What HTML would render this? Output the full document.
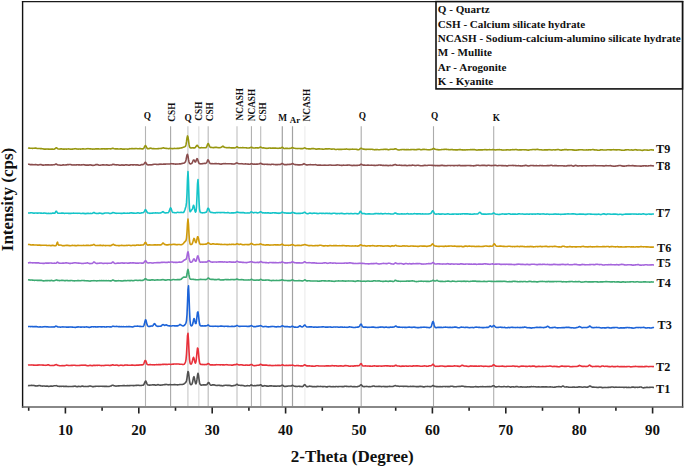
<!DOCTYPE html>
<html><head><meta charset="utf-8"><style>
html,body{margin:0;padding:0;background:#fff;width:685px;height:467px;overflow:hidden}
svg{display:block;font-family:"Liberation Serif",serif}
</style></head><body>
<svg width="685" height="467" viewBox="0 0 685 467">
<rect width="685" height="467" fill="#fff"/>
<line x1="145.5" y1="126.2" x2="145.5" y2="406" stroke="#b4b4b4" stroke-width="1.1"/>
<line x1="170.6" y1="126.2" x2="170.6" y2="406" stroke="#a8a8a8" stroke-width="1.1"/>
<line x1="187.9" y1="126.2" x2="187.9" y2="406" stroke="#cfcfcf" stroke-width="1.3"/>
<line x1="198.8" y1="126.2" x2="198.8" y2="406" stroke="#e0e0e0" stroke-width="1.3"/>
<line x1="208.2" y1="126.2" x2="208.2" y2="406" stroke="#bdbdbd" stroke-width="1.2"/>
<line x1="237.0" y1="126.2" x2="237.0" y2="406" stroke="#cdcdcd" stroke-width="1.4"/>
<line x1="251.4" y1="126.2" x2="251.4" y2="406" stroke="#a8a8a8" stroke-width="1.0"/>
<line x1="260.7" y1="126.2" x2="260.7" y2="406" stroke="#bdbdbd" stroke-width="1.1"/>
<line x1="282.3" y1="126.2" x2="282.3" y2="406" stroke="#a2a2a2" stroke-width="1.2"/>
<line x1="292.5" y1="126.2" x2="292.5" y2="406" stroke="#a2a2a2" stroke-width="1.2"/>
<line x1="304.9" y1="126.2" x2="304.9" y2="406" stroke="#eeeeee" stroke-width="1.3"/>
<line x1="361.2" y1="126.2" x2="361.2" y2="406" stroke="#ababab" stroke-width="1.1"/>
<line x1="433.5" y1="126.2" x2="433.5" y2="406" stroke="#ababab" stroke-width="1.1"/>
<line x1="493.7" y1="126.2" x2="493.7" y2="406" stroke="#b0b0b0" stroke-width="1.1"/>
<polyline fill="none" stroke="#979710" stroke-width="1.6" stroke-linejoin="round" points="28.0,147.92 28.5,148.06 29.0,148.12 29.5,148.14 30.0,148.27 30.5,148.32 31.0,148.27 31.5,148.26 32.0,148.33 32.5,148.38 33.0,148.29 33.5,148.28 34.0,148.24 34.5,148.18 35.0,148.03 35.5,148.14 36.0,148.11 36.5,148.29 37.0,148.43 37.5,148.57 38.0,148.44 38.5,148.52 39.0,148.53 39.5,148.55 40.0,148.49 40.5,148.66 41.0,148.66 41.5,148.64 42.0,148.73 42.5,148.81 43.0,148.87 43.5,149.03 44.0,149.08 44.5,149.03 45.0,149.12 45.5,149.12 46.0,148.98 46.5,149.02 47.0,149.12 47.5,149.00 48.0,149.06 48.5,149.15 49.0,149.10 49.5,149.14 50.0,149.30 50.5,149.16 51.0,149.15 51.5,149.24 52.0,149.08 52.5,149.08 53.0,149.15 53.5,149.19 54.0,149.22 54.5,149.08 55.0,148.76 55.5,148.27 56.0,147.85 56.5,147.72 57.0,148.15 57.5,148.56 58.0,148.90 58.5,149.05 59.0,149.06 59.5,149.04 60.0,149.10 60.5,148.90 61.0,148.78 61.5,148.87 62.0,149.01 62.5,149.01 63.0,149.13 63.5,149.13 64.0,149.12 64.5,149.14 65.0,149.06 65.5,149.06 66.0,149.11 66.5,149.11 67.0,148.99 67.5,148.94 68.0,148.96 68.5,148.91 69.0,148.99 69.5,149.05 70.0,149.13 70.5,149.17 71.0,149.18 71.5,149.17 72.0,149.12 72.5,149.16 73.0,149.03 73.5,149.07 74.0,148.88 74.5,148.74 75.0,148.67 75.5,148.70 76.0,148.68 76.5,148.96 77.0,149.04 77.5,149.02 78.0,149.09 78.5,149.11 79.0,148.94 79.5,148.99 80.0,149.08 80.5,149.10 81.0,148.99 81.5,149.00 82.0,149.01 82.5,148.89 83.0,148.87 83.5,148.88 84.0,148.95 84.5,148.96 85.0,149.04 85.5,148.98 86.0,149.03 86.5,148.82 87.0,148.73 87.5,148.74 88.0,148.63 88.5,148.70 89.0,148.72 89.5,148.85 90.0,148.76 90.5,148.96 91.0,148.91 91.5,148.93 92.0,148.96 92.5,149.12 93.0,149.06 93.5,149.03 94.0,149.12 94.5,148.97 95.0,148.94 95.5,148.91 96.0,148.92 96.5,148.87 97.0,148.90 97.5,148.73 98.0,148.85 98.5,148.85 99.0,148.97 99.5,149.01 100.0,149.05 100.5,148.94 101.0,148.91 101.5,148.84 102.0,148.81 102.5,148.84 103.0,148.76 103.5,148.74 104.0,148.86 104.5,148.84 105.0,148.78 105.5,148.90 106.0,149.05 106.5,148.84 107.0,148.87 107.5,148.89 108.0,148.75 108.5,148.70 109.0,148.80 109.5,148.82 110.0,148.80 110.5,148.95 111.0,148.82 111.5,148.70 112.0,148.41 112.5,148.18 113.0,148.22 113.5,148.39 114.0,148.64 114.5,148.84 115.0,148.94 115.5,148.83 116.0,148.91 116.5,148.86 117.0,148.85 117.5,148.89 118.0,149.00 118.5,149.00 119.0,149.05 119.5,149.02 120.0,148.92 120.5,148.90 121.0,148.92 121.5,148.88 122.0,148.96 122.5,149.11 123.0,149.10 123.5,149.09 124.0,149.07 124.5,149.13 125.0,148.99 125.5,148.99 126.0,148.96 126.5,149.05 127.0,149.07 127.5,149.26 128.0,149.12 128.5,148.96 129.0,148.96 129.5,148.75 130.0,148.65 130.5,148.78 131.0,148.78 131.5,148.58 132.0,148.67 132.5,148.67 133.0,148.59 133.5,148.71 134.0,148.79 134.5,148.66 135.0,148.65 135.5,148.59 136.0,148.48 136.5,148.57 137.0,148.67 137.5,148.71 138.0,148.70 138.5,148.77 139.0,148.66 139.5,148.60 140.0,148.59 140.5,148.60 141.0,148.67 141.5,148.76 142.0,148.96 142.5,148.83 143.0,148.87 143.5,148.59 144.0,147.95 144.5,146.72 145.0,145.82 145.5,145.52 146.0,146.14 146.5,147.18 147.0,148.11 147.5,148.67 148.0,148.77 148.5,148.66 149.0,148.60 149.5,148.48 150.0,148.16 150.5,148.12 151.0,148.36 151.5,148.41 152.0,148.46 152.5,148.61 153.0,148.72 153.5,148.63 154.0,148.63 154.5,148.70 155.0,148.76 155.5,148.73 156.0,148.75 156.5,148.76 157.0,148.68 157.5,148.71 158.0,148.60 158.5,148.63 159.0,148.52 159.5,148.57 160.0,148.52 160.5,148.44 161.0,148.41 161.5,148.44 162.0,148.19 162.5,148.01 163.0,148.03 163.5,147.81 164.0,147.94 164.5,148.19 165.0,148.29 165.5,148.25 166.0,148.44 166.5,148.41 167.0,148.49 167.5,148.50 168.0,148.57 168.5,148.69 169.0,148.65 169.5,148.54 170.0,148.38 170.5,148.48 171.0,148.44 171.5,148.53 172.0,148.60 172.5,148.73 173.0,148.63 173.5,148.54 174.0,148.45 174.5,148.40 175.0,148.49 175.5,148.50 176.0,148.51 176.5,148.47 177.0,148.41 177.5,148.40 178.0,148.38 178.5,148.36 179.0,148.35 179.5,148.28 180.0,148.11 180.5,148.07 181.0,147.95 181.5,147.86 182.0,147.79 182.5,147.66 183.0,147.33 183.5,147.19 184.0,147.00 184.5,146.93 185.0,146.64 185.5,146.18 186.0,144.70 186.5,141.72 187.0,137.95 187.5,135.91 188.0,137.02 188.5,140.42 189.0,144.14 189.5,146.62 190.0,147.58 190.5,147.90 191.0,147.99 191.5,148.02 192.0,147.81 192.5,147.75 193.0,147.85 193.5,147.85 194.0,147.87 194.5,147.97 195.0,147.80 195.5,147.21 196.0,146.60 196.5,145.73 197.0,145.24 197.5,145.45 198.0,146.17 198.5,146.92 199.0,147.52 199.5,147.74 200.0,147.85 200.5,147.83 201.0,147.74 201.5,147.65 202.0,147.72 202.5,147.79 203.0,147.79 203.5,147.76 204.0,147.77 204.5,147.74 205.0,147.73 205.5,147.82 206.0,147.66 206.5,147.07 207.0,145.88 207.5,144.55 208.0,143.50 208.5,143.70 209.0,144.94 209.5,146.33 210.0,147.05 210.5,147.37 211.0,147.52 211.5,147.42 212.0,147.41 212.5,147.57 213.0,147.69 213.5,147.65 214.0,147.60 214.5,147.54 215.0,147.36 215.5,147.27 216.0,147.34 216.5,147.35 217.0,147.44 217.5,147.53 218.0,147.70 218.5,147.66 219.0,147.79 219.5,147.71 220.0,147.61 220.5,147.51 221.0,147.41 221.5,147.11 222.0,146.81 222.5,146.36 223.0,146.18 223.5,146.58 224.0,147.04 224.5,147.30 225.0,147.50 225.5,147.57 226.0,147.49 226.5,147.69 227.0,147.77 227.5,147.68 228.0,147.59 228.5,147.68 229.0,147.65 229.5,147.51 230.0,147.69 230.5,147.81 231.0,147.85 231.5,147.80 232.0,147.92 232.5,147.75 233.0,147.90 233.5,147.80 234.0,147.94 234.5,147.92 235.0,147.99 235.5,147.60 236.0,147.36 236.5,147.03 237.0,146.86 237.5,147.07 238.0,147.51 238.5,147.70 239.0,147.70 239.5,147.79 240.0,147.73 240.5,147.67 241.0,147.70 241.5,147.72 242.0,147.68 242.5,147.60 243.0,147.64 243.5,147.77 244.0,147.69 244.5,147.77 245.0,147.82 245.5,147.77 246.0,147.77 246.5,147.85 247.0,147.96 247.5,147.96 248.0,148.06 248.5,147.99 249.0,147.97 249.5,147.88 250.0,147.80 250.5,147.57 251.0,147.31 251.5,147.21 252.0,147.36 252.5,147.67 253.0,147.90 253.5,147.93 254.0,148.04 254.5,147.93 255.0,147.98 255.5,147.85 256.0,147.79 256.5,147.80 257.0,148.00 257.5,147.86 258.0,147.86 258.5,147.92 259.0,147.78 259.5,147.54 260.0,147.28 260.5,147.05 261.0,147.18 261.5,147.51 262.0,147.82 262.5,147.99 263.0,148.02 263.5,147.87 264.0,148.06 264.5,148.02 265.0,148.11 265.5,148.20 266.0,148.34 266.5,148.22 267.0,148.39 267.5,148.30 268.0,148.20 268.5,148.13 269.0,148.04 269.5,147.96 270.0,148.10 270.5,148.15 271.0,148.13 271.5,148.21 272.0,148.26 272.5,148.01 273.0,148.12 273.5,148.15 274.0,148.26 274.5,148.09 275.0,148.27 275.5,148.14 276.0,148.15 276.5,148.18 277.0,148.32 277.5,148.32 278.0,148.37 278.5,148.32 279.0,148.20 279.5,148.14 280.0,148.16 280.5,148.17 281.0,148.04 281.5,147.69 282.0,147.27 282.5,147.25 283.0,147.68 283.5,148.19 284.0,148.45 284.5,148.58 285.0,148.49 285.5,148.32 286.0,148.33 286.5,148.32 287.0,148.37 287.5,148.41 288.0,148.49 288.5,148.49 289.0,148.52 289.5,148.42 290.0,148.40 290.5,148.31 291.0,148.19 291.5,147.93 292.0,147.55 292.5,147.47 293.0,147.66 293.5,147.98 294.0,148.22 294.5,148.28 295.0,148.31 295.5,148.43 296.0,148.47 296.5,148.46 297.0,148.59 297.5,148.52 298.0,148.50 298.5,148.48 299.0,148.52 299.5,148.47 300.0,148.56 300.5,148.60 301.0,148.64 301.5,148.60 302.0,148.73 302.5,148.59 303.0,148.54 303.5,148.38 304.0,148.12 304.5,147.85 305.0,147.96 305.5,148.21 306.0,148.55 306.5,148.74 307.0,148.79 307.5,148.75 308.0,148.81 308.5,148.86 309.0,148.91 309.5,148.92 310.0,148.92 310.5,148.95 311.0,148.87 311.5,148.63 312.0,148.65 312.5,148.66 313.0,148.51 313.5,148.48 314.0,148.75 314.5,148.71 315.0,148.84 315.5,149.06 316.0,149.22 316.5,149.13 317.0,149.15 317.5,149.05 318.0,148.88 318.5,148.81 319.0,148.85 319.5,148.88 320.0,149.05 320.5,149.05 321.0,149.02 321.5,149.05 322.0,149.09 322.5,149.10 323.0,149.19 323.5,149.18 324.0,149.16 324.5,149.06 325.0,148.88 325.5,148.90 326.0,148.92 326.5,148.92 327.0,148.88 327.5,148.98 328.0,148.90 328.5,148.85 329.0,148.68 329.5,148.78 330.0,148.88 330.5,148.95 331.0,148.97 331.5,149.13 332.0,149.21 332.5,148.96 333.0,148.93 333.5,149.01 334.0,149.07 334.5,149.14 335.0,149.41 335.5,149.45 336.0,149.43 336.5,149.44 337.0,149.29 337.5,149.21 338.0,149.26 338.5,149.38 339.0,149.31 339.5,149.35 340.0,149.37 340.5,149.41 341.0,149.27 341.5,149.39 342.0,149.33 342.5,149.30 343.0,149.20 343.5,149.26 344.0,149.23 344.5,149.20 345.0,149.15 345.5,149.19 346.0,149.10 346.5,148.92 347.0,149.10 347.5,149.20 348.0,149.22 348.5,149.23 349.0,149.42 349.5,149.33 350.0,149.38 350.5,149.28 351.0,149.26 351.5,149.20 352.0,149.18 352.5,149.15 353.0,149.24 353.5,149.23 354.0,149.23 354.5,149.26 355.0,149.28 355.5,149.22 356.0,149.26 356.5,149.34 357.0,149.52 357.5,149.60 358.0,149.65 358.5,149.70 359.0,149.68 359.5,149.36 360.0,148.81 360.5,148.38 361.0,148.19 361.5,148.24 362.0,148.58 362.5,148.89 363.0,149.09 363.5,149.05 364.0,149.11 364.5,149.24 365.0,149.39 365.5,149.33 366.0,149.42 366.5,149.37 367.0,149.33 367.5,149.22 368.0,149.33 368.5,149.29 369.0,149.31 369.5,149.31 370.0,149.37 370.5,149.34 371.0,149.24 371.5,149.22 372.0,149.22 372.5,149.42 373.0,149.44 373.5,149.55 374.0,149.67 374.5,149.85 375.0,149.66 375.5,149.57 376.0,149.67 376.5,149.65 377.0,149.56 377.5,149.54 378.0,149.71 378.5,149.75 379.0,149.76 379.5,149.76 380.0,149.66 380.5,149.57 381.0,149.44 381.5,149.44 382.0,149.44 382.5,149.56 383.0,149.40 383.5,149.44 384.0,149.37 384.5,149.30 385.0,149.28 385.5,149.38 386.0,149.20 386.5,149.34 387.0,149.38 387.5,149.51 388.0,149.67 388.5,149.84 389.0,149.63 389.5,149.55 390.0,149.40 390.5,149.23 391.0,149.23 391.5,149.22 392.0,149.31 392.5,149.29 393.0,149.34 393.5,149.29 394.0,149.28 394.5,149.02 395.0,148.86 395.5,148.77 396.0,148.87 396.5,149.14 397.0,149.43 397.5,149.67 398.0,149.82 398.5,150.00 399.0,149.96 399.5,149.93 400.0,149.79 400.5,149.70 401.0,149.63 401.5,149.68 402.0,149.55 402.5,149.55 403.0,149.48 403.5,149.47 404.0,149.63 404.5,149.65 405.0,149.64 405.5,149.76 406.0,149.83 406.5,149.60 407.0,149.59 407.5,149.67 408.0,149.65 408.5,149.61 409.0,149.80 409.5,149.77 410.0,149.71 410.5,149.66 411.0,149.75 411.5,149.51 412.0,149.51 412.5,149.47 413.0,149.55 413.5,149.49 414.0,149.72 414.5,149.66 415.0,149.75 415.5,149.69 416.0,149.60 416.5,149.54 417.0,149.59 417.5,149.39 418.0,149.38 418.5,149.33 419.0,149.24 419.5,149.34 420.0,149.50 420.5,149.64 421.0,149.73 421.5,149.67 422.0,149.59 422.5,149.51 423.0,149.31 423.5,149.36 424.0,149.42 424.5,149.34 425.0,149.45 425.5,149.53 426.0,149.52 426.5,149.58 427.0,149.76 427.5,149.71 428.0,149.81 428.5,149.82 429.0,149.84 429.5,149.82 430.0,149.72 430.5,149.62 431.0,149.56 431.5,149.51 432.0,149.23 432.5,149.11 433.0,148.69 433.5,148.41 434.0,148.49 434.5,149.00 435.0,149.23 435.5,149.32 436.0,149.46 436.5,149.54 437.0,149.60 437.5,149.56 438.0,149.61 438.5,149.67 439.0,149.90 439.5,149.79 440.0,149.81 440.5,149.75 441.0,149.74 441.5,149.48 442.0,149.52 442.5,149.55 443.0,149.54 443.5,149.42 444.0,149.46 444.5,149.35 445.0,149.25 445.5,149.29 446.0,149.37 446.5,149.39 447.0,149.42 447.5,149.49 448.0,149.57 448.5,149.60 449.0,149.61 449.5,149.67 450.0,149.75 450.5,149.65 451.0,149.53 451.5,149.48 452.0,149.65 452.5,149.62 453.0,149.74 453.5,149.79 454.0,149.92 454.5,149.77 455.0,149.75 455.5,149.84 456.0,149.93 456.5,149.83 457.0,149.87 457.5,149.90 458.0,149.81 458.5,149.72 459.0,149.64 459.5,149.63 460.0,149.60 460.5,149.53 461.0,149.66 461.5,149.80 462.0,149.88 462.5,149.80 463.0,149.85 463.5,149.91 464.0,149.94 464.5,149.90 465.0,149.99 465.5,150.06 466.0,149.85 466.5,149.79 467.0,149.80 467.5,149.84 468.0,149.69 468.5,149.78 469.0,149.76 469.5,149.74 470.0,149.68 470.5,149.63 471.0,149.61 471.5,149.69 472.0,149.62 472.5,149.61 473.0,149.74 473.5,149.66 474.0,149.62 474.5,149.61 475.0,149.71 475.5,149.82 476.0,150.04 476.5,150.01 477.0,150.14 477.5,150.07 478.0,149.92 478.5,149.88 479.0,149.81 479.5,149.83 480.0,149.82 480.5,149.91 481.0,149.82 481.5,149.86 482.0,149.81 482.5,149.87 483.0,149.77 483.5,149.79 484.0,149.80 484.5,149.64 485.0,149.65 485.5,149.70 486.0,149.67 486.5,149.71 487.0,149.94 487.5,149.84 488.0,149.75 488.5,149.72 489.0,149.80 489.5,149.63 490.0,149.75 490.5,149.75 491.0,149.69 491.5,149.70 492.0,149.79 492.5,149.61 493.0,149.64 493.5,149.78 494.0,149.77 494.5,149.75 495.0,149.87 495.5,149.95 496.0,149.84 496.5,149.78 497.0,149.81 497.5,149.74 498.0,149.66 498.5,149.71 499.0,149.69 499.5,149.65 500.0,149.66 500.5,149.77 501.0,149.79 501.5,149.85 502.0,149.97 502.5,150.04 503.0,150.12 503.5,150.05 504.0,150.05 504.5,149.94 505.0,150.03 505.5,149.99 506.0,149.91 506.5,149.79 507.0,149.86 507.5,149.79 508.0,149.72 508.5,149.85 509.0,149.95 509.5,149.95 510.0,149.89 510.5,149.91 511.0,149.76 511.5,149.77 512.0,149.66 512.5,149.73 513.0,149.64 513.5,149.74 514.0,149.72 514.5,149.73 515.0,149.60 515.5,149.51 516.0,149.57 516.5,149.58 517.0,149.72 517.5,149.77 518.0,149.95 518.5,149.96 519.0,149.92 519.5,149.89 520.0,149.97 520.5,149.88 521.0,149.86 521.5,149.85 522.0,149.82 522.5,149.68 523.0,149.78 523.5,149.77 524.0,149.82 524.5,149.75 525.0,149.84 525.5,149.80 526.0,149.80 526.5,149.91 527.0,149.99 527.5,150.09 528.0,150.13 528.5,150.12 529.0,149.95 529.5,149.95 530.0,149.83 530.5,149.77 531.0,149.80 531.5,149.70 532.0,149.65 532.5,149.50 533.0,149.52 533.5,149.49 534.0,149.57 534.5,149.57 535.0,149.74 535.5,149.62 536.0,149.55 536.5,149.52 537.0,149.40 537.5,149.31 538.0,149.52 538.5,149.57 539.0,149.69 539.5,149.74 540.0,149.83 540.5,149.70 541.0,149.77 541.5,149.76 542.0,149.98 542.5,149.98 543.0,150.01 543.5,149.94 544.0,149.95 544.5,149.81 545.0,149.85 545.5,149.84 546.0,150.03 546.5,149.85 547.0,149.85 547.5,149.85 548.0,149.83 548.5,149.66 549.0,149.78 549.5,149.70 550.0,149.65 550.5,149.85 551.0,149.98 551.5,149.92 552.0,149.96 552.5,149.92 553.0,149.83 553.5,149.69 554.0,149.72 554.5,149.84 555.0,149.93 555.5,149.84 556.0,149.82 556.5,149.76 557.0,149.65 557.5,149.43 558.0,149.51 558.5,149.55 559.0,149.69 559.5,149.87 560.0,150.11 560.5,149.98 561.0,150.08 561.5,150.13 562.0,149.95 562.5,149.80 563.0,149.87 563.5,149.70 564.0,149.72 564.5,149.61 565.0,149.60 565.5,149.59 566.0,149.68 566.5,149.59 567.0,149.78 567.5,149.85 568.0,149.94 568.5,149.81 569.0,149.80 569.5,149.73 570.0,149.76 570.5,149.69 571.0,149.78 571.5,149.74 572.0,149.84 572.5,149.86 573.0,149.80 573.5,150.00 574.0,150.21 574.5,150.05 575.0,150.05 575.5,150.28 576.0,150.19 576.5,150.04 577.0,150.13 577.5,150.07 578.0,149.88 578.5,149.79 579.0,149.83 579.5,149.82 580.0,149.82 580.5,149.76 581.0,149.79 581.5,149.68 582.0,149.69 582.5,149.80 583.0,149.91 583.5,149.95 584.0,150.04 584.5,150.05 585.0,149.97 585.5,149.93 586.0,149.95 586.5,149.85 587.0,149.94 587.5,149.95 588.0,149.92 588.5,149.83 589.0,149.86 589.5,149.78 590.0,149.73 590.5,149.86 591.0,149.84 591.5,149.73 592.0,149.67 592.5,149.58 593.0,149.50 593.5,149.63 594.0,149.83 594.5,149.79 595.0,149.88 595.5,150.01 596.0,149.96 596.5,149.91 597.0,150.08 597.5,150.30 598.0,150.27 598.5,150.26 599.0,150.29 599.5,150.26 600.0,150.04 600.5,149.88 601.0,149.87 601.5,149.78 602.0,149.74 602.5,149.79 603.0,150.02 603.5,149.96 604.0,150.02 604.5,150.01 605.0,150.04 605.5,149.95 606.0,149.98 606.5,149.93 607.0,149.82 607.5,149.73 608.0,149.69 608.5,149.73 609.0,149.72 609.5,149.81 610.0,149.88 610.5,149.88 611.0,149.83 611.5,149.89 612.0,149.79 612.5,149.70 613.0,149.78 613.5,149.67 614.0,149.67 614.5,149.81 615.0,149.87 615.5,149.70 616.0,149.85 616.5,149.87 617.0,149.85 617.5,149.75 618.0,149.79 618.5,149.74 619.0,149.70 619.5,149.72 620.0,149.90 620.5,149.97 621.0,150.00 621.5,150.10 622.0,150.17 622.5,150.21 623.0,150.24 623.5,150.27 624.0,150.19 624.5,150.17 625.0,149.99 625.5,149.91 626.0,149.88 626.5,149.87 627.0,149.69 627.5,149.73 628.0,149.71 628.5,149.81 629.0,149.91 629.5,150.02 630.0,150.07 630.5,150.02 631.0,149.99 631.5,149.90 632.0,149.95 632.5,150.09 633.0,150.14 633.5,150.01 634.0,149.97 634.5,149.82 635.0,149.62 635.5,149.71 636.0,149.83 636.5,149.79 637.0,149.94 637.5,150.11 638.0,149.99 638.5,149.93 639.0,150.02 639.5,149.99 640.0,149.95 640.5,150.06 641.0,150.19 641.5,150.30 642.0,150.37 642.5,150.38 643.0,150.19 643.5,150.09 644.0,150.03 644.5,149.91 645.0,149.93 645.5,150.01 646.0,149.96 646.5,150.04 647.0,150.11 647.5,150.06 648.0,150.16 648.5,150.30 649.0,150.22 649.5,150.00 650.0,149.94 650.5,149.84 651.0,149.70 651.5,149.69 652.0,149.95 652.5,149.96 653.0,149.92 653.5,150.13 654.0,150.08"/>
<polyline fill="none" stroke="#8a4d4d" stroke-width="1.6" stroke-linejoin="round" points="28.0,164.32 28.5,164.24 29.0,164.32 29.5,164.39 30.0,164.59 30.5,164.51 31.0,164.67 31.5,164.66 32.0,164.67 32.5,164.54 33.0,164.67 33.5,164.68 34.0,164.73 34.5,164.71 35.0,164.64 35.5,164.63 36.0,164.60 36.5,164.69 37.0,164.78 37.5,164.91 38.0,165.00 38.5,164.99 39.0,164.81 39.5,164.71 40.0,164.55 40.5,164.58 41.0,164.52 41.5,164.73 42.0,164.87 42.5,165.11 43.0,165.09 43.5,165.16 44.0,165.07 44.5,165.06 45.0,164.97 45.5,164.86 46.0,164.87 46.5,164.99 47.0,164.87 47.5,164.88 48.0,164.85 48.5,164.87 49.0,164.81 49.5,164.93 50.0,164.97 50.5,164.92 51.0,164.98 51.5,164.88 52.0,164.93 52.5,164.89 53.0,164.82 53.5,164.69 54.0,164.73 54.5,164.71 55.0,164.50 55.5,164.34 56.0,164.01 56.5,164.13 57.0,164.48 57.5,164.80 58.0,164.95 58.5,165.00 59.0,164.98 59.5,165.04 60.0,165.09 60.5,165.20 61.0,165.35 61.5,165.22 62.0,165.12 62.5,164.99 63.0,164.89 63.5,164.87 64.0,165.00 64.5,164.94 65.0,165.05 65.5,165.01 66.0,164.90 66.5,164.85 67.0,164.77 67.5,164.65 68.0,164.61 68.5,164.67 69.0,164.54 69.5,164.49 70.0,164.47 70.5,164.57 71.0,164.64 71.5,164.91 72.0,164.90 72.5,164.97 73.0,165.02 73.5,164.97 74.0,164.81 74.5,165.04 75.0,165.06 75.5,164.92 76.0,164.84 76.5,164.89 77.0,164.79 77.5,164.72 78.0,164.73 78.5,164.86 79.0,164.88 79.5,164.81 80.0,164.95 80.5,165.06 81.0,164.90 81.5,164.84 82.0,164.92 82.5,164.83 83.0,164.64 83.5,164.75 84.0,164.82 84.5,164.91 85.0,164.79 85.5,165.13 86.0,165.07 86.5,165.08 87.0,165.06 87.5,165.28 88.0,165.11 88.5,165.11 89.0,165.09 89.5,164.95 90.0,164.71 90.5,164.89 91.0,165.03 91.5,165.11 92.0,165.10 92.5,165.38 93.0,165.29 93.5,165.35 94.0,165.22 94.5,165.20 95.0,165.09 95.5,164.82 96.0,164.60 96.5,164.61 97.0,164.62 97.5,164.62 98.0,164.77 98.5,165.02 99.0,165.11 99.5,165.18 100.0,165.27 100.5,165.23 101.0,165.07 101.5,165.04 102.0,164.96 102.5,164.86 103.0,164.82 103.5,164.85 104.0,164.90 104.5,164.94 105.0,164.97 105.5,165.00 106.0,164.92 106.5,164.72 107.0,164.87 107.5,165.02 108.0,165.12 108.5,165.15 109.0,165.29 109.5,165.16 110.0,165.05 110.5,165.03 111.0,165.06 111.5,164.94 112.0,164.72 112.5,164.44 113.0,164.28 113.5,164.40 114.0,164.48 114.5,164.64 115.0,164.65 115.5,164.79 116.0,164.86 116.5,164.86 117.0,164.81 117.5,164.81 118.0,164.86 118.5,164.95 119.0,165.11 119.5,165.14 120.0,165.31 120.5,165.15 121.0,165.13 121.5,165.02 122.0,164.85 122.5,164.93 123.0,165.15 123.5,164.97 124.0,165.02 124.5,165.20 125.0,165.02 125.5,164.80 126.0,164.82 126.5,164.84 127.0,164.87 127.5,164.94 128.0,165.05 128.5,165.26 129.0,165.17 129.5,165.17 130.0,164.95 130.5,164.86 131.0,164.78 131.5,164.77 132.0,164.78 132.5,164.91 133.0,164.92 133.5,164.80 134.0,164.83 134.5,164.76 135.0,164.81 135.5,164.93 136.0,164.91 136.5,164.88 137.0,164.93 137.5,164.87 138.0,164.89 138.5,165.11 139.0,165.23 139.5,165.21 140.0,165.20 140.5,165.05 141.0,164.79 141.5,164.64 142.0,164.59 142.5,164.55 143.0,164.58 143.5,164.41 144.0,163.99 144.5,163.18 145.0,162.59 145.5,162.34 146.0,162.94 146.5,163.78 147.0,164.59 147.5,164.78 148.0,164.89 148.5,164.97 149.0,164.82 149.5,164.78 150.0,164.90 150.5,164.86 151.0,164.70 151.5,164.86 152.0,164.71 152.5,164.60 153.0,164.50 153.5,164.38 154.0,164.22 154.5,164.24 155.0,164.21 155.5,164.28 156.0,164.21 156.5,164.38 157.0,164.45 157.5,164.48 158.0,164.40 158.5,164.48 159.0,164.36 159.5,164.29 160.0,164.10 160.5,164.16 161.0,164.35 161.5,164.16 162.0,164.19 162.5,164.32 163.0,164.24 163.5,164.11 164.0,164.14 164.5,164.06 165.0,164.12 165.5,164.11 166.0,163.98 166.5,164.07 167.0,164.03 167.5,164.03 168.0,163.97 168.5,164.06 169.0,163.96 169.5,164.04 170.0,163.92 170.5,163.79 171.0,163.73 171.5,163.74 172.0,163.66 172.5,163.77 173.0,163.87 173.5,163.79 174.0,163.97 174.5,164.01 175.0,164.01 175.5,164.11 176.0,164.12 176.5,164.00 177.0,164.08 177.5,164.03 178.0,164.00 178.5,164.05 179.0,164.03 179.5,163.88 180.0,163.91 180.5,163.86 181.0,163.71 181.5,163.61 182.0,163.60 182.5,163.39 183.0,163.26 183.5,163.17 184.0,163.09 184.5,162.78 185.0,162.37 185.5,161.70 186.0,160.02 186.5,157.32 187.0,154.92 187.5,154.38 188.0,156.18 188.5,159.42 189.0,161.96 189.5,163.21 190.0,163.74 190.5,163.94 191.0,163.75 191.5,163.59 192.0,163.18 192.5,162.07 193.0,160.79 193.5,159.93 194.0,160.00 194.5,160.86 195.0,161.93 195.5,162.03 196.0,161.03 196.5,159.40 197.0,158.58 197.5,158.97 198.0,160.52 198.5,162.20 199.0,163.22 199.5,163.55 200.0,163.83 200.5,163.84 201.0,163.73 201.5,163.79 202.0,163.90 202.5,163.66 203.0,163.62 203.5,163.57 204.0,163.47 204.5,163.33 205.0,163.42 205.5,163.45 206.0,163.26 206.5,162.79 207.0,161.84 207.5,160.57 208.0,159.80 208.5,160.32 209.0,161.50 209.5,162.62 210.0,163.41 210.5,163.64 211.0,163.63 211.5,163.68 212.0,163.67 212.5,163.66 213.0,163.80 213.5,163.74 214.0,163.69 214.5,163.67 215.0,163.63 215.5,163.52 216.0,163.71 216.5,163.67 217.0,163.72 217.5,163.74 218.0,163.77 218.5,163.67 219.0,163.72 219.5,163.91 220.0,163.97 220.5,164.09 221.0,164.07 221.5,164.10 222.0,163.86 222.5,163.84 223.0,163.74 223.5,163.71 224.0,163.53 224.5,163.70 225.0,163.68 225.5,163.66 226.0,163.67 226.5,163.81 227.0,163.78 227.5,163.73 228.0,163.70 228.5,163.74 229.0,163.78 229.5,163.73 230.0,163.78 230.5,163.79 231.0,163.78 231.5,163.85 232.0,163.81 232.5,163.97 233.0,164.09 233.5,164.07 234.0,164.05 234.5,164.02 235.0,163.77 235.5,163.52 236.0,163.30 236.5,162.94 237.0,162.87 237.5,163.15 238.0,163.38 238.5,163.68 239.0,163.71 239.5,163.74 240.0,163.71 240.5,163.79 241.0,163.67 241.5,163.70 242.0,163.75 242.5,163.83 243.0,163.95 243.5,163.99 244.0,164.01 244.5,163.95 245.0,163.95 245.5,163.77 246.0,163.93 246.5,163.96 247.0,163.98 247.5,163.97 248.0,164.20 248.5,164.14 249.0,164.24 249.5,164.28 250.0,164.22 250.5,163.99 251.0,163.68 251.5,163.63 252.0,163.83 252.5,164.04 253.0,164.10 253.5,164.18 254.0,164.16 254.5,164.06 255.0,164.11 255.5,164.21 256.0,164.25 256.5,164.05 257.0,164.14 257.5,164.14 258.0,164.07 258.5,164.05 259.0,163.97 259.5,163.83 260.0,163.42 260.5,163.28 261.0,163.19 261.5,163.70 262.0,163.95 262.5,164.23 263.0,164.16 263.5,164.27 264.0,164.39 264.5,164.35 265.0,164.25 265.5,164.30 266.0,164.28 266.5,164.21 267.0,164.40 267.5,164.40 268.0,164.31 268.5,164.47 269.0,164.47 269.5,164.41 270.0,164.55 270.5,164.61 271.0,164.53 271.5,164.36 272.0,164.21 272.5,164.20 273.0,164.22 273.5,164.40 274.0,164.51 274.5,164.57 275.0,164.56 275.5,164.74 276.0,164.62 276.5,164.53 277.0,164.61 277.5,164.66 278.0,164.50 278.5,164.42 279.0,164.58 279.5,164.57 280.0,164.40 280.5,164.36 281.0,164.21 281.5,163.85 282.0,163.50 282.5,163.56 283.0,163.88 283.5,164.19 284.0,164.46 284.5,164.63 285.0,164.61 285.5,164.64 286.0,164.72 286.5,164.63 287.0,164.64 287.5,164.54 288.0,164.32 288.5,164.44 289.0,164.46 289.5,164.38 290.0,164.36 290.5,164.39 291.0,164.14 291.5,163.95 292.0,163.71 292.5,163.51 293.0,163.80 293.5,164.10 294.0,164.28 294.5,164.41 295.0,164.61 295.5,164.46 296.0,164.68 296.5,164.70 297.0,164.67 297.5,164.70 298.0,164.91 298.5,164.75 299.0,164.89 299.5,164.83 300.0,164.90 300.5,164.75 301.0,164.76 301.5,164.81 302.0,164.80 302.5,164.52 303.0,164.36 303.5,164.01 304.0,163.64 304.5,163.86 305.0,164.19 305.5,164.49 306.0,164.77 306.5,164.88 307.0,164.81 307.5,164.92 308.0,164.85 308.5,164.70 309.0,164.79 309.5,164.69 310.0,164.66 310.5,164.63 311.0,164.69 311.5,164.68 312.0,164.74 312.5,164.82 313.0,164.84 313.5,164.82 314.0,164.71 314.5,164.72 315.0,164.71 315.5,164.66 316.0,164.71 316.5,164.89 317.0,165.05 317.5,165.14 318.0,165.19 318.5,165.12 319.0,165.12 319.5,165.08 320.0,165.05 320.5,165.08 321.0,165.25 321.5,165.24 322.0,165.28 322.5,165.24 323.0,165.27 323.5,165.21 324.0,165.17 324.5,165.20 325.0,165.13 325.5,165.23 326.0,165.21 326.5,165.27 327.0,165.20 327.5,165.23 328.0,165.26 328.5,165.25 329.0,165.10 329.5,165.06 330.0,165.06 330.5,165.07 331.0,165.11 331.5,165.27 332.0,165.25 332.5,165.30 333.0,165.19 333.5,165.31 334.0,165.20 334.5,165.31 335.0,165.31 335.5,165.19 336.0,165.07 336.5,165.10 337.0,164.90 337.5,164.92 338.0,165.03 338.5,165.00 339.0,164.93 339.5,165.20 340.0,165.18 340.5,165.21 341.0,165.35 341.5,165.40 342.0,165.36 342.5,165.33 343.0,165.25 343.5,165.15 344.0,165.19 344.5,165.21 345.0,165.24 345.5,165.24 346.0,165.23 346.5,165.25 347.0,165.11 347.5,165.07 348.0,165.08 348.5,165.06 349.0,165.03 349.5,165.05 350.0,165.23 350.5,165.33 351.0,165.40 351.5,165.41 352.0,165.61 352.5,165.49 353.0,165.40 353.5,165.39 354.0,165.42 354.5,165.36 355.0,165.34 355.5,165.50 356.0,165.42 356.5,165.44 357.0,165.28 357.5,165.41 358.0,165.24 358.5,165.29 359.0,165.27 359.5,165.31 360.0,164.82 360.5,164.45 361.0,164.19 361.5,164.31 362.0,164.58 362.5,164.92 363.0,165.03 363.5,165.14 364.0,165.09 364.5,165.13 365.0,165.27 365.5,165.18 366.0,165.20 366.5,165.23 367.0,165.23 367.5,165.06 368.0,165.18 368.5,165.12 369.0,165.20 369.5,165.18 370.0,165.23 370.5,165.27 371.0,165.33 371.5,165.17 372.0,165.21 372.5,165.24 373.0,165.21 373.5,165.30 374.0,165.49 374.5,165.38 375.0,165.31 375.5,165.43 376.0,165.46 376.5,165.32 377.0,165.32 377.5,165.33 378.0,165.19 378.5,164.98 379.0,165.04 379.5,165.03 380.0,165.00 380.5,165.10 381.0,165.16 381.5,165.16 382.0,165.29 382.5,165.44 383.0,165.35 383.5,165.40 384.0,165.35 384.5,165.43 385.0,165.43 385.5,165.37 386.0,165.37 386.5,165.48 387.0,165.40 387.5,165.48 388.0,165.66 388.5,165.62 389.0,165.57 389.5,165.45 390.0,165.34 390.5,165.25 391.0,165.48 391.5,165.50 392.0,165.44 392.5,165.38 393.0,165.37 393.5,165.05 394.0,164.85 394.5,164.74 395.0,164.58 395.5,164.54 396.0,164.77 396.5,165.14 397.0,165.28 397.5,165.28 398.0,165.21 398.5,165.22 399.0,165.22 399.5,165.14 400.0,165.18 400.5,165.32 401.0,165.35 401.5,165.33 402.0,165.36 402.5,165.46 403.0,165.49 403.5,165.53 404.0,165.39 404.5,165.40 405.0,165.38 405.5,165.42 406.0,165.42 406.5,165.64 407.0,165.67 407.5,165.59 408.0,165.47 408.5,165.48 409.0,165.28 409.5,165.39 410.0,165.50 410.5,165.42 411.0,165.30 411.5,165.43 412.0,165.32 412.5,165.06 413.0,165.20 413.5,165.31 414.0,165.25 414.5,165.44 415.0,165.62 415.5,165.51 416.0,165.51 416.5,165.47 417.0,165.27 417.5,165.29 418.0,165.30 418.5,165.27 419.0,165.46 419.5,165.57 420.0,165.60 420.5,165.68 421.0,165.75 421.5,165.73 422.0,165.67 422.5,165.75 423.0,165.64 423.5,165.59 424.0,165.39 424.5,165.37 425.0,165.28 425.5,165.45 426.0,165.42 426.5,165.52 427.0,165.52 427.5,165.43 428.0,165.25 428.5,165.30 429.0,165.18 429.5,165.21 430.0,165.27 430.5,165.31 431.0,165.23 431.5,165.26 432.0,165.38 432.5,165.29 433.0,165.44 433.5,165.56 434.0,165.63 434.5,165.42 435.0,165.59 435.5,165.60 436.0,165.49 436.5,165.50 437.0,165.65 437.5,165.61 438.0,165.63 438.5,165.65 439.0,165.71 439.5,165.55 440.0,165.68 440.5,165.49 441.0,165.37 441.5,165.33 442.0,165.41 442.5,165.39 443.0,165.42 443.5,165.58 444.0,165.63 444.5,165.75 445.0,165.61 445.5,165.71 446.0,165.75 446.5,165.69 447.0,165.58 447.5,165.59 448.0,165.45 448.5,165.50 449.0,165.43 449.5,165.51 450.0,165.57 450.5,165.63 451.0,165.49 451.5,165.57 452.0,165.53 452.5,165.51 453.0,165.54 453.5,165.66 454.0,165.64 454.5,165.63 455.0,165.47 455.5,165.50 456.0,165.44 456.5,165.45 457.0,165.52 457.5,165.68 458.0,165.43 458.5,165.42 459.0,165.35 459.5,165.34 460.0,165.47 460.5,165.63 461.0,165.64 461.5,165.72 462.0,165.67 462.5,165.54 463.0,165.67 463.5,165.60 464.0,165.73 464.5,165.64 465.0,165.61 465.5,165.61 466.0,165.73 466.5,165.55 467.0,165.57 467.5,165.52 468.0,165.43 468.5,165.46 469.0,165.44 469.5,165.52 470.0,165.60 470.5,165.64 471.0,165.60 471.5,165.79 472.0,165.80 472.5,165.82 473.0,165.82 473.5,165.91 474.0,165.67 474.5,165.73 475.0,165.65 475.5,165.59 476.0,165.40 476.5,165.40 477.0,165.29 477.5,165.26 478.0,165.32 478.5,165.28 479.0,165.51 479.5,165.56 480.0,165.59 480.5,165.51 481.0,165.56 481.5,165.38 482.0,165.32 482.5,165.34 483.0,165.38 483.5,165.34 484.0,165.40 484.5,165.37 485.0,165.39 485.5,165.53 486.0,165.67 486.5,165.67 487.0,165.62 487.5,165.51 488.0,165.26 488.5,165.27 489.0,165.24 489.5,165.36 490.0,165.42 490.5,165.54 491.0,165.59 491.5,165.60 492.0,165.57 492.5,165.56 493.0,165.61 493.5,165.45 494.0,165.42 494.5,165.34 495.0,165.30 495.5,165.27 496.0,165.53 496.5,165.54 497.0,165.70 497.5,165.82 498.0,165.71 498.5,165.51 499.0,165.57 499.5,165.45 500.0,165.57 500.5,165.52 501.0,165.56 501.5,165.60 502.0,165.61 502.5,165.49 503.0,165.68 503.5,165.67 504.0,165.68 504.5,165.77 505.0,165.62 505.5,165.66 506.0,165.81 506.5,165.85 507.0,165.87 507.5,165.92 508.0,165.81 508.5,165.59 509.0,165.48 509.5,165.48 510.0,165.52 510.5,165.52 511.0,165.45 511.5,165.48 512.0,165.42 512.5,165.43 513.0,165.39 513.5,165.65 514.0,165.58 514.5,165.50 515.0,165.49 515.5,165.63 516.0,165.65 516.5,165.75 517.0,165.78 517.5,165.81 518.0,165.80 518.5,165.59 519.0,165.67 519.5,165.82 520.0,165.85 520.5,165.83 521.0,165.94 521.5,165.95 522.0,165.78 522.5,165.86 523.0,165.79 523.5,165.68 524.0,165.58 524.5,165.64 525.0,165.49 525.5,165.41 526.0,165.39 526.5,165.49 527.0,165.64 527.5,165.76 528.0,165.95 528.5,165.99 529.0,165.88 529.5,165.76 530.0,165.64 530.5,165.49 531.0,165.54 531.5,165.52 532.0,165.43 532.5,165.53 533.0,165.58 533.5,165.65 534.0,165.67 534.5,165.72 535.0,165.71 535.5,165.71 536.0,165.60 536.5,165.57 537.0,165.65 537.5,165.68 538.0,165.79 538.5,165.71 539.0,165.72 539.5,165.64 540.0,165.60 540.5,165.48 541.0,165.57 541.5,165.65 542.0,165.69 542.5,165.60 543.0,165.73 543.5,165.83 544.0,165.74 544.5,165.79 545.0,165.82 545.5,165.80 546.0,165.72 546.5,165.70 547.0,165.62 547.5,165.62 548.0,165.55 548.5,165.58 549.0,165.64 549.5,165.63 550.0,165.43 550.5,165.42 551.0,165.28 551.5,165.30 552.0,165.41 552.5,165.69 553.0,165.66 553.5,165.78 554.0,165.75 554.5,165.64 555.0,165.58 555.5,165.54 556.0,165.64 556.5,165.65 557.0,165.75 557.5,165.78 558.0,165.85 558.5,165.75 559.0,165.79 559.5,165.78 560.0,165.82 560.5,165.77 561.0,165.72 561.5,165.81 562.0,165.73 562.5,165.70 563.0,165.85 563.5,165.98 564.0,165.90 564.5,165.89 565.0,166.08 565.5,166.00 566.0,165.97 566.5,165.92 567.0,165.85 567.5,165.59 568.0,165.59 568.5,165.58 569.0,165.58 569.5,165.60 570.0,165.59 570.5,165.54 571.0,165.41 571.5,165.49 572.0,165.66 572.5,165.96 573.0,166.04 573.5,166.10 574.0,165.98 574.5,165.66 575.0,165.42 575.5,165.35 576.0,165.46 576.5,165.56 577.0,165.85 577.5,165.91 578.0,165.96 578.5,166.00 579.0,165.88 579.5,165.81 580.0,165.70 580.5,165.77 581.0,165.76 581.5,165.89 582.0,165.84 582.5,165.95 583.0,165.82 583.5,165.73 584.0,165.67 584.5,165.79 585.0,165.75 585.5,165.83 586.0,165.84 586.5,165.83 587.0,165.79 587.5,165.79 588.0,165.79 588.5,165.75 589.0,165.79 589.5,165.77 590.0,165.70 590.5,165.71 591.0,165.66 591.5,165.68 592.0,165.74 592.5,165.73 593.0,165.60 593.5,165.64 594.0,165.54 594.5,165.43 595.0,165.59 595.5,165.65 596.0,165.71 596.5,165.74 597.0,165.84 597.5,165.74 598.0,165.76 598.5,165.77 599.0,165.80 599.5,165.75 600.0,165.73 600.5,165.74 601.0,165.73 601.5,165.71 602.0,165.69 602.5,165.80 603.0,165.97 603.5,165.92 604.0,165.96 604.5,166.04 605.0,165.83 605.5,165.66 606.0,165.64 606.5,165.71 607.0,165.67 607.5,165.79 608.0,165.77 608.5,165.83 609.0,165.70 609.5,165.71 610.0,165.67 610.5,165.67 611.0,165.72 611.5,165.90 612.0,165.95 612.5,166.06 613.0,166.16 613.5,166.18 614.0,166.16 614.5,166.19 615.0,166.16 615.5,166.10 616.0,166.04 616.5,165.95 617.0,165.89 617.5,165.84 618.0,165.68 618.5,165.62 619.0,165.46 619.5,165.45 620.0,165.50 620.5,165.53 621.0,165.63 621.5,165.83 622.0,165.84 622.5,165.95 623.0,166.20 623.5,166.07 624.0,166.09 624.5,166.11 625.0,166.02 625.5,165.96 626.0,165.99 626.5,165.88 627.0,165.79 627.5,165.71 628.0,165.64 628.5,165.59 629.0,165.56 629.5,165.66 630.0,165.71 630.5,165.74 631.0,165.71 631.5,165.73 632.0,165.65 632.5,165.66 633.0,165.60 633.5,165.79 634.0,165.85 634.5,165.89 635.0,165.89 635.5,165.98 636.0,165.88 636.5,165.96 637.0,166.00 637.5,166.01 638.0,165.96 638.5,166.03 639.0,166.03 639.5,166.06 640.0,166.08 640.5,166.14 641.0,166.11 641.5,166.13 642.0,166.06 642.5,165.89 643.0,165.92 643.5,165.92 644.0,165.75 644.5,165.74 645.0,165.83 645.5,165.88 646.0,165.91 646.5,165.88 647.0,165.94 647.5,165.97 648.0,165.96 648.5,165.85 649.0,165.81 649.5,165.77 650.0,165.78 650.5,165.62 651.0,165.54 651.5,165.73 652.0,165.84 652.5,165.73 653.0,165.85 653.5,165.96 654.0,166.09"/>
<polyline fill="none" stroke="#14c4c8" stroke-width="1.6" stroke-linejoin="round" points="28.0,212.99 28.5,213.01 29.0,212.92 29.5,212.99 30.0,213.01 30.5,212.78 31.0,212.77 31.5,212.78 32.0,212.77 32.5,212.96 33.0,213.03 33.5,213.10 34.0,213.18 34.5,213.11 35.0,213.05 35.5,213.02 36.0,213.07 36.5,213.06 37.0,213.14 37.5,213.04 38.0,213.12 38.5,212.99 39.0,213.01 39.5,213.01 40.0,213.05 40.5,213.11 41.0,213.22 41.5,213.14 42.0,213.23 42.5,213.27 43.0,213.19 43.5,213.15 44.0,213.14 44.5,213.04 45.0,213.05 45.5,213.19 46.0,213.29 46.5,213.33 47.0,213.47 47.5,213.49 48.0,213.41 48.5,213.37 49.0,213.42 49.5,213.48 50.0,213.50 50.5,213.40 51.0,213.43 51.5,213.39 52.0,213.20 52.5,212.98 53.0,213.14 53.5,213.11 54.0,213.18 54.5,213.17 55.0,213.07 55.5,212.10 56.0,211.26 56.5,211.27 57.0,212.13 57.5,212.91 58.0,213.28 58.5,213.21 59.0,213.30 59.5,213.32 60.0,213.19 60.5,213.19 61.0,213.26 61.5,213.12 62.0,213.06 62.5,213.24 63.0,213.10 63.5,213.15 64.0,213.30 64.5,213.42 65.0,213.21 65.5,213.29 66.0,213.29 66.5,213.30 67.0,213.21 67.5,213.22 68.0,213.31 68.5,213.38 69.0,213.35 69.5,213.35 70.0,213.46 70.5,213.40 71.0,213.38 71.5,213.26 72.0,213.32 72.5,213.28 73.0,213.19 73.5,213.15 74.0,213.24 74.5,213.20 75.0,213.24 75.5,213.22 76.0,213.20 76.5,213.23 77.0,213.27 77.5,213.32 78.0,213.34 78.5,213.24 79.0,213.22 79.5,213.23 80.0,213.31 80.5,213.43 81.0,213.48 81.5,213.52 82.0,213.43 82.5,213.18 83.0,213.31 83.5,213.40 84.0,213.39 84.5,213.49 85.0,213.72 85.5,213.56 86.0,213.62 86.5,213.50 87.0,213.36 87.5,213.34 88.0,213.42 88.5,213.37 89.0,213.46 89.5,213.57 90.0,213.42 90.5,213.42 91.0,213.43 91.5,213.44 92.0,213.39 92.5,213.32 93.0,212.91 93.5,212.59 94.0,212.44 94.5,212.73 95.0,213.17 95.5,213.32 96.0,213.34 96.5,213.50 97.0,213.54 97.5,213.43 98.0,213.35 98.5,213.40 99.0,213.25 99.5,213.13 100.0,213.12 100.5,213.21 101.0,213.23 101.5,213.54 102.0,213.65 102.5,213.66 103.0,213.62 103.5,213.52 104.0,213.22 104.5,213.13 105.0,213.00 105.5,213.02 106.0,213.05 106.5,213.06 107.0,212.99 107.5,212.97 108.0,213.05 108.5,213.07 109.0,213.21 109.5,213.39 110.0,213.46 110.5,213.47 111.0,213.33 111.5,213.30 112.0,213.05 112.5,212.73 113.0,212.45 113.5,212.73 114.0,212.77 114.5,212.89 115.0,213.07 115.5,213.19 116.0,213.14 116.5,213.34 117.0,213.32 117.5,213.28 118.0,213.24 118.5,213.22 119.0,213.19 119.5,213.19 120.0,213.30 120.5,213.29 121.0,213.48 121.5,213.37 122.0,213.48 122.5,213.26 123.0,213.20 123.5,213.06 124.0,213.18 124.5,213.05 125.0,213.21 125.5,213.24 126.0,213.23 126.5,213.21 127.0,213.33 127.5,213.12 128.0,213.28 128.5,213.31 129.0,213.25 129.5,213.13 130.0,213.13 130.5,212.92 131.0,212.91 131.5,212.91 132.0,212.90 132.5,212.98 133.0,213.18 133.5,213.11 134.0,213.09 134.5,213.26 135.0,213.32 135.5,213.21 136.0,213.19 136.5,213.11 137.0,212.93 137.5,212.86 138.0,212.84 138.5,212.90 139.0,213.04 139.5,213.14 140.0,213.18 140.5,213.12 141.0,212.94 141.5,212.85 142.0,212.76 142.5,212.69 143.0,212.68 143.5,212.53 144.0,211.96 144.5,211.08 145.0,210.11 145.5,209.62 146.0,210.19 146.5,211.27 147.0,212.12 147.5,212.64 148.0,213.02 148.5,212.98 149.0,213.08 149.5,213.25 150.0,213.34 150.5,213.15 151.0,213.33 151.5,213.25 152.0,213.13 152.5,213.00 153.0,213.09 153.5,212.95 154.0,212.92 154.5,213.03 155.0,212.99 155.5,212.86 156.0,212.91 156.5,212.96 157.0,212.95 157.5,212.91 158.0,213.06 158.5,213.03 159.0,213.10 159.5,212.93 160.0,213.01 160.5,212.90 161.0,212.71 161.5,212.41 162.0,212.28 162.5,211.86 163.0,211.65 163.5,211.99 164.0,212.47 164.5,212.74 165.0,212.84 165.5,212.91 166.0,212.93 166.5,212.80 167.0,212.68 167.5,212.77 168.0,212.82 168.5,212.44 169.0,211.66 169.5,210.40 170.0,208.80 170.5,207.80 171.0,208.31 171.5,209.83 172.0,211.26 172.5,212.19 173.0,212.49 173.5,212.54 174.0,212.52 174.5,212.75 175.0,212.79 175.5,212.79 176.0,212.72 176.5,212.73 177.0,212.42 177.5,212.31 178.0,212.31 178.5,212.43 179.0,212.43 179.5,212.48 180.0,212.43 180.5,212.40 181.0,212.33 181.5,212.35 182.0,212.48 182.5,212.50 183.0,212.58 183.5,212.39 184.0,211.92 184.5,210.79 185.0,209.42 185.5,207.84 186.0,206.19 186.5,202.66 187.0,193.48 187.5,178.86 188.0,171.54 188.5,181.28 189.0,198.09 189.5,208.44 190.0,211.63 190.5,211.62 191.0,210.71 191.5,209.91 192.0,209.61 192.5,208.89 193.0,206.83 193.5,205.22 194.0,206.16 194.5,208.93 195.0,211.15 195.5,212.16 196.0,211.31 196.5,206.79 197.0,196.29 197.5,183.82 198.0,179.57 198.5,188.43 199.0,201.13 199.5,209.08 200.0,211.72 200.5,212.44 201.0,212.51 201.5,212.70 202.0,212.80 202.5,212.87 203.0,212.81 203.5,212.82 204.0,212.71 204.5,212.65 205.0,212.57 205.5,212.57 206.0,212.35 206.5,211.84 207.0,210.74 207.5,209.22 208.0,208.22 208.5,208.22 209.0,209.37 209.5,210.96 210.0,211.80 210.5,212.14 211.0,212.44 211.5,212.40 212.0,212.48 212.5,212.48 213.0,212.63 213.5,212.69 214.0,212.87 214.5,212.68 215.0,212.88 215.5,212.72 216.0,212.67 216.5,212.54 217.0,212.54 217.5,212.58 218.0,212.57 218.5,212.49 219.0,212.59 219.5,212.52 220.0,212.53 220.5,212.64 221.0,212.56 221.5,212.55 222.0,212.59 222.5,212.47 223.0,212.45 223.5,212.51 224.0,212.59 224.5,212.59 225.0,212.71 225.5,212.71 226.0,212.82 226.5,212.72 227.0,212.74 227.5,212.59 228.0,212.64 228.5,212.65 229.0,212.84 229.5,212.96 230.0,213.07 230.5,213.01 231.0,212.98 231.5,212.83 232.0,212.85 232.5,212.90 233.0,212.86 233.5,212.79 234.0,212.89 234.5,212.81 235.0,212.70 235.5,212.74 236.0,212.54 236.5,212.13 237.0,211.94 237.5,211.97 238.0,212.24 238.5,212.41 239.0,212.50 239.5,212.51 240.0,212.71 240.5,212.65 241.0,212.74 241.5,212.66 242.0,212.71 242.5,212.56 243.0,212.59 243.5,212.62 244.0,212.74 244.5,212.89 245.0,213.03 245.5,213.06 246.0,213.05 246.5,213.04 247.0,212.97 247.5,213.01 248.0,212.88 248.5,212.95 249.0,212.99 249.5,212.94 250.0,212.75 250.5,212.44 251.0,211.93 251.5,211.92 252.0,212.11 252.5,212.35 253.0,212.72 253.5,212.88 254.0,212.65 254.5,212.48 255.0,212.48 255.5,212.47 256.0,212.50 256.5,212.61 257.0,212.80 257.5,212.96 258.0,212.79 258.5,212.76 259.0,212.65 259.5,212.35 260.0,211.95 260.5,211.83 261.0,211.87 261.5,212.12 262.0,212.49 262.5,212.84 263.0,212.83 263.5,212.75 264.0,212.88 264.5,212.95 265.0,212.85 265.5,212.85 266.0,213.04 266.5,212.97 267.0,212.85 267.5,212.78 268.0,212.85 268.5,212.84 269.0,212.94 269.5,213.02 270.0,213.13 270.5,213.15 271.0,213.17 271.5,213.03 272.0,212.92 272.5,212.91 273.0,212.81 273.5,212.73 274.0,212.83 274.5,212.91 275.0,212.83 275.5,213.02 276.0,212.87 276.5,212.94 277.0,213.14 277.5,213.18 278.0,213.08 278.5,213.32 279.0,213.38 279.5,213.14 280.0,213.14 280.5,213.08 281.0,212.92 281.5,212.49 282.0,212.27 282.5,212.13 283.0,212.39 283.5,212.67 284.0,212.87 284.5,212.92 285.0,212.97 285.5,212.89 286.0,213.06 286.5,213.10 287.0,213.01 287.5,213.10 288.0,213.14 288.5,213.07 289.0,213.08 289.5,213.19 290.0,213.13 290.5,213.11 291.0,212.98 291.5,212.90 292.0,212.44 292.5,212.29 293.0,212.51 293.5,212.73 294.0,212.72 294.5,213.13 295.0,213.14 295.5,213.26 296.0,213.38 296.5,213.48 297.0,213.37 297.5,213.44 298.0,213.38 298.5,213.38 299.0,213.39 299.5,213.37 300.0,213.42 300.5,213.40 301.0,213.30 301.5,213.25 302.0,213.26 302.5,213.11 303.0,212.96 303.5,212.77 304.0,212.47 304.5,212.22 305.0,212.37 305.5,212.70 306.0,213.22 306.5,213.40 307.0,213.66 307.5,213.68 308.0,213.72 308.5,213.54 309.0,213.35 309.5,213.12 310.0,213.06 310.5,213.17 311.0,213.11 311.5,213.44 312.0,213.44 312.5,213.48 313.0,213.17 313.5,213.28 314.0,213.13 314.5,213.20 315.0,213.16 315.5,213.26 316.0,213.32 316.5,213.40 317.0,213.39 317.5,213.46 318.0,213.62 318.5,213.56 319.0,213.42 319.5,213.28 320.0,213.31 320.5,213.28 321.0,213.30 321.5,213.36 322.0,213.47 322.5,213.38 323.0,213.31 323.5,213.26 324.0,213.44 324.5,213.46 325.0,213.42 325.5,213.35 326.0,213.36 326.5,213.26 327.0,213.30 327.5,213.33 328.0,213.43 328.5,213.46 329.0,213.34 329.5,213.38 330.0,213.42 330.5,213.60 331.0,213.57 331.5,213.64 332.0,213.61 332.5,213.57 333.0,213.31 333.5,213.30 334.0,213.32 334.5,213.28 335.0,213.30 335.5,213.47 336.0,213.61 336.5,213.63 337.0,213.61 337.5,213.60 338.0,213.57 338.5,213.57 339.0,213.56 339.5,213.59 340.0,213.59 340.5,213.45 341.0,213.32 341.5,213.38 342.0,213.38 342.5,213.52 343.0,213.62 343.5,213.76 344.0,213.80 344.5,213.84 345.0,213.69 345.5,213.68 346.0,213.63 346.5,213.47 347.0,213.44 347.5,213.56 348.0,213.54 348.5,213.67 349.0,213.72 349.5,213.68 350.0,213.60 350.5,213.58 351.0,213.48 351.5,213.50 352.0,213.64 352.5,213.70 353.0,213.79 353.5,213.75 354.0,213.65 354.5,213.53 355.0,213.44 355.5,213.47 356.0,213.49 356.5,213.70 357.0,213.77 357.5,213.89 358.0,213.82 358.5,213.75 359.0,213.36 359.5,212.67 360.0,211.65 360.5,211.23 361.0,211.84 361.5,212.71 362.0,213.34 362.5,213.67 363.0,213.63 363.5,213.55 364.0,213.56 364.5,213.61 365.0,213.79 365.5,214.07 366.0,213.92 366.5,214.00 367.0,214.02 367.5,213.93 368.0,213.79 368.5,213.85 369.0,213.89 369.5,213.90 370.0,213.90 370.5,213.95 371.0,214.02 371.5,213.95 372.0,213.93 372.5,214.03 373.0,213.98 373.5,213.92 374.0,213.83 374.5,213.79 375.0,213.59 375.5,213.57 376.0,213.60 376.5,213.52 377.0,213.55 377.5,213.67 378.0,213.68 378.5,213.60 379.0,213.83 379.5,213.78 380.0,213.66 380.5,213.57 381.0,213.64 381.5,213.63 382.0,213.76 382.5,213.86 383.0,213.86 383.5,213.82 384.0,213.69 384.5,213.60 385.0,213.46 385.5,213.56 386.0,213.65 386.5,213.71 387.0,213.76 387.5,213.82 388.0,213.71 388.5,213.63 389.0,213.72 389.5,213.77 390.0,213.80 390.5,213.99 391.0,214.02 391.5,214.05 392.0,214.01 392.5,214.01 393.0,213.98 393.5,213.91 394.0,213.61 394.5,213.24 395.0,213.06 395.5,212.98 396.0,213.24 396.5,213.53 397.0,213.89 397.5,213.90 398.0,213.87 398.5,213.97 399.0,214.10 399.5,214.03 400.0,213.94 400.5,213.95 401.0,213.90 401.5,213.81 402.0,213.89 402.5,213.92 403.0,214.01 403.5,213.92 404.0,214.02 404.5,213.90 405.0,214.07 405.5,213.98 406.0,213.93 406.5,213.76 407.0,213.72 407.5,213.58 408.0,213.71 408.5,213.90 409.0,214.00 409.5,213.97 410.0,214.04 410.5,213.91 411.0,213.91 411.5,213.92 412.0,214.03 412.5,214.01 413.0,213.92 413.5,213.76 414.0,213.66 414.5,213.65 415.0,213.69 415.5,213.78 416.0,213.80 416.5,213.99 417.0,213.90 417.5,213.83 418.0,213.87 418.5,213.85 419.0,213.71 419.5,213.82 420.0,214.00 420.5,213.90 421.0,213.94 421.5,213.98 422.0,213.94 422.5,213.80 423.0,213.90 423.5,213.98 424.0,213.94 424.5,213.94 425.0,213.95 425.5,213.99 426.0,213.91 426.5,214.01 427.0,214.02 427.5,214.03 428.0,214.02 428.5,213.96 429.0,213.84 429.5,213.76 430.0,213.74 430.5,213.60 431.0,213.29 431.5,212.67 432.0,211.75 432.5,210.74 433.0,210.82 433.5,211.65 434.0,212.68 434.5,213.50 435.0,214.00 435.5,213.97 436.0,214.15 436.5,214.09 437.0,214.01 437.5,214.06 438.0,214.03 438.5,213.87 439.0,213.98 439.5,214.15 440.0,214.03 440.5,214.10 441.0,214.16 441.5,214.14 442.0,213.89 442.5,213.98 443.0,213.99 443.5,213.98 444.0,214.05 444.5,214.21 445.0,214.21 445.5,214.22 446.0,214.12 446.5,214.03 447.0,213.97 447.5,213.92 448.0,213.90 448.5,213.92 449.0,214.04 449.5,214.18 450.0,214.18 450.5,214.20 451.0,214.24 451.5,214.23 452.0,214.11 452.5,214.14 453.0,214.10 453.5,214.12 454.0,213.97 454.5,213.98 455.0,213.93 455.5,213.98 456.0,213.99 456.5,214.13 457.0,214.09 457.5,214.21 458.0,214.11 458.5,214.14 459.0,214.05 459.5,214.07 460.0,214.00 460.5,214.13 461.0,213.95 461.5,213.99 462.0,213.87 462.5,213.95 463.0,213.75 463.5,213.82 464.0,213.68 464.5,213.90 465.0,213.73 465.5,213.88 466.0,213.91 466.5,213.90 467.0,213.76 467.5,213.90 468.0,213.88 468.5,213.99 469.0,214.09 469.5,214.11 470.0,214.04 470.5,214.08 471.0,214.15 471.5,214.20 472.0,214.21 472.5,214.20 473.0,214.12 473.5,214.09 474.0,213.99 474.5,213.91 475.0,213.95 475.5,213.98 476.0,214.01 476.5,213.92 477.0,214.00 477.5,214.00 478.0,213.78 478.5,213.21 479.0,212.83 479.5,212.43 480.0,212.26 480.5,212.66 481.0,213.36 481.5,213.87 482.0,213.95 482.5,213.93 483.0,214.16 483.5,214.08 484.0,214.06 484.5,214.08 485.0,214.21 485.5,214.07 486.0,214.19 486.5,214.22 487.0,214.07 487.5,214.03 488.0,214.19 488.5,214.06 489.0,213.87 489.5,214.02 490.0,214.08 490.5,213.95 491.0,213.94 491.5,213.99 492.0,213.88 492.5,213.69 493.0,213.28 493.5,213.01 494.0,213.06 494.5,213.51 495.0,213.85 495.5,214.09 496.0,214.21 496.5,214.27 497.0,214.25 497.5,214.26 498.0,214.40 498.5,214.46 499.0,214.43 499.5,214.32 500.0,214.35 500.5,214.26 501.0,214.16 501.5,214.06 502.0,213.96 502.5,213.92 503.0,213.94 503.5,214.01 504.0,214.02 504.5,214.22 505.0,214.16 505.5,214.13 506.0,214.11 506.5,214.14 507.0,214.03 507.5,213.92 508.0,213.83 508.5,213.67 509.0,213.76 509.5,213.81 510.0,214.02 510.5,214.10 511.0,214.19 511.5,214.18 512.0,214.15 512.5,214.13 513.0,214.13 513.5,214.10 514.0,214.08 514.5,214.11 515.0,214.05 515.5,214.09 516.0,214.28 516.5,214.25 517.0,214.22 517.5,214.09 518.0,214.01 518.5,213.86 519.0,213.74 519.5,213.78 520.0,213.98 520.5,213.94 521.0,213.95 521.5,214.03 522.0,214.06 522.5,213.92 523.0,213.95 523.5,214.11 524.0,214.18 524.5,214.16 525.0,214.26 525.5,214.20 526.0,214.06 526.5,214.08 527.0,213.98 527.5,214.01 528.0,214.18 528.5,214.26 529.0,214.12 529.5,214.13 530.0,213.99 530.5,213.98 531.0,213.95 531.5,214.11 532.0,214.11 532.5,214.15 533.0,214.08 533.5,214.04 534.0,213.93 534.5,214.00 535.0,214.13 535.5,214.14 536.0,214.06 536.5,213.97 537.0,213.95 537.5,213.91 538.0,213.88 538.5,213.92 539.0,214.02 539.5,214.09 540.0,214.08 540.5,214.10 541.0,214.07 541.5,214.07 542.0,214.03 542.5,213.97 543.0,213.87 543.5,213.91 544.0,214.04 544.5,214.04 545.0,214.22 545.5,214.30 546.0,214.30 546.5,214.12 547.0,214.06 547.5,214.06 548.0,214.10 548.5,214.17 549.0,214.32 549.5,214.36 550.0,214.24 550.5,214.23 551.0,214.22 551.5,214.21 552.0,214.24 552.5,214.27 553.0,214.21 553.5,214.14 554.0,214.04 554.5,214.08 555.0,213.92 555.5,213.96 556.0,214.15 556.5,214.19 557.0,214.04 557.5,214.18 558.0,214.29 558.5,214.11 559.0,214.18 559.5,214.27 560.0,214.24 560.5,214.37 561.0,214.39 561.5,214.31 562.0,214.27 562.5,214.32 563.0,214.13 563.5,214.18 564.0,214.23 564.5,214.16 565.0,214.17 565.5,214.12 566.0,214.05 566.5,213.94 567.0,214.00 567.5,213.91 568.0,213.93 568.5,213.85 569.0,213.95 569.5,214.00 570.0,213.98 570.5,213.93 571.0,213.98 571.5,214.04 572.0,213.85 572.5,213.91 573.0,213.83 573.5,213.86 574.0,213.86 574.5,213.99 575.0,214.03 575.5,214.08 576.0,214.25 576.5,214.26 577.0,214.38 577.5,214.28 578.0,214.26 578.5,214.20 579.0,214.12 579.5,214.03 580.0,214.14 580.5,214.13 581.0,214.11 581.5,214.13 582.0,214.18 582.5,214.11 583.0,214.23 583.5,214.13 584.0,214.19 584.5,214.24 585.0,214.35 585.5,214.35 586.0,214.45 586.5,214.19 587.0,214.17 587.5,214.09 588.0,214.06 588.5,213.99 589.0,214.09 589.5,213.99 590.0,214.06 590.5,214.15 591.0,214.13 591.5,214.16 592.0,214.30 592.5,214.19 593.0,214.24 593.5,214.29 594.0,214.29 594.5,214.26 595.0,214.44 595.5,214.19 596.0,214.30 596.5,214.34 597.0,214.37 597.5,214.23 598.0,214.22 598.5,214.15 599.0,214.23 599.5,214.27 600.0,214.42 600.5,214.58 601.0,214.53 601.5,214.43 602.0,214.26 602.5,214.08 603.0,214.02 603.5,213.86 604.0,213.90 604.5,213.92 605.0,214.16 605.5,214.23 606.0,214.38 606.5,214.41 607.0,214.32 607.5,214.10 608.0,213.92 608.5,214.05 609.0,214.05 609.5,214.06 610.0,214.10 610.5,214.29 611.0,214.23 611.5,214.21 612.0,214.24 612.5,214.20 613.0,214.14 613.5,214.17 614.0,214.08 614.5,214.06 615.0,214.19 615.5,214.12 616.0,214.13 616.5,214.21 617.0,214.35 617.5,214.39 618.0,214.50 618.5,214.48 619.0,214.40 619.5,214.29 620.0,214.21 620.5,214.27 621.0,214.32 621.5,214.54 622.0,214.61 622.5,214.58 623.0,214.55 623.5,214.45 624.0,214.28 624.5,214.19 625.0,214.25 625.5,214.10 626.0,214.13 626.5,214.04 627.0,214.19 627.5,214.05 628.0,214.18 628.5,214.04 629.0,214.11 629.5,214.11 630.0,214.13 630.5,214.07 631.0,214.15 631.5,214.02 632.0,213.96 632.5,214.05 633.0,213.97 633.5,214.04 634.0,214.15 634.5,214.05 635.0,214.03 635.5,214.06 636.0,214.18 636.5,214.12 637.0,214.25 637.5,214.31 638.0,214.22 638.5,213.94 639.0,214.09 639.5,214.01 640.0,213.96 640.5,214.18 641.0,214.28 641.5,214.16 642.0,214.01 642.5,214.00 643.0,213.85 643.5,213.90 644.0,213.99 644.5,214.09 645.0,214.19 645.5,214.33 646.0,214.37 646.5,214.27 647.0,214.34 647.5,214.18 648.0,214.08 648.5,213.94 649.0,214.05 649.5,214.10 650.0,214.16 650.5,214.16 651.0,214.33 651.5,214.31 652.0,214.10 652.5,214.03 653.0,214.06 653.5,214.04 654.0,214.01"/>
<polyline fill="none" stroke="#d09a0a" stroke-width="1.6" stroke-linejoin="round" points="28.0,244.39 28.5,244.50 29.0,244.53 29.5,244.54 30.0,244.62 30.5,244.85 31.0,244.90 31.5,244.93 32.0,244.92 32.5,244.83 33.0,244.88 33.5,244.86 34.0,245.03 34.5,245.04 35.0,245.01 35.5,245.02 36.0,245.02 36.5,244.96 37.0,245.01 37.5,245.22 38.0,245.17 38.5,245.08 39.0,245.17 39.5,245.15 40.0,245.10 40.5,245.20 41.0,245.40 41.5,245.33 42.0,245.26 42.5,245.33 43.0,245.27 43.5,245.22 44.0,245.18 44.5,245.28 45.0,245.20 45.5,245.18 46.0,245.24 46.5,245.40 47.0,245.41 47.5,245.51 48.0,245.54 48.5,245.44 49.0,245.36 49.5,245.56 50.0,245.56 50.5,245.59 51.0,245.59 51.5,245.61 52.0,245.34 52.5,245.32 53.0,245.34 53.5,245.52 54.0,245.60 54.5,245.77 55.0,245.78 55.5,245.65 56.0,245.43 56.5,244.78 57.0,242.89 57.5,242.08 58.0,243.74 58.5,244.98 59.0,245.14 59.5,245.10 60.0,244.94 60.5,245.09 61.0,245.20 61.5,245.29 62.0,245.49 62.5,245.67 63.0,245.56 63.5,245.67 64.0,245.68 64.5,245.60 65.0,245.54 65.5,245.48 66.0,245.33 66.5,245.30 67.0,245.34 67.5,245.28 68.0,245.38 68.5,245.50 69.0,245.61 69.5,245.62 70.0,245.73 70.5,245.71 71.0,245.63 71.5,245.55 72.0,245.48 72.5,245.35 73.0,245.50 73.5,245.51 74.0,245.42 74.5,245.47 75.0,245.64 75.5,245.53 76.0,245.63 76.5,245.67 77.0,245.60 77.5,245.42 78.0,245.41 78.5,245.45 79.0,245.40 79.5,245.55 80.0,245.53 80.5,245.52 81.0,245.45 81.5,245.58 82.0,245.48 82.5,245.44 83.0,245.48 83.5,245.35 84.0,245.49 84.5,245.46 85.0,245.59 85.5,245.48 86.0,245.52 86.5,245.25 87.0,245.33 87.5,245.30 88.0,245.42 88.5,245.41 89.0,245.47 89.5,245.49 90.0,245.44 90.5,245.27 91.0,245.35 91.5,245.30 92.0,245.13 92.5,245.10 93.0,244.86 93.5,244.54 94.0,244.46 94.5,244.84 95.0,245.23 95.5,245.51 96.0,245.54 96.5,245.55 97.0,245.47 97.5,245.46 98.0,245.39 98.5,245.47 99.0,245.44 99.5,245.36 100.0,245.16 100.5,245.41 101.0,245.35 101.5,245.46 102.0,245.47 102.5,245.67 103.0,245.38 103.5,245.38 104.0,245.52 104.5,245.54 105.0,245.46 105.5,245.66 106.0,245.60 106.5,245.45 107.0,245.54 107.5,245.56 108.0,245.54 108.5,245.57 109.0,245.59 109.5,245.53 110.0,245.62 110.5,245.63 111.0,245.61 111.5,245.28 112.0,245.05 112.5,244.63 113.0,244.34 113.5,244.40 114.0,244.85 114.5,245.15 115.0,245.16 115.5,245.22 116.0,245.39 116.5,245.55 117.0,245.49 117.5,245.56 118.0,245.55 118.5,245.65 119.0,245.64 119.5,245.64 120.0,245.55 120.5,245.52 121.0,245.44 121.5,245.31 122.0,245.37 122.5,245.49 123.0,245.55 123.5,245.55 124.0,245.63 124.5,245.50 125.0,245.44 125.5,245.58 126.0,245.44 126.5,245.37 127.0,245.49 127.5,245.50 128.0,245.27 128.5,245.25 129.0,245.32 129.5,245.31 130.0,245.41 130.5,245.46 131.0,245.62 131.5,245.50 132.0,245.43 132.5,245.28 133.0,245.28 133.5,245.25 134.0,245.39 134.5,245.31 135.0,245.43 135.5,245.38 136.0,245.25 136.5,245.15 137.0,245.11 137.5,245.02 138.0,245.06 138.5,245.11 139.0,245.16 139.5,245.23 140.0,245.22 140.5,245.09 141.0,245.10 141.5,244.99 142.0,244.97 142.5,244.94 143.0,245.00 143.5,244.71 144.0,244.22 144.5,243.47 145.0,242.67 145.5,242.30 146.0,242.84 146.5,243.86 147.0,244.66 147.5,245.04 148.0,245.10 148.5,245.01 149.0,244.88 149.5,244.86 150.0,244.86 150.5,244.93 151.0,244.97 151.5,245.04 152.0,245.02 152.5,245.02 153.0,245.03 153.5,244.99 154.0,244.87 154.5,244.88 155.0,244.87 155.5,244.83 156.0,244.83 156.5,245.05 157.0,244.95 157.5,244.90 158.0,244.92 158.5,244.86 159.0,244.70 159.5,244.87 160.0,244.93 160.5,244.91 161.0,244.91 161.5,244.61 162.0,244.02 162.5,243.36 163.0,243.02 163.5,243.23 164.0,243.85 164.5,244.31 165.0,244.66 165.5,244.65 166.0,244.75 166.5,244.85 167.0,244.91 167.5,244.83 168.0,244.90 168.5,244.83 169.0,244.58 169.5,244.53 170.0,244.50 170.5,244.62 171.0,244.69 171.5,244.60 172.0,244.56 172.5,244.54 173.0,244.37 173.5,244.22 174.0,244.33 174.5,244.38 175.0,244.31 175.5,244.47 176.0,244.65 176.5,244.69 177.0,244.65 177.5,244.74 178.0,244.58 178.5,244.46 179.0,244.44 179.5,244.44 180.0,244.61 180.5,244.74 181.0,244.72 181.5,244.77 182.0,244.56 182.5,244.17 183.0,243.85 183.5,243.37 184.0,242.74 184.5,242.13 185.0,241.64 185.5,241.17 186.0,240.49 186.5,238.04 187.0,231.99 187.5,223.25 188.0,218.97 188.5,224.28 189.0,234.11 189.5,240.94 190.0,243.68 190.5,244.49 191.0,244.50 191.5,244.40 192.0,244.02 192.5,243.11 193.0,241.35 193.5,239.51 194.0,238.37 194.5,239.01 195.0,240.70 195.5,242.26 196.0,242.69 196.5,241.38 197.0,238.98 197.5,236.86 198.0,236.78 198.5,238.67 199.0,241.33 199.5,243.27 200.0,244.08 200.5,244.40 201.0,244.33 201.5,244.30 202.0,244.21 202.5,244.33 203.0,244.38 203.5,244.27 204.0,244.28 204.5,244.22 205.0,244.28 205.5,244.11 206.0,244.21 206.5,244.00 207.0,243.73 207.5,243.23 208.0,242.87 208.5,242.88 209.0,243.22 209.5,243.67 210.0,243.98 210.5,244.11 211.0,244.23 211.5,244.19 212.0,244.04 212.5,243.88 213.0,243.88 213.5,243.80 214.0,243.94 214.5,244.06 215.0,244.21 215.5,244.22 216.0,244.13 216.5,244.06 217.0,244.22 217.5,244.01 218.0,244.04 218.5,244.23 219.0,244.36 219.5,244.16 220.0,244.34 220.5,244.42 221.0,244.40 221.5,244.32 222.0,244.43 222.5,244.46 223.0,244.48 223.5,244.50 224.0,244.55 224.5,244.40 225.0,244.42 225.5,244.47 226.0,244.43 226.5,244.48 227.0,244.75 227.5,244.66 228.0,244.60 228.5,244.52 229.0,244.52 229.5,244.36 230.0,244.55 230.5,244.43 231.0,244.44 231.5,244.33 232.0,244.36 232.5,244.23 233.0,244.33 233.5,244.30 234.0,244.40 234.5,244.44 235.0,244.43 235.5,244.35 236.0,244.24 236.5,243.96 237.0,243.64 237.5,243.87 238.0,244.14 238.5,244.41 239.0,244.40 239.5,244.43 240.0,244.22 240.5,244.16 241.0,244.17 241.5,244.36 242.0,244.48 242.5,244.64 243.0,244.76 243.5,244.68 244.0,244.67 244.5,244.69 245.0,244.54 245.5,244.46 246.0,244.59 246.5,244.54 247.0,244.53 247.5,244.64 248.0,244.64 248.5,244.63 249.0,244.64 249.5,244.55 250.0,244.25 250.5,244.00 251.0,243.51 251.5,243.32 252.0,243.65 252.5,244.21 253.0,244.33 253.5,244.62 254.0,244.80 254.5,244.70 255.0,244.71 255.5,244.74 256.0,244.60 256.5,244.48 257.0,244.46 257.5,244.48 258.0,244.50 258.5,244.50 259.0,244.47 259.5,244.37 260.0,243.97 260.5,243.87 261.0,243.94 261.5,244.22 262.0,244.48 262.5,244.68 263.0,244.62 263.5,244.71 264.0,244.93 264.5,244.93 265.0,244.94 265.5,245.11 266.0,245.05 266.5,244.87 267.0,244.84 267.5,244.87 268.0,244.82 268.5,244.86 269.0,244.93 269.5,245.10 270.0,245.14 270.5,245.02 271.0,245.03 271.5,245.04 272.0,245.01 272.5,244.94 273.0,245.00 273.5,244.98 274.0,244.85 274.5,244.81 275.0,244.79 275.5,244.87 276.0,244.84 276.5,244.94 277.0,244.88 277.5,244.85 278.0,244.87 278.5,244.92 279.0,244.99 279.5,244.98 280.0,245.06 280.5,244.85 281.0,244.71 281.5,244.37 282.0,244.24 282.5,244.22 283.0,244.57 283.5,244.95 284.0,245.18 284.5,245.25 285.0,245.31 285.5,245.33 286.0,245.26 286.5,245.28 287.0,245.22 287.5,245.20 288.0,245.28 288.5,245.37 289.0,245.33 289.5,245.27 290.0,245.25 290.5,245.14 291.0,245.06 291.5,244.84 292.0,244.63 292.5,244.55 293.0,244.67 293.5,244.88 294.0,245.26 294.5,245.49 295.0,245.52 295.5,245.59 296.0,245.54 296.5,245.46 297.0,245.37 297.5,245.35 298.0,245.30 298.5,245.37 299.0,245.33 299.5,245.35 300.0,245.45 300.5,245.51 301.0,245.41 301.5,245.36 302.0,245.23 302.5,245.06 303.0,245.01 303.5,244.96 304.0,244.67 304.5,244.55 305.0,244.60 305.5,244.76 306.0,244.94 306.5,245.10 307.0,245.25 307.5,245.22 308.0,245.42 308.5,245.62 309.0,245.67 309.5,245.58 310.0,245.63 310.5,245.55 311.0,245.51 311.5,245.53 312.0,245.61 312.5,245.74 313.0,245.78 313.5,245.76 314.0,245.76 314.5,245.72 315.0,245.57 315.5,245.58 316.0,245.57 316.5,245.52 317.0,245.65 317.5,245.66 318.0,245.58 318.5,245.58 319.0,245.51 319.5,245.31 320.0,245.27 320.5,245.27 321.0,245.24 321.5,245.40 322.0,245.54 322.5,245.70 323.0,245.86 323.5,245.91 324.0,245.86 324.5,245.86 325.0,245.78 325.5,245.65 326.0,245.72 326.5,245.81 327.0,245.75 327.5,245.84 328.0,245.95 328.5,245.75 329.0,245.69 329.5,245.60 330.0,245.55 330.5,245.45 331.0,245.64 331.5,245.69 332.0,245.72 332.5,245.71 333.0,245.68 333.5,245.59 334.0,245.59 334.5,245.67 335.0,245.54 335.5,245.60 336.0,245.64 336.5,245.62 337.0,245.69 337.5,245.74 338.0,245.80 338.5,245.72 339.0,245.72 339.5,245.67 340.0,245.81 340.5,245.73 341.0,245.80 341.5,245.70 342.0,245.58 342.5,245.57 343.0,245.61 343.5,245.49 344.0,245.51 344.5,245.62 345.0,245.69 345.5,245.77 346.0,245.94 346.5,245.88 347.0,245.87 347.5,245.80 348.0,245.76 348.5,245.74 349.0,245.85 349.5,245.98 350.0,246.05 350.5,246.02 351.0,245.93 351.5,246.09 352.0,245.93 352.5,245.91 353.0,246.06 353.5,246.06 354.0,245.94 354.5,245.96 355.0,245.91 355.5,245.81 356.0,246.01 356.5,246.04 357.0,246.06 357.5,246.11 358.0,246.06 358.5,245.87 359.0,245.86 359.5,245.52 360.0,245.04 360.5,244.89 361.0,245.02 361.5,245.09 362.0,245.50 362.5,245.62 363.0,245.61 363.5,245.67 364.0,245.75 364.5,245.61 365.0,245.68 365.5,245.89 366.0,245.97 366.5,246.09 367.0,246.06 367.5,246.05 368.0,245.81 368.5,245.81 369.0,245.75 369.5,245.86 370.0,245.85 370.5,245.90 371.0,245.74 371.5,245.80 372.0,245.70 372.5,245.63 373.0,245.65 373.5,245.71 374.0,245.70 374.5,245.87 375.0,245.97 375.5,246.01 376.0,246.06 376.5,246.10 377.0,245.91 377.5,245.92 378.0,245.84 378.5,245.76 379.0,245.70 379.5,245.81 380.0,245.82 380.5,245.97 381.0,245.90 381.5,245.89 382.0,246.06 382.5,246.08 383.0,246.11 383.5,246.28 384.0,246.19 384.5,245.98 385.0,245.97 385.5,245.94 386.0,245.88 386.5,245.97 387.0,246.07 387.5,245.90 388.0,245.81 388.5,245.98 389.0,246.15 389.5,246.13 390.0,246.38 390.5,246.37 391.0,246.21 391.5,245.90 392.0,245.98 392.5,245.82 393.0,246.02 393.5,246.06 394.0,246.10 394.5,245.67 395.0,245.58 395.5,245.36 396.0,245.53 396.5,245.62 397.0,245.97 397.5,245.99 398.0,245.99 398.5,246.01 399.0,246.20 399.5,246.21 400.0,246.15 400.5,246.31 401.0,246.29 401.5,246.22 402.0,246.12 402.5,245.94 403.0,245.76 403.5,245.85 404.0,245.92 404.5,245.89 405.0,246.10 405.5,246.01 406.0,245.92 406.5,245.94 407.0,246.05 407.5,245.97 408.0,246.18 408.5,246.33 409.0,246.27 409.5,246.27 410.0,246.22 410.5,246.02 411.0,245.93 411.5,245.97 412.0,245.93 412.5,246.00 413.0,246.12 413.5,246.14 414.0,246.26 414.5,246.23 415.0,246.15 415.5,246.27 416.0,246.25 416.5,246.18 417.0,246.21 417.5,246.49 418.0,246.41 418.5,246.40 419.0,246.23 419.5,246.18 420.0,245.97 420.5,245.96 421.0,245.95 421.5,246.03 422.0,246.19 422.5,246.17 423.0,246.14 423.5,246.14 424.0,246.10 424.5,246.02 425.0,246.14 425.5,246.16 426.0,246.27 426.5,246.37 427.0,246.35 427.5,246.24 428.0,246.15 428.5,245.97 429.0,245.94 429.5,245.89 430.0,245.98 430.5,245.84 431.0,245.52 431.5,244.88 432.0,244.36 432.5,243.88 433.0,244.19 433.5,244.79 434.0,245.60 434.5,245.86 435.0,246.07 435.5,246.01 436.0,246.18 436.5,246.15 437.0,246.22 437.5,246.29 438.0,246.42 438.5,246.33 439.0,246.36 439.5,246.35 440.0,246.25 440.5,246.27 441.0,246.24 441.5,246.24 442.0,246.28 442.5,246.30 443.0,246.43 443.5,246.36 444.0,246.30 444.5,246.35 445.0,246.32 445.5,246.08 446.0,246.29 446.5,246.34 447.0,246.14 447.5,246.23 448.0,246.27 448.5,246.08 449.0,246.03 449.5,246.08 450.0,245.95 450.5,246.00 451.0,246.03 451.5,246.04 452.0,246.08 452.5,246.21 453.0,246.20 453.5,246.18 454.0,246.09 454.5,246.07 455.0,246.13 455.5,246.22 456.0,246.27 456.5,246.43 457.0,246.37 457.5,246.34 458.0,246.25 458.5,246.35 459.0,246.33 459.5,246.39 460.0,246.35 460.5,246.30 461.0,246.24 461.5,246.28 462.0,246.59 462.5,246.61 463.0,246.70 463.5,246.63 464.0,246.63 464.5,246.23 465.0,246.13 465.5,246.15 466.0,246.13 466.5,246.17 467.0,246.36 467.5,246.38 468.0,246.32 468.5,246.31 469.0,246.11 469.5,246.06 470.0,246.15 470.5,246.22 471.0,246.33 471.5,246.39 472.0,246.38 472.5,246.24 473.0,246.22 473.5,246.30 474.0,246.44 474.5,246.38 475.0,246.46 475.5,246.56 476.0,246.58 476.5,246.39 477.0,246.39 477.5,246.43 478.0,246.42 478.5,246.24 479.0,246.39 479.5,246.40 480.0,246.55 480.5,246.50 481.0,246.55 481.5,246.48 482.0,246.58 482.5,246.46 483.0,246.36 483.5,246.39 484.0,246.32 484.5,246.19 485.0,246.05 485.5,246.04 486.0,245.98 486.5,246.00 487.0,246.10 487.5,246.24 488.0,246.32 488.5,246.29 489.0,246.42 489.5,246.24 490.0,246.05 490.5,246.12 491.0,246.24 491.5,246.23 492.0,246.27 492.5,246.04 493.0,245.37 493.5,244.58 494.0,243.89 494.5,243.92 495.0,244.57 495.5,245.30 496.0,245.84 496.5,246.16 497.0,246.20 497.5,246.24 498.0,246.29 498.5,246.27 499.0,246.16 499.5,246.23 500.0,246.15 500.5,246.11 501.0,246.10 501.5,246.25 502.0,246.18 502.5,246.28 503.0,246.42 503.5,246.37 504.0,246.27 504.5,246.39 505.0,246.46 505.5,246.48 506.0,246.57 506.5,246.56 507.0,246.52 507.5,246.51 508.0,246.33 508.5,246.21 509.0,246.32 509.5,246.22 510.0,246.30 510.5,246.41 511.0,246.47 511.5,246.44 512.0,246.59 512.5,246.61 513.0,246.56 513.5,246.56 514.0,246.50 514.5,246.60 515.0,246.59 515.5,246.55 516.0,246.55 516.5,246.51 517.0,246.38 517.5,246.33 518.0,246.56 518.5,246.46 519.0,246.58 519.5,246.61 520.0,246.55 520.5,246.38 521.0,246.48 521.5,246.41 522.0,246.45 522.5,246.40 523.0,246.50 523.5,246.51 524.0,246.61 524.5,246.57 525.0,246.77 525.5,246.72 526.0,246.82 526.5,246.72 527.0,246.64 527.5,246.60 528.0,246.61 528.5,246.68 529.0,246.54 529.5,246.59 530.0,246.62 530.5,246.48 531.0,246.32 531.5,246.61 532.0,246.72 532.5,246.59 533.0,246.78 533.5,246.88 534.0,246.79 534.5,246.72 535.0,246.80 535.5,246.64 536.0,246.52 536.5,246.52 537.0,246.50 537.5,246.62 538.0,246.66 538.5,246.53 539.0,246.45 539.5,246.46 540.0,246.36 540.5,246.39 541.0,246.51 541.5,246.64 542.0,246.57 542.5,246.60 543.0,246.57 543.5,246.55 544.0,246.54 544.5,246.42 545.0,246.31 545.5,246.36 546.0,246.42 546.5,246.38 547.0,246.55 547.5,246.58 548.0,246.70 548.5,246.71 549.0,246.65 549.5,246.58 550.0,246.56 550.5,246.46 551.0,246.51 551.5,246.53 552.0,246.56 552.5,246.66 553.0,246.50 553.5,246.43 554.0,246.42 554.5,246.41 555.0,246.37 555.5,246.45 556.0,246.42 556.5,246.56 557.0,246.68 557.5,246.75 558.0,246.80 558.5,246.93 559.0,246.86 559.5,246.89 560.0,246.98 560.5,246.96 561.0,246.91 561.5,246.86 562.0,246.53 562.5,246.26 563.0,246.28 563.5,246.31 564.0,246.28 564.5,246.60 565.0,246.79 565.5,246.77 566.0,246.82 566.5,246.99 567.0,246.94 567.5,246.78 568.0,246.92 568.5,246.81 569.0,246.66 569.5,246.64 570.0,246.67 570.5,246.65 571.0,246.71 571.5,246.83 572.0,246.86 572.5,246.84 573.0,246.76 573.5,246.77 574.0,246.66 574.5,246.82 575.0,246.86 575.5,246.83 576.0,246.85 576.5,246.94 577.0,246.73 577.5,246.73 578.0,246.81 578.5,246.79 579.0,246.79 579.5,246.77 580.0,246.82 580.5,246.85 581.0,246.85 581.5,246.58 582.0,246.54 582.5,246.46 583.0,246.38 583.5,246.34 584.0,246.63 584.5,246.73 585.0,246.78 585.5,246.80 586.0,246.91 586.5,246.81 587.0,246.79 587.5,246.91 588.0,246.93 588.5,246.67 589.0,246.74 589.5,246.69 590.0,246.57 590.5,246.62 591.0,246.80 591.5,246.76 592.0,246.85 592.5,246.89 593.0,246.82 593.5,246.81 594.0,246.85 594.5,246.77 595.0,246.71 595.5,246.70 596.0,246.62 596.5,246.51 597.0,246.63 597.5,246.65 598.0,246.64 598.5,246.70 599.0,246.79 599.5,246.71 600.0,246.73 600.5,246.68 601.0,246.75 601.5,246.70 602.0,246.78 602.5,246.64 603.0,246.62 603.5,246.63 604.0,246.67 604.5,246.55 605.0,246.71 605.5,246.71 606.0,246.65 606.5,246.51 607.0,246.53 607.5,246.46 608.0,246.57 608.5,246.63 609.0,246.72 609.5,246.87 610.0,246.87 610.5,246.69 611.0,246.47 611.5,246.64 612.0,246.52 612.5,246.52 613.0,246.61 613.5,246.70 614.0,246.69 614.5,246.69 615.0,246.87 615.5,246.91 616.0,246.82 616.5,246.78 617.0,246.77 617.5,246.63 618.0,246.75 618.5,246.90 619.0,246.92 619.5,246.95 620.0,246.92 620.5,246.84 621.0,246.82 621.5,246.83 622.0,246.90 622.5,246.95 623.0,246.96 623.5,247.05 624.0,246.94 624.5,246.94 625.0,246.92 625.5,246.92 626.0,246.82 626.5,246.85 627.0,246.81 627.5,246.78 628.0,246.71 628.5,246.74 629.0,246.78 629.5,246.71 630.0,246.79 630.5,246.93 631.0,246.99 631.5,246.83 632.0,246.89 632.5,246.94 633.0,246.81 633.5,246.87 634.0,247.02 634.5,247.05 635.0,246.96 635.5,246.94 636.0,246.85 636.5,246.81 637.0,246.82 637.5,246.87 638.0,246.89 638.5,246.91 639.0,246.94 639.5,246.79 640.0,246.71 640.5,246.67 641.0,246.66 641.5,246.61 642.0,246.71 642.5,246.70 643.0,246.81 643.5,246.84 644.0,246.75 644.5,246.77 645.0,246.75 645.5,246.83 646.0,246.78 646.5,246.87 647.0,246.87 647.5,246.94 648.0,246.82 648.5,246.96 649.0,247.00 649.5,247.06 650.0,247.15 650.5,247.09 651.0,247.10 651.5,247.14 652.0,247.15 652.5,247.01 653.0,247.14 653.5,247.05 654.0,246.96"/>
<polyline fill="none" stroke="#a565dc" stroke-width="1.6" stroke-linejoin="round" points="28.0,262.98 28.5,262.85 29.0,262.75 29.5,262.66 30.0,262.60 30.5,262.62 31.0,262.77 31.5,262.74 32.0,262.81 32.5,262.89 33.0,262.77 33.5,262.74 34.0,262.85 34.5,262.76 35.0,262.76 35.5,262.84 36.0,262.90 36.5,262.83 37.0,262.92 37.5,262.84 38.0,262.85 38.5,262.84 39.0,262.93 39.5,263.13 40.0,263.28 40.5,263.23 41.0,263.20 41.5,263.32 42.0,263.19 42.5,263.22 43.0,263.40 43.5,263.42 44.0,263.30 44.5,263.35 45.0,263.21 45.5,263.03 46.0,263.04 46.5,263.12 47.0,263.08 47.5,263.12 48.0,263.16 48.5,263.09 49.0,263.14 49.5,263.00 50.0,262.97 50.5,263.04 51.0,263.04 51.5,262.98 52.0,263.23 52.5,263.22 53.0,263.19 53.5,263.21 54.0,263.21 54.5,263.13 55.0,263.20 55.5,263.25 56.0,263.22 56.5,262.88 57.0,262.38 57.5,262.10 58.0,262.41 58.5,262.94 59.0,263.02 59.5,263.15 60.0,263.25 60.5,263.26 61.0,263.17 61.5,263.27 62.0,263.20 62.5,263.17 63.0,263.15 63.5,263.07 64.0,263.16 64.5,263.06 65.0,262.93 65.5,262.86 66.0,262.95 66.5,262.89 67.0,262.90 67.5,263.07 68.0,263.07 68.5,263.29 69.0,263.29 69.5,263.49 70.0,263.40 70.5,263.51 71.0,263.29 71.5,263.29 72.0,263.20 72.5,263.16 73.0,263.04 73.5,263.02 74.0,262.88 74.5,262.78 75.0,262.82 75.5,262.80 76.0,262.89 76.5,263.03 77.0,262.99 77.5,263.02 78.0,263.12 78.5,263.10 79.0,263.01 79.5,263.16 80.0,263.26 80.5,263.30 81.0,263.30 81.5,263.49 82.0,263.56 82.5,263.47 83.0,263.41 83.5,263.51 84.0,263.32 84.5,263.22 85.0,263.25 85.5,263.21 86.0,263.11 86.5,263.06 87.0,262.99 87.5,262.85 88.0,263.06 88.5,263.18 89.0,263.38 89.5,263.44 90.0,263.65 90.5,263.57 91.0,263.54 91.5,263.51 92.0,263.39 92.5,263.22 93.0,262.81 93.5,262.29 94.0,261.97 94.5,262.24 95.0,262.65 95.5,262.88 96.0,263.21 96.5,263.43 97.0,263.38 97.5,263.27 98.0,263.36 98.5,263.31 99.0,263.18 99.5,263.13 100.0,263.18 100.5,263.05 101.0,262.99 101.5,263.09 102.0,263.19 102.5,263.22 103.0,263.40 103.5,263.44 104.0,263.37 104.5,263.29 105.0,263.22 105.5,263.18 106.0,263.22 106.5,263.32 107.0,263.41 107.5,263.37 108.0,263.33 108.5,263.23 109.0,263.21 109.5,263.20 110.0,263.25 110.5,263.24 111.0,263.27 111.5,263.02 112.0,262.63 112.5,262.16 113.0,262.10 113.5,262.26 114.0,262.83 114.5,263.30 115.0,263.46 115.5,263.45 116.0,263.46 116.5,263.29 117.0,263.18 117.5,263.11 118.0,263.09 118.5,263.10 119.0,263.19 119.5,263.27 120.0,263.12 120.5,263.10 121.0,262.96 121.5,262.93 122.0,262.81 122.5,263.03 123.0,263.10 123.5,263.10 124.0,263.10 124.5,263.15 125.0,263.00 125.5,262.95 126.0,263.06 126.5,263.01 127.0,262.96 127.5,263.31 128.0,263.23 128.5,263.10 129.0,263.07 129.5,263.09 130.0,262.83 130.5,262.85 131.0,262.89 131.5,262.99 132.0,262.98 132.5,262.90 133.0,262.85 133.5,262.89 134.0,262.91 134.5,262.97 135.0,263.04 135.5,263.09 136.0,263.13 136.5,263.20 137.0,263.12 137.5,263.17 138.0,263.22 138.5,263.13 139.0,263.00 139.5,263.05 140.0,262.98 140.5,262.95 141.0,263.08 141.5,263.14 142.0,263.10 142.5,263.13 143.0,263.21 143.5,262.90 144.0,262.45 144.5,261.85 145.0,261.10 145.5,260.65 146.0,261.06 146.5,261.81 147.0,262.50 147.5,262.84 148.0,262.94 148.5,262.96 149.0,262.87 149.5,262.77 150.0,262.70 150.5,262.73 151.0,262.84 151.5,262.98 152.0,263.06 152.5,263.06 153.0,263.11 153.5,262.93 154.0,262.79 154.5,262.82 155.0,262.81 155.5,262.75 156.0,262.81 156.5,262.79 157.0,262.59 157.5,262.69 158.0,262.58 158.5,262.63 159.0,262.71 159.5,262.67 160.0,262.59 160.5,262.59 161.0,262.43 161.5,262.25 162.0,262.35 162.5,262.36 163.0,262.26 163.5,262.29 164.0,262.39 164.5,262.29 165.0,262.23 165.5,262.45 166.0,262.57 166.5,262.41 167.0,262.39 167.5,262.47 168.0,262.27 168.5,262.15 169.0,262.22 169.5,262.34 170.0,262.13 170.5,262.05 171.0,261.97 171.5,262.06 172.0,262.00 172.5,262.05 173.0,262.23 173.5,262.35 174.0,262.26 174.5,262.23 175.0,262.37 175.5,262.41 176.0,262.37 176.5,262.41 177.0,262.42 177.5,262.35 178.0,262.19 178.5,262.19 179.0,262.12 179.5,262.09 180.0,262.16 180.5,262.22 181.0,262.21 181.5,262.01 182.0,261.90 182.5,261.54 183.0,261.12 183.5,260.60 184.0,260.38 184.5,260.02 185.0,259.73 185.5,259.55 186.0,259.37 186.5,258.31 187.0,256.09 187.5,253.06 188.0,251.76 188.5,253.71 189.0,257.38 189.5,260.09 190.0,261.54 190.5,262.21 191.0,262.28 191.5,262.20 192.0,261.86 192.5,261.28 193.0,260.24 193.5,259.19 194.0,258.84 194.5,259.43 195.0,260.52 195.5,261.26 196.0,261.16 196.5,259.94 197.0,257.95 197.5,256.10 198.0,255.91 198.5,257.47 199.0,259.61 199.5,261.17 200.0,261.98 200.5,262.12 201.0,262.18 201.5,262.07 202.0,262.03 202.5,262.10 203.0,262.21 203.5,262.01 204.0,262.03 204.5,262.08 205.0,262.00 205.5,261.92 206.0,262.15 206.5,262.10 207.0,261.97 207.5,261.48 208.0,260.99 208.5,260.71 209.0,260.73 209.5,261.02 210.0,261.41 210.5,261.83 211.0,261.93 211.5,262.07 212.0,262.14 212.5,262.24 213.0,262.08 213.5,262.04 214.0,261.96 214.5,262.02 215.0,262.02 215.5,261.99 216.0,262.04 216.5,262.09 217.0,262.04 217.5,262.05 218.0,261.96 218.5,261.92 219.0,261.84 219.5,261.88 220.0,261.80 220.5,261.84 221.0,261.82 221.5,261.95 222.0,261.89 222.5,261.92 223.0,262.12 223.5,262.00 224.0,261.94 224.5,261.88 225.0,261.95 225.5,261.95 226.0,262.01 226.5,262.09 227.0,262.20 227.5,262.11 228.0,261.97 228.5,261.99 229.0,261.92 229.5,261.90 230.0,261.89 230.5,262.02 231.0,262.11 231.5,262.14 232.0,262.03 232.5,262.17 233.0,262.09 233.5,262.08 234.0,262.09 234.5,262.24 235.0,262.18 235.5,262.22 236.0,261.80 236.5,261.45 237.0,261.29 237.5,261.36 238.0,261.61 238.5,261.92 239.0,262.11 239.5,262.04 240.0,262.13 240.5,262.09 241.0,262.18 241.5,262.15 242.0,262.37 242.5,262.40 243.0,262.33 243.5,262.41 244.0,262.50 244.5,262.44 245.0,262.57 245.5,262.57 246.0,262.59 246.5,262.61 247.0,262.53 247.5,262.43 248.0,262.29 248.5,262.18 249.0,262.22 249.5,262.06 250.0,261.89 250.5,261.87 251.0,261.68 251.5,261.58 252.0,261.78 252.5,262.12 253.0,262.37 253.5,262.32 254.0,262.23 254.5,262.49 255.0,262.59 255.5,262.57 256.0,262.49 256.5,262.48 257.0,262.38 257.5,262.28 258.0,262.24 258.5,262.62 259.0,262.55 259.5,262.26 260.0,261.98 260.5,261.71 261.0,261.51 261.5,261.82 262.0,262.25 262.5,262.42 263.0,262.42 263.5,262.45 264.0,262.50 264.5,262.42 265.0,262.49 265.5,262.63 266.0,262.58 266.5,262.57 267.0,262.75 267.5,262.78 268.0,262.73 268.5,262.86 269.0,262.80 269.5,262.56 270.0,262.50 270.5,262.53 271.0,262.50 271.5,262.55 272.0,262.68 272.5,262.61 273.0,262.63 273.5,262.66 274.0,262.66 274.5,262.70 275.0,262.62 275.5,262.54 276.0,262.59 276.5,262.72 277.0,262.68 277.5,262.80 278.0,262.78 278.5,262.71 279.0,262.64 279.5,262.52 280.0,262.56 280.5,262.64 281.0,262.50 281.5,262.10 282.0,261.99 282.5,261.82 283.0,262.12 283.5,262.39 284.0,262.57 284.5,262.70 285.0,262.90 285.5,262.76 286.0,262.91 286.5,262.93 287.0,262.86 287.5,262.87 288.0,262.76 288.5,262.68 289.0,262.75 289.5,262.73 290.0,262.57 290.5,262.73 291.0,262.49 291.5,262.20 292.0,261.88 292.5,261.74 293.0,261.97 293.5,262.25 294.0,262.50 294.5,262.62 295.0,262.74 295.5,262.69 296.0,262.85 296.5,262.88 297.0,262.88 297.5,262.89 298.0,262.90 298.5,262.90 299.0,262.89 299.5,262.77 300.0,262.93 300.5,262.94 301.0,262.91 301.5,262.98 302.0,263.09 302.5,262.86 303.0,262.70 303.5,262.47 304.0,262.09 304.5,261.77 305.0,261.85 305.5,262.22 306.0,262.51 306.5,262.73 307.0,262.75 307.5,262.77 308.0,262.73 308.5,262.68 309.0,262.57 309.5,262.74 310.0,262.71 310.5,262.75 311.0,262.82 311.5,262.99 312.0,262.94 312.5,262.89 313.0,262.86 313.5,262.87 314.0,262.88 314.5,262.87 315.0,262.96 315.5,263.03 316.0,263.14 316.5,263.15 317.0,263.26 317.5,263.32 318.0,263.32 318.5,263.30 319.0,263.28 319.5,263.22 320.0,263.20 320.5,263.32 321.0,263.26 321.5,263.22 322.0,263.19 322.5,263.19 323.0,263.04 323.5,262.96 324.0,262.85 324.5,262.90 325.0,262.79 325.5,262.80 326.0,262.89 326.5,263.11 327.0,263.21 327.5,263.35 328.0,263.30 328.5,263.21 329.0,263.08 329.5,262.97 330.0,262.81 330.5,262.85 331.0,262.94 331.5,263.04 332.0,263.02 332.5,263.18 333.0,263.12 333.5,263.10 334.0,262.93 334.5,262.97 335.0,263.07 335.5,263.14 336.0,263.20 336.5,263.26 337.0,263.36 337.5,263.20 338.0,263.25 338.5,263.23 339.0,263.24 339.5,263.22 340.0,263.28 340.5,263.24 341.0,263.26 341.5,263.33 342.0,263.24 342.5,263.28 343.0,263.24 343.5,263.22 344.0,263.17 344.5,263.10 345.0,263.03 345.5,263.02 346.0,263.02 346.5,263.16 347.0,263.15 347.5,263.21 348.0,263.09 348.5,263.02 349.0,262.91 349.5,262.87 350.0,262.74 350.5,262.91 351.0,262.99 351.5,263.02 352.0,263.13 352.5,263.41 353.0,263.39 353.5,263.33 354.0,263.46 354.5,263.56 355.0,263.39 355.5,263.49 356.0,263.57 356.5,263.50 357.0,263.48 357.5,263.43 358.0,263.42 358.5,263.43 359.0,263.32 359.5,263.25 360.0,263.39 360.5,263.30 361.0,263.30 361.5,263.42 362.0,263.49 362.5,263.32 363.0,263.39 363.5,263.46 364.0,263.48 364.5,263.58 365.0,263.72 365.5,263.74 366.0,263.78 366.5,263.71 367.0,263.72 367.5,263.82 368.0,263.83 368.5,263.85 369.0,263.93 369.5,263.75 370.0,263.71 370.5,263.69 371.0,263.59 371.5,263.55 372.0,263.71 372.5,263.67 373.0,263.60 373.5,263.61 374.0,263.66 374.5,263.51 375.0,263.45 375.5,263.48 376.0,263.40 376.5,263.38 377.0,263.51 377.5,263.67 378.0,263.79 378.5,263.91 379.0,263.97 379.5,263.99 380.0,263.84 380.5,263.81 381.0,263.76 381.5,263.68 382.0,263.56 382.5,263.55 383.0,263.49 383.5,263.38 384.0,263.43 384.5,263.47 385.0,263.51 385.5,263.56 386.0,263.70 386.5,263.63 387.0,263.63 387.5,263.51 388.0,263.34 388.5,263.15 389.0,263.31 389.5,263.19 390.0,263.34 390.5,263.60 391.0,263.71 391.5,263.72 392.0,263.98 392.5,264.02 393.0,264.07 393.5,264.11 394.0,263.82 394.5,263.49 395.0,263.17 395.5,262.89 396.0,262.96 396.5,263.43 397.0,263.52 397.5,263.61 398.0,263.67 398.5,263.77 399.0,263.60 399.5,263.61 400.0,263.54 400.5,263.49 401.0,263.43 401.5,263.47 402.0,263.64 402.5,263.81 403.0,264.03 403.5,264.12 404.0,264.10 404.5,263.86 405.0,263.79 405.5,263.52 406.0,263.47 406.5,263.59 407.0,263.71 407.5,263.79 408.0,263.92 408.5,263.84 409.0,263.70 409.5,263.65 410.0,263.66 410.5,263.83 411.0,263.87 411.5,263.88 412.0,263.90 412.5,263.80 413.0,263.58 413.5,263.64 414.0,263.69 414.5,263.73 415.0,263.67 415.5,263.75 416.0,263.63 416.5,263.67 417.0,263.57 417.5,263.64 418.0,263.62 418.5,263.71 419.0,263.57 419.5,263.52 420.0,263.66 420.5,263.72 421.0,263.78 421.5,264.00 422.0,264.12 422.5,264.04 423.0,264.03 423.5,264.09 424.0,263.99 424.5,264.02 425.0,263.96 425.5,263.98 426.0,263.98 426.5,263.81 427.0,263.78 427.5,263.77 428.0,263.73 428.5,263.51 429.0,263.71 429.5,263.67 430.0,263.68 430.5,263.66 431.0,263.65 431.5,263.44 432.0,263.09 432.5,262.68 433.0,262.52 433.5,262.81 434.0,263.21 434.5,263.62 435.0,263.97 435.5,264.06 436.0,263.98 436.5,263.94 437.0,263.91 437.5,263.75 438.0,263.68 438.5,263.71 439.0,263.87 439.5,263.92 440.0,263.91 440.5,263.94 441.0,263.98 441.5,263.97 442.0,264.00 442.5,264.11 443.0,263.91 443.5,263.95 444.0,263.93 444.5,264.04 445.0,263.96 445.5,264.06 446.0,264.08 446.5,263.97 447.0,263.71 447.5,263.67 448.0,263.86 448.5,263.91 449.0,264.00 449.5,264.06 450.0,264.28 450.5,264.13 451.0,264.04 451.5,263.89 452.0,264.06 452.5,263.92 453.0,264.06 453.5,264.08 454.0,264.18 454.5,264.10 455.0,263.94 455.5,263.95 456.0,264.01 456.5,263.99 457.0,263.98 457.5,264.14 458.0,264.18 458.5,264.15 459.0,264.18 459.5,264.15 460.0,264.02 460.5,263.88 461.0,263.85 461.5,263.84 462.0,263.88 462.5,264.04 463.0,264.11 463.5,264.13 464.0,264.20 464.5,264.21 465.0,264.16 465.5,264.16 466.0,264.02 466.5,264.07 467.0,263.97 467.5,264.03 468.0,264.00 468.5,264.20 469.0,264.12 469.5,264.15 470.0,264.17 470.5,264.18 471.0,264.11 471.5,264.12 472.0,264.26 472.5,264.24 473.0,264.25 473.5,264.14 474.0,264.10 474.5,264.04 475.0,264.12 475.5,264.13 476.0,264.23 476.5,264.35 477.0,264.34 477.5,264.21 478.0,264.20 478.5,264.10 479.0,264.09 479.5,264.13 480.0,264.11 480.5,264.02 481.0,264.15 481.5,264.18 482.0,264.11 482.5,264.06 483.0,264.17 483.5,264.04 484.0,263.79 484.5,263.81 485.0,263.84 485.5,263.79 486.0,263.87 486.5,264.05 487.0,264.07 487.5,264.08 488.0,264.07 488.5,264.15 489.0,264.20 489.5,264.28 490.0,264.37 490.5,264.18 491.0,264.07 491.5,263.98 492.0,263.93 492.5,263.77 493.0,264.11 493.5,264.20 494.0,264.18 494.5,264.18 495.0,264.27 495.5,264.12 496.0,264.14 496.5,264.15 497.0,264.05 497.5,264.03 498.0,264.08 498.5,263.97 499.0,264.09 499.5,264.12 500.0,264.29 500.5,264.36 501.0,264.37 501.5,264.30 502.0,264.46 502.5,264.32 503.0,264.18 503.5,264.26 504.0,264.39 504.5,264.21 505.0,264.26 505.5,264.35 506.0,264.33 506.5,264.17 507.0,264.25 507.5,264.29 508.0,264.33 508.5,264.28 509.0,264.41 509.5,264.35 510.0,264.33 510.5,264.30 511.0,264.46 511.5,264.37 512.0,264.54 512.5,264.50 513.0,264.55 513.5,264.50 514.0,264.63 514.5,264.51 515.0,264.59 515.5,264.56 516.0,264.55 516.5,264.36 517.0,264.45 517.5,264.26 518.0,264.14 518.5,264.18 519.0,264.11 519.5,264.18 520.0,264.27 520.5,264.38 521.0,264.34 521.5,264.48 522.0,264.37 522.5,264.36 523.0,264.34 523.5,264.41 524.0,264.46 524.5,264.57 525.0,264.63 525.5,264.62 526.0,264.44 526.5,264.40 527.0,264.38 527.5,264.33 528.0,264.40 528.5,264.61 529.0,264.57 529.5,264.59 530.0,264.64 530.5,264.47 531.0,264.35 531.5,264.31 532.0,264.28 532.5,264.20 533.0,264.29 533.5,264.26 534.0,264.29 534.5,264.26 535.0,264.39 535.5,264.48 536.0,264.56 536.5,264.59 537.0,264.59 537.5,264.53 538.0,264.59 538.5,264.41 539.0,264.38 539.5,264.40 540.0,264.47 540.5,264.29 541.0,264.49 541.5,264.56 542.0,264.51 542.5,264.30 543.0,264.36 543.5,264.25 544.0,264.24 544.5,264.21 545.0,264.47 545.5,264.51 546.0,264.54 546.5,264.46 547.0,264.45 547.5,264.35 548.0,264.45 548.5,264.49 549.0,264.60 549.5,264.61 550.0,264.61 550.5,264.67 551.0,264.59 551.5,264.61 552.0,264.76 552.5,264.61 553.0,264.35 553.5,264.38 554.0,264.37 554.5,264.26 555.0,264.38 555.5,264.53 556.0,264.61 556.5,264.56 557.0,264.57 557.5,264.67 558.0,264.56 558.5,264.68 559.0,264.64 559.5,264.61 560.0,264.58 560.5,264.67 561.0,264.41 561.5,264.45 562.0,264.42 562.5,264.32 563.0,264.34 563.5,264.42 564.0,264.44 564.5,264.51 565.0,264.70 565.5,264.64 566.0,264.62 566.5,264.52 567.0,264.49 567.5,264.37 568.0,264.37 568.5,264.53 569.0,264.62 569.5,264.69 570.0,264.71 570.5,264.70 571.0,264.66 571.5,264.70 572.0,264.75 572.5,264.69 573.0,264.58 573.5,264.51 574.0,264.47 574.5,264.25 575.0,264.25 575.5,264.41 576.0,264.43 576.5,264.34 577.0,264.63 577.5,264.77 578.0,264.72 578.5,264.85 579.0,265.03 579.5,264.83 580.0,264.92 580.5,264.88 581.0,264.77 581.5,264.60 582.0,264.69 582.5,264.41 583.0,264.48 583.5,264.58 584.0,264.67 584.5,264.65 585.0,264.85 585.5,264.79 586.0,264.78 586.5,264.75 587.0,264.79 587.5,264.68 588.0,264.76 588.5,264.69 589.0,264.66 589.5,264.60 590.0,264.64 590.5,264.62 591.0,264.55 591.5,264.55 592.0,264.55 592.5,264.52 593.0,264.54 593.5,264.63 594.0,264.63 594.5,264.69 595.0,264.60 595.5,264.38 596.0,264.38 596.5,264.31 597.0,264.24 597.5,264.26 598.0,264.50 598.5,264.43 599.0,264.56 599.5,264.60 600.0,264.60 600.5,264.45 601.0,264.56 601.5,264.57 602.0,264.67 602.5,264.88 603.0,265.01 603.5,265.00 604.0,264.97 604.5,264.93 605.0,264.77 605.5,264.70 606.0,264.82 606.5,264.70 607.0,264.71 607.5,264.77 608.0,264.84 608.5,264.64 609.0,264.76 609.5,264.71 610.0,264.61 610.5,264.59 611.0,264.64 611.5,264.61 612.0,264.69 612.5,264.70 613.0,264.73 613.5,264.72 614.0,264.79 614.5,264.75 615.0,264.85 615.5,264.75 616.0,264.74 616.5,264.65 617.0,264.66 617.5,264.70 618.0,264.85 618.5,264.87 619.0,264.94 619.5,264.81 620.0,264.61 620.5,264.47 621.0,264.46 621.5,264.35 622.0,264.34 622.5,264.54 623.0,264.54 623.5,264.48 624.0,264.75 624.5,264.89 625.0,264.83 625.5,264.94 626.0,265.00 626.5,264.95 627.0,264.84 627.5,264.77 628.0,264.71 628.5,264.72 629.0,264.71 629.5,264.70 630.0,264.75 630.5,264.78 631.0,264.87 631.5,264.84 632.0,264.98 632.5,265.19 633.0,265.14 633.5,265.12 634.0,265.11 634.5,265.07 635.0,264.89 635.5,264.90 636.0,264.84 636.5,264.71 637.0,264.69 637.5,264.61 638.0,264.67 638.5,264.60 639.0,264.83 639.5,264.99 640.0,265.17 640.5,265.14 641.0,265.21 641.5,265.15 642.0,265.05 642.5,265.01 643.0,264.98 643.5,265.10 644.0,264.96 644.5,264.96 645.0,264.80 645.5,264.81 646.0,264.77 646.5,264.80 647.0,264.76 647.5,264.94 648.0,264.98 648.5,265.03 649.0,264.90 649.5,264.97 650.0,264.96 650.5,264.86 651.0,264.68 651.5,264.91 652.0,264.80 652.5,264.72 653.0,264.88 653.5,264.94 654.0,264.92"/>
<polyline fill="none" stroke="#3caa72" stroke-width="1.6" stroke-linejoin="round" points="28.0,279.71 28.5,279.78 29.0,279.90 29.5,279.88 30.0,280.09 30.5,280.02 31.0,280.08 31.5,279.99 32.0,280.09 32.5,280.05 33.0,280.16 33.5,280.23 34.0,280.29 34.5,280.35 35.0,280.33 35.5,280.22 36.0,280.25 36.5,280.30 37.0,280.34 37.5,280.33 38.0,280.34 38.5,280.52 39.0,280.40 39.5,280.39 40.0,280.42 40.5,280.39 41.0,280.32 41.5,280.41 42.0,280.50 42.5,280.72 43.0,280.83 43.5,280.89 44.0,280.98 44.5,280.84 45.0,280.63 45.5,280.75 46.0,280.66 46.5,280.58 47.0,280.60 47.5,280.65 48.0,280.50 48.5,280.58 49.0,280.67 49.5,280.67 50.0,280.58 50.5,280.63 51.0,280.47 51.5,280.34 52.0,280.46 52.5,280.71 53.0,280.74 53.5,280.77 54.0,280.87 54.5,280.62 55.0,280.36 55.5,280.28 56.0,280.16 56.5,279.88 57.0,280.06 57.5,280.41 58.0,280.46 58.5,280.42 59.0,280.55 59.5,280.63 60.0,280.44 60.5,280.50 61.0,280.50 61.5,280.40 62.0,280.35 62.5,280.50 63.0,280.39 63.5,280.48 64.0,280.53 64.5,280.70 65.0,280.66 65.5,280.67 66.0,280.49 66.5,280.44 67.0,280.41 67.5,280.65 68.0,280.61 68.5,280.68 69.0,280.78 69.5,280.76 70.0,280.51 70.5,280.60 71.0,280.56 71.5,280.52 72.0,280.55 72.5,280.71 73.0,280.70 73.5,280.79 74.0,280.84 74.5,280.86 75.0,280.78 75.5,280.74 76.0,280.79 76.5,280.82 77.0,280.70 77.5,280.57 78.0,280.66 78.5,280.66 79.0,280.66 79.5,280.72 80.0,280.77 80.5,280.71 81.0,280.61 81.5,280.48 82.0,280.43 82.5,280.45 83.0,280.56 83.5,280.54 84.0,280.61 84.5,280.61 85.0,280.75 85.5,280.69 86.0,280.75 86.5,280.81 87.0,280.86 87.5,280.72 88.0,280.81 88.5,280.89 89.0,280.95 89.5,281.03 90.0,281.12 90.5,281.02 91.0,280.90 91.5,280.83 92.0,280.76 92.5,280.75 93.0,280.74 93.5,280.77 94.0,280.65 94.5,280.70 95.0,280.74 95.5,280.72 96.0,280.80 96.5,280.97 97.0,280.87 97.5,280.75 98.0,280.70 98.5,280.75 99.0,280.67 99.5,280.70 100.0,280.61 100.5,280.68 101.0,280.67 101.5,280.63 102.0,280.63 102.5,280.79 103.0,280.72 103.5,280.66 104.0,280.72 104.5,280.70 105.0,280.60 105.5,280.70 106.0,280.69 106.5,280.63 107.0,280.70 107.5,280.78 108.0,280.70 108.5,280.66 109.0,280.71 109.5,280.77 110.0,280.85 110.5,280.85 111.0,280.94 111.5,280.84 112.0,280.47 112.5,280.05 113.0,279.99 113.5,280.21 114.0,280.45 114.5,280.79 115.0,280.87 115.5,280.84 116.0,280.80 116.5,280.93 117.0,280.82 117.5,280.81 118.0,280.85 118.5,280.67 119.0,280.67 119.5,280.74 120.0,280.77 120.5,280.77 121.0,280.98 121.5,280.92 122.0,280.89 122.5,280.99 123.0,280.92 123.5,280.75 124.0,280.64 124.5,280.73 125.0,280.62 125.5,280.67 126.0,280.71 126.5,280.79 127.0,280.65 127.5,280.57 128.0,280.55 128.5,280.54 129.0,280.65 129.5,280.64 130.0,280.65 130.5,280.54 131.0,280.62 131.5,280.41 132.0,280.51 132.5,280.63 133.0,280.68 133.5,280.63 134.0,280.56 134.5,280.47 135.0,280.24 135.5,280.25 136.0,280.19 136.5,280.28 137.0,280.36 137.5,280.49 138.0,280.43 138.5,280.39 139.0,280.33 139.5,280.24 140.0,280.35 140.5,280.33 141.0,280.38 141.5,280.43 142.0,280.49 142.5,280.36 143.0,280.35 143.5,280.09 144.0,279.84 144.5,279.42 145.0,278.88 145.5,278.72 146.0,279.01 146.5,279.38 147.0,279.75 147.5,280.03 148.0,280.03 148.5,280.05 149.0,280.19 149.5,280.11 150.0,280.10 150.5,280.11 151.0,279.97 151.5,279.92 152.0,279.91 152.5,279.82 153.0,279.85 153.5,279.97 154.0,280.00 154.5,280.11 155.0,280.17 155.5,280.02 156.0,279.99 156.5,280.01 157.0,279.90 157.5,279.82 158.0,279.91 158.5,279.99 159.0,279.93 159.5,279.98 160.0,279.97 160.5,279.95 161.0,279.88 161.5,279.85 162.0,279.65 162.5,279.68 163.0,279.59 163.5,279.70 164.0,279.79 164.5,280.04 165.0,280.10 165.5,280.15 166.0,280.11 166.5,279.98 167.0,279.89 167.5,279.76 168.0,279.74 168.5,279.70 169.0,279.82 169.5,279.77 170.0,279.98 170.5,280.20 171.0,280.06 171.5,279.93 172.0,279.85 172.5,279.68 173.0,279.44 173.5,279.51 174.0,279.57 174.5,279.69 175.0,279.70 175.5,279.74 176.0,279.75 176.5,279.69 177.0,279.66 177.5,279.64 178.0,279.67 178.5,279.57 179.0,279.60 179.5,279.65 180.0,279.60 180.5,279.36 181.0,279.37 181.5,279.04 182.0,278.36 182.5,277.92 183.0,277.63 183.5,277.17 184.0,277.00 184.5,277.15 185.0,277.27 185.5,277.30 186.0,277.23 186.5,276.36 187.0,274.03 187.5,270.79 188.0,269.44 188.5,271.42 189.0,274.88 189.5,277.50 190.0,278.82 190.5,279.24 191.0,279.24 191.5,279.23 192.0,279.36 192.5,279.29 193.0,279.31 193.5,279.34 194.0,279.51 194.5,279.56 195.0,279.61 195.5,279.62 196.0,279.71 196.5,279.72 197.0,279.77 197.5,279.76 198.0,279.76 198.5,279.70 199.0,279.60 199.5,279.50 200.0,279.50 200.5,279.40 201.0,279.39 201.5,279.53 202.0,279.51 202.5,279.56 203.0,279.49 203.5,279.49 204.0,279.50 204.5,279.57 205.0,279.59 205.5,279.65 206.0,279.56 206.5,279.39 207.0,279.02 207.5,278.52 208.0,278.21 208.5,278.03 209.0,278.34 209.5,278.75 210.0,279.24 210.5,279.31 211.0,279.46 211.5,279.29 212.0,279.39 212.5,279.35 213.0,279.40 213.5,279.42 214.0,279.60 214.5,279.55 215.0,279.63 215.5,279.67 216.0,279.64 216.5,279.69 217.0,279.59 217.5,279.49 218.0,279.37 218.5,279.36 219.0,279.20 219.5,279.62 220.0,279.70 220.5,279.95 221.0,280.07 221.5,280.07 222.0,279.84 222.5,279.94 223.0,279.84 223.5,279.77 224.0,279.84 224.5,279.71 225.0,279.55 225.5,279.57 226.0,279.60 226.5,279.51 227.0,279.59 227.5,279.65 228.0,279.62 228.5,279.64 229.0,279.72 229.5,279.76 230.0,279.68 230.5,279.62 231.0,279.61 231.5,279.49 232.0,279.51 232.5,279.57 233.0,279.59 233.5,279.62 234.0,279.69 234.5,279.62 235.0,279.59 235.5,279.56 236.0,279.48 236.5,279.10 237.0,279.02 237.5,279.20 238.0,279.56 238.5,279.58 239.0,279.67 239.5,279.80 240.0,279.75 240.5,279.69 241.0,279.63 241.5,279.73 242.0,279.61 242.5,279.76 243.0,279.83 243.5,279.89 244.0,280.00 244.5,280.02 245.0,279.98 245.5,279.94 246.0,280.03 246.5,279.96 247.0,279.98 247.5,280.00 248.0,280.00 248.5,279.91 249.0,280.07 249.5,280.01 250.0,279.93 250.5,279.70 251.0,279.56 251.5,279.21 252.0,279.58 252.5,279.82 253.0,279.93 253.5,279.94 254.0,280.28 254.5,280.18 255.0,280.12 255.5,280.18 256.0,280.27 256.5,280.02 257.0,279.98 257.5,280.06 258.0,280.24 258.5,280.12 259.0,280.24 259.5,280.02 260.0,279.67 260.5,279.34 261.0,279.44 261.5,279.53 262.0,279.94 262.5,280.21 263.0,280.16 263.5,280.16 264.0,280.30 264.5,280.23 265.0,280.16 265.5,280.16 266.0,280.13 266.5,280.03 267.0,280.07 267.5,280.01 268.0,280.07 268.5,280.09 269.0,280.12 269.5,280.19 270.0,280.43 270.5,280.53 271.0,280.45 271.5,280.62 272.0,280.58 272.5,280.45 273.0,280.32 273.5,280.42 274.0,280.44 274.5,280.47 275.0,280.45 275.5,280.45 276.0,280.43 276.5,280.39 277.0,280.48 277.5,280.45 278.0,280.50 278.5,280.51 279.0,280.42 279.5,280.33 280.0,280.44 280.5,280.30 281.0,280.11 281.5,279.98 282.0,279.72 282.5,279.70 283.0,280.00 283.5,280.34 284.0,280.47 284.5,280.48 285.0,280.39 285.5,280.44 286.0,280.54 286.5,280.44 287.0,280.56 287.5,280.69 288.0,280.64 288.5,280.58 289.0,280.66 289.5,280.64 290.0,280.63 290.5,280.58 291.0,280.39 291.5,280.25 292.0,279.93 292.5,279.77 293.0,280.04 293.5,280.54 294.0,280.62 294.5,280.80 295.0,280.75 295.5,280.79 296.0,280.78 296.5,280.78 297.0,280.74 297.5,280.78 298.0,280.72 298.5,280.64 299.0,280.67 299.5,280.58 300.0,280.65 300.5,280.74 301.0,280.70 301.5,280.68 302.0,280.91 302.5,280.93 303.0,280.84 303.5,280.61 304.0,280.36 304.5,279.96 305.0,279.86 305.5,280.25 306.0,280.64 306.5,280.89 307.0,280.86 307.5,280.89 308.0,280.73 308.5,280.75 309.0,280.71 309.5,280.77 310.0,280.86 310.5,280.94 311.0,281.03 311.5,281.04 312.0,281.00 312.5,280.98 313.0,281.08 313.5,280.94 314.0,280.97 314.5,281.02 315.0,281.06 315.5,280.98 316.0,280.96 316.5,280.94 317.0,281.03 317.5,281.08 318.0,281.13 318.5,281.24 319.0,281.24 319.5,281.15 320.0,281.14 320.5,281.00 321.0,280.93 321.5,280.83 322.0,280.83 322.5,280.72 323.0,280.72 323.5,280.76 324.0,280.84 324.5,280.84 325.0,280.88 325.5,280.91 326.0,280.97 326.5,280.99 327.0,281.03 327.5,280.95 328.0,280.97 328.5,280.86 329.0,280.87 329.5,280.82 330.0,280.92 330.5,281.06 331.0,281.07 331.5,281.09 332.0,281.10 332.5,281.27 333.0,281.27 333.5,281.32 334.0,281.38 334.5,281.36 335.0,281.17 335.5,281.08 336.0,281.05 336.5,280.94 337.0,280.94 337.5,280.99 338.0,281.00 338.5,280.84 339.0,280.91 339.5,281.05 340.0,280.97 340.5,280.97 341.0,281.02 341.5,281.07 342.0,280.91 342.5,280.87 343.0,280.83 343.5,281.09 344.0,280.99 344.5,280.99 345.0,281.10 345.5,281.14 346.0,281.09 346.5,281.05 347.0,281.03 347.5,280.98 348.0,280.99 348.5,280.90 349.0,281.06 349.5,281.07 350.0,281.04 350.5,281.00 351.0,281.04 351.5,281.00 352.0,281.07 352.5,281.06 353.0,281.13 353.5,281.14 354.0,281.29 354.5,281.31 355.0,281.49 355.5,281.35 356.0,281.25 356.5,281.02 357.0,281.00 357.5,280.83 358.0,280.88 358.5,280.91 359.0,280.93 359.5,281.01 360.0,281.06 360.5,281.10 361.0,281.21 361.5,281.26 362.0,281.23 362.5,281.23 363.0,281.24 363.5,281.18 364.0,281.10 364.5,281.17 365.0,281.28 365.5,281.36 366.0,281.29 366.5,281.23 367.0,281.13 367.5,281.03 368.0,281.01 368.5,281.03 369.0,281.12 369.5,281.26 370.0,281.20 370.5,281.22 371.0,281.29 371.5,281.23 372.0,281.14 372.5,281.15 373.0,281.01 373.5,280.83 374.0,280.81 374.5,280.82 375.0,280.83 375.5,280.92 376.0,280.97 376.5,281.06 377.0,281.01 377.5,280.94 378.0,280.80 378.5,280.91 379.0,280.94 379.5,280.90 380.0,281.00 380.5,281.16 381.0,281.26 381.5,281.19 382.0,281.29 382.5,281.45 383.0,281.41 383.5,281.38 384.0,281.27 384.5,281.33 385.0,281.18 385.5,281.05 386.0,281.00 386.5,281.25 387.0,281.24 387.5,281.32 388.0,281.45 388.5,281.35 389.0,281.24 389.5,281.16 390.0,281.11 390.5,281.08 391.0,281.13 391.5,281.23 392.0,281.25 392.5,281.38 393.0,281.55 393.5,281.43 394.0,281.20 394.5,280.85 395.0,280.39 395.5,280.25 396.0,280.46 396.5,280.68 397.0,280.91 397.5,281.10 398.0,281.05 398.5,281.10 399.0,281.24 399.5,281.29 400.0,281.27 400.5,281.36 401.0,281.32 401.5,281.27 402.0,281.19 402.5,281.24 403.0,281.23 403.5,281.23 404.0,281.31 404.5,281.27 405.0,281.28 405.5,281.24 406.0,281.25 406.5,281.09 407.0,281.15 407.5,281.07 408.0,281.01 408.5,281.11 409.0,281.09 409.5,281.11 410.0,281.11 410.5,281.04 411.0,281.02 411.5,281.03 412.0,280.86 412.5,280.82 413.0,280.94 413.5,280.98 414.0,281.03 414.5,281.31 415.0,281.45 415.5,281.54 416.0,281.57 416.5,281.63 417.0,281.49 417.5,281.44 418.0,281.43 418.5,281.36 419.0,281.32 419.5,281.25 420.0,281.26 420.5,281.22 421.0,281.11 421.5,281.14 422.0,281.30 422.5,281.24 423.0,281.28 423.5,281.42 424.0,281.31 424.5,281.24 425.0,281.29 425.5,281.30 426.0,281.34 426.5,281.31 427.0,281.33 427.5,281.35 428.0,281.37 428.5,281.39 429.0,281.46 429.5,281.44 430.0,281.32 430.5,281.29 431.0,281.05 431.5,281.06 432.0,280.87 432.5,280.61 433.0,280.23 433.5,280.46 434.0,280.79 434.5,280.91 435.0,280.95 435.5,281.00 436.0,280.84 436.5,280.44 437.0,280.38 437.5,280.55 438.0,280.92 438.5,281.14 439.0,281.30 439.5,281.31 440.0,281.42 440.5,281.30 441.0,281.39 441.5,281.33 442.0,281.43 442.5,281.36 443.0,281.54 443.5,281.56 444.0,281.54 444.5,281.47 445.0,281.45 445.5,281.41 446.0,281.19 446.5,281.22 447.0,281.20 447.5,281.16 448.0,281.13 448.5,281.14 449.0,281.25 449.5,281.30 450.0,281.48 450.5,281.44 451.0,281.47 451.5,281.39 452.0,281.25 452.5,281.13 453.0,281.15 453.5,281.21 454.0,281.21 454.5,281.33 455.0,281.44 455.5,281.53 456.0,281.47 456.5,281.52 457.0,281.43 457.5,281.31 458.0,281.18 458.5,281.21 459.0,281.24 459.5,281.29 460.0,281.24 460.5,281.29 461.0,281.33 461.5,281.34 462.0,281.30 462.5,281.26 463.0,281.34 463.5,281.25 464.0,281.13 464.5,281.29 465.0,281.38 465.5,281.30 466.0,281.37 466.5,281.33 467.0,281.21 467.5,281.22 468.0,281.34 468.5,281.46 469.0,281.49 469.5,281.48 470.0,281.52 470.5,281.31 471.0,281.21 471.5,281.23 472.0,281.21 472.5,281.09 473.0,281.24 473.5,281.16 474.0,281.12 474.5,281.15 475.0,281.23 475.5,281.11 476.0,281.30 476.5,281.34 477.0,281.37 477.5,281.34 478.0,281.39 478.5,281.25 479.0,281.35 479.5,281.39 480.0,281.40 480.5,281.52 481.0,281.54 481.5,281.51 482.0,281.49 482.5,281.44 483.0,281.43 483.5,281.37 484.0,281.38 484.5,281.32 485.0,281.41 485.5,281.45 486.0,281.60 486.5,281.51 487.0,281.57 487.5,281.52 488.0,281.34 488.5,281.23 489.0,281.27 489.5,281.32 490.0,281.22 490.5,281.30 491.0,281.41 491.5,281.42 492.0,281.31 492.5,281.51 493.0,281.43 493.5,281.44 494.0,281.54 494.5,281.47 495.0,281.42 495.5,281.53 496.0,281.50 496.5,281.34 497.0,281.46 497.5,281.35 498.0,281.33 498.5,281.36 499.0,281.37 499.5,281.32 500.0,281.39 500.5,281.38 501.0,281.35 501.5,281.39 502.0,281.46 502.5,281.40 503.0,281.22 503.5,281.26 504.0,281.36 504.5,281.26 505.0,281.31 505.5,281.52 506.0,281.54 506.5,281.49 507.0,281.68 507.5,281.72 508.0,281.73 508.5,281.70 509.0,281.62 509.5,281.62 510.0,281.67 510.5,281.71 511.0,281.65 511.5,281.76 512.0,281.60 512.5,281.59 513.0,281.34 513.5,281.30 514.0,281.28 514.5,281.33 515.0,281.31 515.5,281.38 516.0,281.56 516.5,281.55 517.0,281.58 517.5,281.60 518.0,281.73 518.5,281.73 519.0,281.70 519.5,281.60 520.0,281.56 520.5,281.63 521.0,281.57 521.5,281.53 522.0,281.67 522.5,281.70 523.0,281.66 523.5,281.51 524.0,281.48 524.5,281.48 525.0,281.46 525.5,281.45 526.0,281.69 526.5,281.73 527.0,281.70 527.5,281.68 528.0,281.62 528.5,281.48 529.0,281.40 529.5,281.25 530.0,281.38 530.5,281.42 531.0,281.50 531.5,281.61 532.0,281.76 532.5,281.72 533.0,281.78 533.5,281.62 534.0,281.69 534.5,281.62 535.0,281.59 535.5,281.72 536.0,281.81 536.5,281.84 537.0,281.88 537.5,281.91 538.0,281.74 538.5,281.77 539.0,281.60 539.5,281.56 540.0,281.54 540.5,281.43 541.0,281.35 541.5,281.45 542.0,281.47 542.5,281.39 543.0,281.43 543.5,281.49 544.0,281.43 544.5,281.48 545.0,281.53 545.5,281.73 546.0,281.70 546.5,281.59 547.0,281.59 547.5,281.60 548.0,281.49 548.5,281.41 549.0,281.62 549.5,281.61 550.0,281.61 550.5,281.50 551.0,281.64 551.5,281.56 552.0,281.66 552.5,281.63 553.0,281.66 553.5,281.63 554.0,281.58 554.5,281.52 555.0,281.47 555.5,281.55 556.0,281.53 556.5,281.59 557.0,281.53 557.5,281.55 558.0,281.55 558.5,281.53 559.0,281.55 559.5,281.56 560.0,281.47 560.5,281.47 561.0,281.60 561.5,281.62 562.0,281.68 562.5,281.86 563.0,281.84 563.5,281.65 564.0,281.69 564.5,281.72 565.0,281.73 565.5,281.79 566.0,281.91 566.5,281.86 567.0,281.80 567.5,281.77 568.0,281.76 568.5,281.67 569.0,281.64 569.5,281.66 570.0,281.63 570.5,281.45 571.0,281.52 571.5,281.41 572.0,281.51 572.5,281.58 573.0,281.79 573.5,281.74 574.0,281.82 574.5,281.68 575.0,281.63 575.5,281.54 576.0,281.59 576.5,281.72 577.0,281.77 577.5,281.70 578.0,281.61 578.5,281.60 579.0,281.51 579.5,281.51 580.0,281.69 580.5,281.94 581.0,281.97 581.5,282.09 582.0,282.17 582.5,282.06 583.0,281.97 583.5,282.01 584.0,281.94 584.5,281.79 585.0,281.74 585.5,281.73 586.0,281.63 586.5,281.69 587.0,281.70 587.5,281.85 588.0,281.93 588.5,281.89 589.0,281.91 589.5,281.91 590.0,281.91 590.5,281.86 591.0,281.94 591.5,281.92 592.0,281.91 592.5,281.84 593.0,281.84 593.5,281.83 594.0,281.81 594.5,281.79 595.0,281.80 595.5,281.70 596.0,281.75 596.5,281.76 597.0,281.87 597.5,281.80 598.0,282.09 598.5,282.03 599.0,282.01 599.5,281.92 600.0,282.05 600.5,281.82 601.0,281.90 601.5,281.83 602.0,281.90 602.5,281.79 603.0,281.88 603.5,281.80 604.0,281.80 604.5,281.82 605.0,281.76 605.5,281.64 606.0,281.71 606.5,281.65 607.0,281.67 607.5,281.72 608.0,281.73 608.5,281.70 609.0,281.86 609.5,281.78 610.0,281.79 610.5,281.91 611.0,281.94 611.5,281.90 612.0,281.89 612.5,281.84 613.0,281.75 613.5,281.75 614.0,281.79 614.5,281.86 615.0,282.02 615.5,282.04 616.0,281.97 616.5,281.91 617.0,282.02 617.5,281.79 618.0,281.83 618.5,281.89 619.0,281.92 619.5,281.95 620.0,282.17 620.5,282.20 621.0,282.11 621.5,282.15 622.0,281.97 622.5,281.90 623.0,281.86 623.5,281.89 624.0,281.90 624.5,282.03 625.0,282.10 625.5,282.10 626.0,282.01 626.5,282.04 627.0,282.01 627.5,281.93 628.0,281.88 628.5,282.06 629.0,281.93 629.5,281.92 630.0,281.86 630.5,281.83 631.0,281.79 631.5,281.75 632.0,281.70 632.5,281.81 633.0,281.79 633.5,281.85 634.0,281.91 634.5,281.95 635.0,281.93 635.5,281.98 636.0,281.89 636.5,281.82 637.0,281.74 637.5,281.67 638.0,281.81 638.5,281.92 639.0,281.94 639.5,282.04 640.0,282.11 640.5,281.98 641.0,281.94 641.5,282.09 642.0,282.00 642.5,281.97 643.0,282.00 643.5,281.91 644.0,281.87 644.5,281.91 645.0,281.88 645.5,281.82 646.0,281.90 646.5,281.95 647.0,281.98 647.5,281.97 648.0,282.07 648.5,282.07 649.0,282.05 649.5,282.11 650.0,282.11 650.5,282.05 651.0,282.00 651.5,281.91 652.0,281.96 652.5,282.08 653.0,281.98 653.5,282.05 654.0,282.07"/>
<polyline fill="none" stroke="#1c63d8" stroke-width="1.6" stroke-linejoin="round" points="28.0,326.64 28.5,326.55 29.0,326.55 29.5,326.57 30.0,326.56 30.5,326.58 31.0,326.58 31.5,326.56 32.0,326.52 32.5,326.60 33.0,326.53 33.5,326.63 34.0,326.69 34.5,326.65 35.0,326.65 35.5,326.64 36.0,326.63 36.5,326.61 37.0,326.77 37.5,326.80 38.0,326.97 38.5,327.01 39.0,327.00 39.5,326.92 40.0,326.92 40.5,326.92 41.0,326.94 41.5,326.94 42.0,327.00 42.5,326.99 43.0,326.89 43.5,326.83 44.0,326.71 44.5,326.67 45.0,326.73 45.5,326.75 46.0,326.66 46.5,326.84 47.0,326.76 47.5,326.83 48.0,326.84 48.5,326.92 49.0,326.98 49.5,327.06 50.0,326.97 50.5,326.96 51.0,326.96 51.5,326.95 52.0,326.92 52.5,326.97 53.0,326.97 53.5,326.98 54.0,326.80 54.5,326.91 55.0,326.69 55.5,326.25 56.0,326.14 56.5,326.30 57.0,326.51 57.5,326.75 58.0,327.00 58.5,327.05 59.0,327.06 59.5,326.96 60.0,327.10 60.5,327.18 61.0,327.01 61.5,326.98 62.0,327.04 62.5,326.91 63.0,326.88 63.5,326.96 64.0,326.95 64.5,326.95 65.0,327.01 65.5,326.97 66.0,327.10 66.5,327.09 67.0,327.19 67.5,327.14 68.0,327.10 68.5,327.04 69.0,327.10 69.5,326.99 70.0,326.97 70.5,327.08 71.0,326.92 71.5,327.00 72.0,327.10 72.5,327.10 73.0,327.13 73.5,327.32 74.0,327.27 74.5,327.24 75.0,327.37 75.5,327.38 76.0,327.21 76.5,327.16 77.0,327.13 77.5,326.98 78.0,326.79 78.5,326.91 79.0,326.93 79.5,326.95 80.0,327.07 80.5,327.13 81.0,327.06 81.5,327.08 82.0,327.04 82.5,326.94 83.0,327.03 83.5,327.03 84.0,327.10 84.5,327.08 85.0,327.10 85.5,326.96 86.0,326.95 86.5,326.82 87.0,326.96 87.5,326.99 88.0,327.12 88.5,327.25 89.0,327.39 89.5,327.35 90.0,327.25 90.5,327.12 91.0,326.99 91.5,326.87 92.0,326.77 92.5,326.79 93.0,326.77 93.5,326.87 94.0,326.81 94.5,326.81 95.0,326.86 95.5,326.85 96.0,326.81 96.5,326.94 97.0,326.96 97.5,326.85 98.0,326.92 98.5,326.73 99.0,326.76 99.5,326.78 100.0,326.79 100.5,326.76 101.0,326.91 101.5,326.92 102.0,326.82 102.5,326.83 103.0,326.77 103.5,326.77 104.0,326.68 104.5,326.91 105.0,326.93 105.5,327.01 106.0,326.92 106.5,326.96 107.0,326.69 107.5,326.75 108.0,326.79 108.5,326.80 109.0,326.67 109.5,326.85 110.0,326.92 110.5,326.86 111.0,326.88 111.5,326.94 112.0,326.62 112.5,326.28 113.0,326.20 113.5,326.32 114.0,326.41 114.5,326.55 115.0,326.56 115.5,326.55 116.0,326.46 116.5,326.40 117.0,326.46 117.5,326.47 118.0,326.52 118.5,326.65 119.0,326.74 119.5,326.65 120.0,326.63 120.5,326.73 121.0,326.70 121.5,326.61 122.0,326.67 122.5,326.70 123.0,326.73 123.5,326.64 124.0,326.75 124.5,326.76 125.0,326.69 125.5,326.68 126.0,326.79 126.5,326.64 127.0,326.74 127.5,326.72 128.0,326.59 128.5,326.50 129.0,326.63 129.5,326.54 130.0,326.60 130.5,326.74 131.0,326.78 131.5,326.82 132.0,326.96 132.5,326.97 133.0,326.70 133.5,326.63 134.0,326.46 134.5,326.26 135.0,326.25 135.5,326.33 136.0,326.27 136.5,326.32 137.0,326.29 137.5,326.10 138.0,326.24 138.5,326.31 139.0,326.32 139.5,326.34 140.0,326.44 140.5,326.36 141.0,326.42 141.5,326.49 142.0,326.49 142.5,326.52 143.0,326.41 143.5,326.17 144.0,325.33 144.5,323.55 145.0,321.16 145.5,319.76 146.0,320.17 146.5,322.31 147.0,324.38 147.5,325.61 148.0,326.06 148.5,326.46 149.0,326.46 149.5,326.35 150.0,326.38 150.5,326.31 151.0,326.01 151.5,325.91 152.0,326.10 152.5,325.99 153.0,325.55 153.5,324.81 154.0,323.99 154.5,323.65 155.0,323.96 155.5,324.70 156.0,325.57 156.5,325.94 157.0,326.11 157.5,326.25 158.0,326.48 158.5,326.30 159.0,326.30 159.5,326.29 160.0,326.32 160.5,326.13 161.0,326.10 161.5,325.75 162.0,325.14 162.5,324.71 163.0,324.65 163.5,324.77 164.0,325.02 164.5,325.37 165.0,325.36 165.5,325.07 166.0,324.76 166.5,325.04 167.0,325.31 167.5,325.57 168.0,325.66 168.5,325.81 169.0,325.84 169.5,325.83 170.0,325.83 170.5,325.92 171.0,326.04 171.5,325.92 172.0,325.84 172.5,325.74 173.0,325.76 173.5,325.70 174.0,325.79 174.5,325.85 175.0,325.85 175.5,325.96 176.0,325.92 176.5,325.88 177.0,325.90 177.5,326.00 178.0,325.60 178.5,325.48 179.0,325.15 179.5,324.79 180.0,324.38 180.5,324.66 181.0,324.97 181.5,325.25 182.0,325.51 182.5,325.74 183.0,325.90 183.5,325.88 184.0,325.64 184.5,325.15 185.0,324.64 185.5,323.85 186.0,322.84 186.5,320.61 187.0,314.63 187.5,302.71 188.0,289.49 188.5,285.83 189.0,295.65 189.5,310.15 190.0,320.22 190.5,324.57 191.0,325.80 191.5,325.89 192.0,325.60 192.5,324.69 193.0,322.80 193.5,320.03 194.0,318.46 194.5,319.33 195.0,321.83 195.5,323.57 196.0,323.56 196.5,320.90 197.0,316.28 197.5,312.32 198.0,311.92 198.5,315.31 199.0,320.00 199.5,323.57 200.0,325.18 200.5,325.82 201.0,325.89 201.5,325.95 202.0,325.87 202.5,325.92 203.0,325.90 203.5,325.97 204.0,325.97 204.5,325.85 205.0,325.94 205.5,325.88 206.0,325.85 206.5,325.71 207.0,325.72 207.5,325.26 208.0,325.07 208.5,325.14 209.0,325.56 209.5,325.90 210.0,326.25 210.5,326.26 211.0,326.31 211.5,326.29 212.0,326.27 212.5,326.29 213.0,326.38 213.5,326.26 214.0,326.25 214.5,326.29 215.0,326.16 215.5,326.23 216.0,326.28 216.5,326.27 217.0,326.21 217.5,326.36 218.0,326.38 218.5,326.43 219.0,326.27 219.5,326.32 220.0,326.25 220.5,326.10 221.0,326.09 221.5,326.10 222.0,326.11 222.5,326.23 223.0,326.28 223.5,326.30 224.0,326.43 224.5,326.41 225.0,326.21 225.5,326.29 226.0,326.24 226.5,326.26 227.0,326.22 227.5,326.40 228.0,326.38 228.5,326.42 229.0,326.47 229.5,326.49 230.0,326.49 230.5,326.49 231.0,326.48 231.5,326.35 232.0,326.40 232.5,326.42 233.0,326.40 233.5,326.43 234.0,326.50 234.5,326.37 235.0,326.28 235.5,326.28 236.0,325.97 236.5,325.53 237.0,325.48 237.5,325.56 238.0,325.90 238.5,326.16 239.0,326.39 239.5,326.37 240.0,326.44 240.5,326.27 241.0,326.22 241.5,326.22 242.0,326.21 242.5,326.29 243.0,326.25 243.5,326.31 244.0,326.28 244.5,326.24 245.0,326.27 245.5,326.21 246.0,326.32 246.5,326.27 247.0,326.38 247.5,326.42 248.0,326.43 248.5,326.24 249.0,326.42 249.5,326.39 250.0,326.08 250.5,325.97 251.0,325.73 251.5,325.56 252.0,325.85 252.5,326.16 253.0,326.37 253.5,326.61 254.0,326.76 254.5,326.63 255.0,326.68 255.5,326.64 256.0,326.52 256.5,326.36 257.0,326.36 257.5,326.22 258.0,326.13 258.5,326.11 259.0,326.07 259.5,326.01 260.0,325.77 260.5,325.64 261.0,325.78 261.5,326.12 262.0,326.34 262.5,326.54 263.0,326.74 263.5,326.69 264.0,326.61 264.5,326.51 265.0,326.55 265.5,326.41 266.0,326.57 266.5,326.58 267.0,326.76 267.5,326.79 268.0,326.93 268.5,326.71 269.0,326.85 269.5,326.80 270.0,326.73 270.5,326.60 271.0,326.67 271.5,326.54 272.0,326.39 272.5,326.43 273.0,326.46 273.5,326.43 274.0,326.45 274.5,326.77 275.0,326.77 275.5,326.74 276.0,326.93 276.5,326.89 277.0,326.72 277.5,326.66 278.0,326.68 278.5,326.61 279.0,326.71 279.5,326.68 280.0,326.70 280.5,326.67 281.0,326.45 281.5,326.14 282.0,325.89 282.5,325.82 283.0,326.05 283.5,326.30 284.0,326.51 284.5,326.62 285.0,326.62 285.5,326.59 286.0,326.63 286.5,326.59 287.0,326.62 287.5,326.67 288.0,326.66 288.5,326.79 289.0,326.87 289.5,326.87 290.0,326.95 290.5,327.01 291.0,326.80 291.5,326.52 292.0,326.40 292.5,326.27 293.0,326.46 293.5,326.75 294.0,327.02 294.5,327.10 295.0,327.09 295.5,327.10 296.0,327.22 296.5,327.23 297.0,327.19 297.5,327.17 298.0,327.09 298.5,326.80 299.0,326.56 299.5,326.01 300.0,325.77 300.5,326.07 301.0,326.56 301.5,326.75 302.0,326.84 302.5,326.85 303.0,326.58 303.5,326.22 304.0,325.50 304.5,324.94 305.0,325.00 305.5,325.67 306.0,326.28 306.5,326.73 307.0,326.95 307.5,327.01 308.0,326.95 308.5,327.02 309.0,326.88 309.5,326.85 310.0,326.85 310.5,326.89 311.0,326.81 311.5,326.85 312.0,326.98 312.5,326.96 313.0,327.00 313.5,327.12 314.0,327.20 314.5,327.14 315.0,327.08 315.5,327.02 316.0,327.18 316.5,327.15 317.0,327.06 317.5,327.16 318.0,327.30 318.5,327.00 319.0,327.02 319.5,327.04 320.0,327.08 320.5,327.02 321.0,327.07 321.5,326.99 322.0,326.83 322.5,326.85 323.0,326.75 323.5,326.76 324.0,326.93 324.5,327.07 325.0,327.04 325.5,327.13 326.0,327.21 326.5,327.10 327.0,327.09 327.5,327.14 328.0,327.14 328.5,327.01 329.0,326.99 329.5,327.06 330.0,326.89 330.5,326.97 331.0,327.11 331.5,327.28 332.0,327.20 332.5,327.32 333.0,327.16 333.5,327.08 334.0,326.94 334.5,327.02 335.0,326.97 335.5,327.08 336.0,327.07 336.5,327.03 337.0,327.03 337.5,327.07 338.0,327.12 338.5,327.23 339.0,327.34 339.5,327.20 340.0,327.13 340.5,327.08 341.0,326.97 341.5,326.96 342.0,327.14 342.5,327.17 343.0,327.19 343.5,327.32 344.0,327.22 344.5,327.15 345.0,327.22 345.5,327.25 346.0,327.26 346.5,327.31 347.0,327.38 347.5,327.29 348.0,327.20 348.5,327.10 349.0,326.90 349.5,326.88 350.0,326.98 350.5,327.05 351.0,327.04 351.5,327.29 352.0,327.27 352.5,327.27 353.0,327.41 353.5,327.48 354.0,327.47 354.5,327.51 355.0,327.46 355.5,327.33 356.0,327.29 356.5,327.30 357.0,327.16 357.5,327.13 358.0,327.14 358.5,327.03 359.0,326.75 359.5,326.28 360.0,325.41 360.5,324.40 361.0,324.10 361.5,324.60 362.0,325.62 362.5,326.54 363.0,327.05 363.5,327.25 364.0,327.13 364.5,327.21 365.0,327.08 365.5,327.09 366.0,327.03 366.5,327.20 367.0,327.24 367.5,327.39 368.0,327.30 368.5,327.30 369.0,327.35 369.5,327.28 370.0,327.26 370.5,327.22 371.0,327.28 371.5,327.17 372.0,327.13 372.5,327.10 373.0,327.12 373.5,327.03 374.0,327.15 374.5,327.25 375.0,327.38 375.5,327.54 376.0,327.50 376.5,327.45 377.0,327.50 377.5,327.56 378.0,327.36 378.5,327.33 379.0,327.33 379.5,327.21 380.0,326.99 380.5,327.11 381.0,327.16 381.5,326.98 382.0,327.00 382.5,327.08 383.0,327.09 383.5,327.21 384.0,327.38 384.5,327.36 385.0,327.31 385.5,327.16 386.0,327.07 386.5,327.13 387.0,327.19 387.5,327.37 388.0,327.47 388.5,327.39 389.0,327.38 389.5,327.40 390.0,327.19 390.5,327.09 391.0,327.22 391.5,327.22 392.0,327.08 392.5,327.13 393.0,327.19 393.5,327.08 394.0,326.87 394.5,326.73 395.0,326.37 395.5,326.09 396.0,326.04 396.5,326.57 397.0,326.84 397.5,327.04 398.0,327.08 398.5,327.29 399.0,327.08 399.5,327.15 400.0,327.15 400.5,327.29 401.0,327.19 401.5,327.25 402.0,327.23 402.5,327.38 403.0,327.22 403.5,327.31 404.0,327.31 404.5,327.35 405.0,327.26 405.5,327.37 406.0,327.36 406.5,327.43 407.0,327.37 407.5,327.31 408.0,327.19 408.5,327.15 409.0,327.08 409.5,327.11 410.0,327.17 410.5,327.31 411.0,327.36 411.5,327.49 412.0,327.35 412.5,327.33 413.0,327.30 413.5,327.26 414.0,327.10 414.5,327.30 415.0,327.35 415.5,327.42 416.0,327.42 416.5,327.55 417.0,327.58 417.5,327.63 418.0,327.64 418.5,327.66 419.0,327.62 419.5,327.57 420.0,327.47 420.5,327.35 421.0,327.39 421.5,327.34 422.0,327.28 422.5,327.29 423.0,327.28 423.5,327.22 424.0,327.13 424.5,327.23 425.0,327.21 425.5,327.24 426.0,327.29 426.5,327.44 427.0,327.34 427.5,327.48 428.0,327.46 428.5,327.49 429.0,327.60 429.5,327.61 430.0,327.46 430.5,327.33 431.0,326.96 431.5,325.83 432.0,324.05 432.5,322.23 433.0,321.49 433.5,322.22 434.0,324.23 434.5,326.06 435.0,327.14 435.5,327.57 436.0,327.70 436.5,327.62 437.0,327.56 437.5,327.38 438.0,327.27 438.5,327.36 439.0,327.39 439.5,327.35 440.0,327.29 440.5,327.38 441.0,327.41 441.5,327.39 442.0,327.48 442.5,327.52 443.0,327.43 443.5,327.24 444.0,327.32 444.5,327.28 445.0,327.30 445.5,327.13 446.0,327.26 446.5,327.29 447.0,327.19 447.5,327.28 448.0,327.48 448.5,327.42 449.0,327.23 449.5,327.45 450.0,327.37 450.5,327.38 451.0,327.41 451.5,327.47 452.0,327.45 452.5,327.37 453.0,327.39 453.5,327.30 454.0,327.29 454.5,327.13 455.0,327.29 455.5,327.11 456.0,327.15 456.5,327.25 457.0,327.37 457.5,327.43 458.0,327.67 458.5,327.79 459.0,327.79 459.5,327.65 460.0,327.45 460.5,327.30 461.0,327.25 461.5,327.11 462.0,327.18 462.5,327.18 463.0,327.27 463.5,327.31 464.0,327.38 464.5,327.43 465.0,327.51 465.5,327.39 466.0,327.34 466.5,327.25 467.0,327.32 467.5,327.36 468.0,327.43 468.5,327.49 469.0,327.63 469.5,327.72 470.0,327.67 470.5,327.56 471.0,327.46 471.5,327.48 472.0,327.42 472.5,327.46 473.0,327.60 473.5,327.68 474.0,327.54 474.5,327.42 475.0,327.25 475.5,327.17 476.0,327.06 476.5,327.17 477.0,327.21 477.5,327.20 478.0,327.28 478.5,327.42 479.0,327.32 479.5,327.34 480.0,327.52 480.5,327.45 481.0,327.46 481.5,327.57 482.0,327.63 482.5,327.60 483.0,327.61 483.5,327.58 484.0,327.62 484.5,327.57 485.0,327.53 485.5,327.49 486.0,327.43 486.5,327.34 487.0,327.33 487.5,327.36 488.0,327.36 488.5,327.21 489.0,326.87 489.5,326.38 490.0,325.96 490.5,325.87 491.0,326.31 491.5,326.80 492.0,326.91 492.5,326.59 493.0,326.07 493.5,325.54 494.0,325.46 494.5,325.97 495.0,326.64 495.5,327.01 496.0,327.32 496.5,327.51 497.0,327.53 497.5,327.40 498.0,327.44 498.5,327.40 499.0,327.27 499.5,327.27 500.0,327.31 500.5,327.16 501.0,327.21 501.5,327.37 502.0,327.37 502.5,327.41 503.0,327.55 503.5,327.43 504.0,327.41 504.5,327.36 505.0,327.49 505.5,327.64 506.0,327.68 506.5,327.69 507.0,327.74 507.5,327.63 508.0,327.46 508.5,327.42 509.0,327.58 509.5,327.63 510.0,327.49 510.5,327.42 511.0,327.43 511.5,327.32 512.0,327.28 512.5,327.37 513.0,327.38 513.5,327.45 514.0,327.48 514.5,327.44 515.0,327.43 515.5,327.58 516.0,327.56 516.5,327.45 517.0,327.45 517.5,327.40 518.0,327.43 518.5,327.46 519.0,327.47 519.5,327.48 520.0,327.66 520.5,327.45 521.0,327.41 521.5,327.59 522.0,327.47 522.5,327.37 523.0,327.42 523.5,327.43 524.0,327.15 524.5,327.15 525.0,327.12 525.5,327.23 526.0,327.26 526.5,327.46 527.0,327.65 527.5,327.73 528.0,327.77 528.5,327.68 529.0,327.64 529.5,327.78 530.0,327.89 530.5,327.90 531.0,328.02 531.5,328.10 532.0,327.85 532.5,327.83 533.0,327.75 533.5,327.70 534.0,327.78 534.5,327.66 535.0,327.56 535.5,327.46 536.0,327.43 536.5,327.27 537.0,327.39 537.5,327.38 538.0,327.45 538.5,327.48 539.0,327.41 539.5,327.41 540.0,327.30 540.5,327.40 541.0,327.32 541.5,327.45 542.0,327.45 542.5,327.53 543.0,327.56 543.5,327.66 544.0,327.48 544.5,327.55 545.0,327.36 545.5,327.27 546.0,327.14 546.5,326.95 547.0,326.55 547.5,326.37 548.0,326.39 548.5,326.62 549.0,327.24 549.5,327.65 550.0,327.80 550.5,327.67 551.0,327.81 551.5,327.67 552.0,327.58 552.5,327.61 553.0,327.58 553.5,327.47 554.0,327.41 554.5,327.29 555.0,327.29 555.5,327.50 556.0,327.64 556.5,327.70 557.0,327.82 557.5,327.88 558.0,327.85 558.5,327.76 559.0,327.73 559.5,327.70 560.0,327.74 560.5,327.83 561.0,327.76 561.5,327.66 562.0,327.74 562.5,327.66 563.0,327.49 563.5,327.62 564.0,327.77 564.5,327.62 565.0,327.49 565.5,327.48 566.0,327.31 566.5,327.33 567.0,327.33 567.5,327.44 568.0,327.35 568.5,327.40 569.0,327.35 569.5,327.48 570.0,327.60 570.5,327.69 571.0,327.66 571.5,327.83 572.0,327.81 572.5,327.76 573.0,327.82 573.5,327.98 574.0,327.92 574.5,327.94 575.0,327.95 575.5,327.85 576.0,327.71 576.5,327.62 577.0,327.56 577.5,327.43 578.0,327.32 578.5,327.06 579.0,326.74 579.5,326.53 580.0,326.78 580.5,327.13 581.0,327.34 581.5,327.54 582.0,327.74 582.5,327.70 583.0,327.53 583.5,327.51 584.0,327.43 584.5,327.52 585.0,327.45 585.5,327.56 586.0,327.57 586.5,327.58 587.0,327.48 587.5,327.37 588.0,327.11 588.5,327.01 589.0,326.64 589.5,326.13 590.0,326.14 590.5,326.61 591.0,326.86 591.5,327.26 592.0,327.61 592.5,327.58 593.0,327.52 593.5,327.74 594.0,327.73 594.5,327.57 595.0,327.57 595.5,327.50 596.0,327.47 596.5,327.37 597.0,327.53 597.5,327.46 598.0,327.56 598.5,327.42 599.0,327.52 599.5,327.52 600.0,327.71 600.5,327.80 601.0,327.90 601.5,327.93 602.0,327.88 602.5,327.84 603.0,327.72 603.5,327.81 604.0,327.83 604.5,327.89 605.0,327.88 605.5,327.96 606.0,327.83 606.5,327.78 607.0,327.61 607.5,327.56 608.0,327.50 608.5,327.61 609.0,327.55 609.5,327.87 610.0,327.88 610.5,327.98 611.0,328.00 611.5,327.91 612.0,327.67 612.5,327.78 613.0,327.52 613.5,327.51 614.0,327.62 614.5,327.61 615.0,327.52 615.5,327.56 616.0,327.52 616.5,327.54 617.0,327.52 617.5,327.55 618.0,327.93 618.5,327.94 619.0,328.03 619.5,328.08 620.0,327.98 620.5,327.75 621.0,327.84 621.5,327.81 622.0,327.88 622.5,327.91 623.0,328.07 623.5,327.85 624.0,327.88 624.5,327.86 625.0,327.89 625.5,327.64 626.0,327.68 626.5,327.62 627.0,327.59 627.5,327.49 628.0,327.49 628.5,327.61 629.0,327.70 629.5,327.65 630.0,327.69 630.5,327.72 631.0,327.85 631.5,327.81 632.0,327.85 632.5,327.97 633.0,328.18 633.5,328.09 634.0,327.96 634.5,327.96 635.0,327.86 635.5,327.68 636.0,327.51 636.5,327.58 637.0,327.51 637.5,327.57 638.0,327.60 638.5,327.58 639.0,327.49 639.5,327.53 640.0,327.56 640.5,327.59 641.0,327.69 641.5,327.57 642.0,327.57 642.5,327.48 643.0,327.42 643.5,327.34 644.0,327.54 644.5,327.53 645.0,327.77 645.5,327.85 646.0,327.92 646.5,327.95 647.0,327.99 647.5,327.81 648.0,327.74 648.5,327.75 649.0,327.83 649.5,327.89 650.0,327.90 650.5,328.03 651.0,328.04 651.5,327.90 652.0,327.72 652.5,327.65 653.0,327.56 653.5,327.57 654.0,327.71"/>
<polyline fill="none" stroke="#e8303a" stroke-width="1.6" stroke-linejoin="round" points="28.0,365.09 28.5,364.99 29.0,365.06 29.5,365.02 30.0,365.01 30.5,364.99 31.0,365.06 31.5,364.97 32.0,364.92 32.5,365.00 33.0,364.95 33.5,365.15 34.0,365.17 34.5,365.27 35.0,365.13 35.5,365.25 36.0,365.24 36.5,365.25 37.0,365.07 37.5,365.13 38.0,365.15 38.5,364.97 39.0,364.87 39.5,365.00 40.0,364.96 40.5,364.98 41.0,365.00 41.5,364.98 42.0,364.92 42.5,365.10 43.0,365.00 43.5,365.09 44.0,365.24 44.5,365.24 45.0,365.22 45.5,365.30 46.0,365.34 46.5,365.21 47.0,365.16 47.5,364.90 48.0,364.88 48.5,364.84 49.0,365.02 49.5,365.25 50.0,365.44 50.5,365.44 51.0,365.50 51.5,365.56 52.0,365.41 52.5,365.48 53.0,365.48 53.5,365.44 54.0,365.38 54.5,365.32 55.0,365.04 55.5,364.82 56.0,364.62 56.5,364.58 57.0,364.90 57.5,365.29 58.0,365.37 58.5,365.49 59.0,365.55 59.5,365.67 60.0,365.74 60.5,365.82 61.0,365.75 61.5,365.73 62.0,365.58 62.5,365.69 63.0,365.62 63.5,365.67 64.0,365.75 64.5,365.70 65.0,365.44 65.5,365.43 66.0,365.32 66.5,365.13 67.0,365.19 67.5,365.33 68.0,365.41 68.5,365.48 69.0,365.57 69.5,365.49 70.0,365.45 70.5,365.43 71.0,365.35 71.5,365.36 72.0,365.46 72.5,365.37 73.0,365.27 73.5,365.30 74.0,365.22 74.5,365.26 75.0,365.32 75.5,365.41 76.0,365.44 76.5,365.48 77.0,365.59 77.5,365.43 78.0,365.49 78.5,365.53 79.0,365.56 79.5,365.38 80.0,365.49 80.5,365.33 81.0,365.20 81.5,365.19 82.0,365.11 82.5,365.18 83.0,365.34 83.5,365.19 84.0,365.09 84.5,365.23 85.0,365.18 85.5,365.11 86.0,365.38 86.5,365.54 87.0,365.58 87.5,365.69 88.0,365.68 88.5,365.71 89.0,365.54 89.5,365.47 90.0,365.26 90.5,365.35 91.0,365.45 91.5,365.60 92.0,365.52 92.5,365.60 93.0,365.50 93.5,365.35 94.0,365.39 94.5,365.54 95.0,365.36 95.5,365.46 96.0,365.41 96.5,365.29 97.0,365.32 97.5,365.49 98.0,365.29 98.5,365.23 99.0,365.28 99.5,365.24 100.0,365.36 100.5,365.44 101.0,365.50 101.5,365.61 102.0,365.51 102.5,365.51 103.0,365.54 103.5,365.58 104.0,365.45 104.5,365.50 105.0,365.37 105.5,365.30 106.0,365.28 106.5,365.24 107.0,365.24 107.5,365.28 108.0,365.31 108.5,365.30 109.0,365.33 109.5,365.43 110.0,365.42 110.5,365.39 111.0,365.34 111.5,365.29 112.0,364.95 112.5,364.74 113.0,364.74 113.5,364.95 114.0,365.14 114.5,365.31 115.0,365.26 115.5,365.21 116.0,365.02 116.5,365.04 117.0,365.09 117.5,365.29 118.0,365.38 118.5,365.64 119.0,365.58 119.5,365.49 120.0,365.29 120.5,365.23 121.0,365.10 121.5,365.17 122.0,365.29 122.5,365.36 123.0,365.44 123.5,365.50 124.0,365.38 124.5,365.15 125.0,365.12 125.5,365.00 126.0,364.95 126.5,365.00 127.0,365.10 127.5,365.14 128.0,365.27 128.5,365.23 129.0,365.30 129.5,365.19 130.0,365.21 130.5,365.19 131.0,365.19 131.5,365.00 132.0,365.15 132.5,365.09 133.0,365.10 133.5,365.20 134.0,365.30 134.5,365.24 135.0,365.35 135.5,365.30 136.0,365.17 136.5,365.17 137.0,365.20 137.5,365.13 138.0,365.11 138.5,365.15 139.0,365.12 139.5,365.00 140.0,364.88 140.5,364.93 141.0,364.88 141.5,364.89 142.0,364.84 142.5,364.90 143.0,364.61 143.5,364.40 144.0,363.28 144.5,361.79 145.0,360.55 145.5,360.54 146.0,361.29 146.5,362.90 147.0,364.16 147.5,364.55 148.0,364.69 148.5,364.83 149.0,364.74 149.5,364.65 150.0,364.69 150.5,364.53 151.0,364.71 151.5,364.74 152.0,364.70 152.5,364.77 153.0,364.85 153.5,364.78 154.0,364.78 154.5,364.84 155.0,364.78 155.5,364.78 156.0,364.66 156.5,364.66 157.0,364.74 157.5,364.68 158.0,364.61 158.5,364.59 159.0,364.63 159.5,364.53 160.0,364.63 160.5,364.56 161.0,364.59 161.5,364.53 162.0,364.47 162.5,364.40 163.0,364.34 163.5,364.33 164.0,364.34 164.5,364.25 165.0,364.22 165.5,364.45 166.0,364.39 166.5,364.41 167.0,364.48 167.5,364.42 168.0,364.24 168.5,364.23 169.0,364.26 169.5,364.32 170.0,364.32 170.5,364.44 171.0,364.45 171.5,364.30 172.0,364.26 172.5,364.23 173.0,364.04 173.5,364.13 174.0,364.04 174.5,364.03 175.0,363.98 175.5,364.09 176.0,363.99 176.5,364.09 177.0,363.91 177.5,364.02 178.0,364.02 178.5,363.98 179.0,364.01 179.5,364.24 180.0,364.20 180.5,364.23 181.0,364.22 181.5,364.25 182.0,364.23 182.5,364.44 183.0,364.45 183.5,364.46 184.0,364.31 184.5,363.83 185.0,363.14 185.5,362.00 186.0,359.56 186.5,354.11 187.0,344.98 187.5,335.74 188.0,333.32 188.5,340.31 189.0,350.98 189.5,359.05 190.0,362.62 190.5,363.95 191.0,364.09 191.5,363.66 192.0,362.45 192.5,360.49 193.0,358.31 193.5,357.29 194.0,358.34 194.5,360.67 195.0,362.61 195.5,363.03 196.0,361.57 196.5,357.65 197.0,352.20 197.5,348.15 198.0,348.65 198.5,353.15 199.0,358.54 199.5,362.13 200.0,363.81 200.5,364.29 201.0,364.50 201.5,364.48 202.0,364.41 202.5,364.50 203.0,364.60 203.5,364.52 204.0,364.57 204.5,364.61 205.0,364.56 205.5,364.57 206.0,364.61 206.5,364.53 207.0,364.35 207.5,363.94 208.0,363.62 208.5,363.57 209.0,363.88 209.5,364.37 210.0,364.76 210.5,364.93 211.0,364.86 211.5,364.89 212.0,364.82 212.5,364.89 213.0,364.88 213.5,364.99 214.0,365.02 214.5,364.92 215.0,364.88 215.5,364.91 216.0,364.83 216.5,364.66 217.0,364.74 217.5,364.71 218.0,364.68 218.5,364.79 219.0,364.82 219.5,364.82 220.0,364.90 220.5,364.84 221.0,364.78 221.5,364.76 222.0,364.80 222.5,364.86 223.0,364.80 223.5,364.88 224.0,365.02 224.5,364.93 225.0,364.78 225.5,364.81 226.0,364.71 226.5,364.67 227.0,364.75 227.5,364.79 228.0,364.93 228.5,365.00 229.0,364.92 229.5,364.98 230.0,365.06 230.5,364.96 231.0,365.07 231.5,365.19 232.0,365.10 232.5,365.16 233.0,365.04 233.5,364.82 234.0,364.84 234.5,364.82 235.0,364.60 235.5,364.78 236.0,364.70 236.5,364.28 237.0,364.11 237.5,364.38 238.0,364.70 238.5,364.76 239.0,364.98 239.5,365.03 240.0,364.86 240.5,364.74 241.0,364.77 241.5,364.72 242.0,364.87 242.5,365.03 243.0,365.10 243.5,365.25 244.0,365.32 244.5,365.28 245.0,365.18 245.5,365.10 246.0,365.13 246.5,365.06 247.0,364.97 247.5,365.14 248.0,365.27 248.5,365.18 249.0,365.17 249.5,365.21 250.0,365.02 250.5,364.63 251.0,364.44 251.5,364.45 252.0,364.61 252.5,365.09 253.0,365.44 253.5,365.54 254.0,365.60 254.5,365.81 255.0,365.69 255.5,365.55 256.0,365.53 256.5,365.47 257.0,365.23 257.5,365.18 258.0,365.25 258.5,365.21 259.0,365.11 259.5,365.01 260.0,364.57 260.5,364.35 261.0,364.40 261.5,364.75 262.0,364.84 262.5,365.24 263.0,365.13 263.5,365.09 264.0,365.12 264.5,365.25 265.0,365.11 265.5,365.08 266.0,365.12 266.5,365.10 267.0,365.19 267.5,365.20 268.0,365.38 268.5,365.44 269.0,365.39 269.5,365.30 270.0,365.46 270.5,365.39 271.0,365.45 271.5,365.51 272.0,365.67 272.5,365.49 273.0,365.59 273.5,365.54 274.0,365.52 274.5,365.45 275.0,365.45 275.5,365.41 276.0,365.37 276.5,365.44 277.0,365.42 277.5,365.38 278.0,365.37 278.5,365.40 279.0,365.29 279.5,365.39 280.0,365.51 280.5,365.55 281.0,365.36 281.5,365.13 282.0,364.85 282.5,364.70 283.0,364.90 283.5,365.25 284.0,365.43 284.5,365.44 285.0,365.48 285.5,365.48 286.0,365.40 286.5,365.35 287.0,365.45 287.5,365.48 288.0,365.32 288.5,365.48 289.0,365.52 289.5,365.19 290.0,365.23 290.5,365.42 291.0,365.28 291.5,365.23 292.0,365.18 292.5,365.08 293.0,365.10 293.5,365.38 294.0,365.61 294.5,365.76 295.0,365.76 295.5,365.71 296.0,365.68 296.5,365.49 297.0,365.51 297.5,365.46 298.0,365.63 298.5,365.59 299.0,365.81 299.5,365.68 300.0,365.75 300.5,365.91 301.0,366.00 301.5,365.82 302.0,365.94 302.5,365.99 303.0,365.80 303.5,365.46 304.0,365.22 304.5,364.78 305.0,364.88 305.5,365.12 306.0,365.54 306.5,365.75 307.0,365.99 307.5,365.80 308.0,365.91 308.5,365.93 309.0,365.77 309.5,365.84 310.0,366.03 310.5,366.01 311.0,366.07 311.5,366.14 312.0,366.11 312.5,366.14 313.0,366.12 313.5,366.20 314.0,366.21 314.5,366.22 315.0,366.17 315.5,366.01 316.0,365.78 316.5,365.79 317.0,365.72 317.5,365.69 318.0,365.78 318.5,365.89 319.0,365.93 319.5,365.93 320.0,365.94 320.5,365.99 321.0,365.99 321.5,366.02 322.0,365.98 322.5,366.00 323.0,365.93 323.5,366.05 324.0,366.03 324.5,366.08 325.0,365.97 325.5,365.99 326.0,365.88 326.5,365.89 327.0,365.83 327.5,365.80 328.0,365.83 328.5,365.83 329.0,365.86 329.5,365.99 330.0,366.05 330.5,365.91 331.0,365.89 331.5,365.73 332.0,365.55 332.5,365.64 333.0,365.82 333.5,365.79 334.0,365.87 334.5,365.96 335.0,365.76 335.5,365.76 336.0,365.78 336.5,365.95 337.0,365.89 337.5,366.08 338.0,366.00 338.5,366.09 339.0,365.90 339.5,366.02 340.0,365.92 340.5,365.92 341.0,365.83 341.5,365.94 342.0,365.91 342.5,366.06 343.0,366.17 343.5,366.00 344.0,365.94 344.5,365.77 345.0,365.63 345.5,365.62 346.0,365.71 346.5,365.66 347.0,365.81 347.5,365.82 348.0,365.88 348.5,366.00 349.0,366.12 349.5,366.23 350.0,366.22 350.5,366.11 351.0,366.02 351.5,366.00 352.0,365.95 352.5,366.08 353.0,366.08 353.5,366.10 354.0,366.03 354.5,365.86 355.0,365.77 355.5,365.87 356.0,365.76 356.5,365.66 357.0,365.85 357.5,365.73 358.0,365.65 358.5,365.69 359.0,365.74 359.5,365.28 360.0,364.68 360.5,363.92 361.0,363.66 361.5,364.00 362.0,364.87 362.5,365.66 363.0,365.97 363.5,366.07 364.0,366.06 364.5,365.92 365.0,365.85 365.5,365.86 366.0,365.96 366.5,365.98 367.0,366.02 367.5,366.02 368.0,366.10 368.5,365.97 369.0,366.08 369.5,366.08 370.0,366.11 370.5,366.11 371.0,366.27 371.5,366.22 372.0,366.21 372.5,366.17 373.0,366.01 373.5,365.95 374.0,365.88 374.5,365.84 375.0,366.02 375.5,366.01 376.0,366.00 376.5,366.10 377.0,366.19 377.5,366.11 378.0,366.15 378.5,366.08 379.0,366.04 379.5,365.96 380.0,365.99 380.5,366.09 381.0,366.18 381.5,366.16 382.0,366.17 382.5,366.06 383.0,365.99 383.5,365.98 384.0,365.91 384.5,365.95 385.0,365.85 385.5,365.79 386.0,365.82 386.5,365.88 387.0,365.79 387.5,365.87 388.0,365.91 388.5,366.02 389.0,365.89 389.5,366.08 390.0,366.04 390.5,366.14 391.0,365.98 391.5,366.07 392.0,366.01 392.5,366.13 393.0,366.08 393.5,366.01 394.0,366.10 394.5,365.92 395.0,365.51 395.5,365.22 396.0,365.35 396.5,365.53 397.0,365.86 397.5,365.97 398.0,366.06 398.5,366.00 399.0,366.08 399.5,366.13 400.0,366.19 400.5,366.23 401.0,366.38 401.5,366.27 402.0,366.08 402.5,366.16 403.0,366.16 403.5,366.05 404.0,366.17 404.5,366.25 405.0,366.06 405.5,366.05 406.0,366.06 406.5,366.09 407.0,366.07 407.5,366.19 408.0,366.19 408.5,366.22 409.0,365.99 409.5,366.00 410.0,365.99 410.5,366.06 411.0,366.21 411.5,366.23 412.0,366.16 412.5,366.12 413.0,365.98 413.5,365.77 414.0,365.85 414.5,365.99 415.0,365.96 415.5,365.90 416.0,365.82 416.5,365.90 417.0,365.92 417.5,365.90 418.0,365.89 418.5,366.03 419.0,366.03 419.5,366.01 420.0,366.14 420.5,366.30 421.0,366.31 421.5,366.20 422.0,366.26 422.5,366.25 423.0,366.13 423.5,366.07 424.0,366.00 424.5,365.87 425.0,365.95 425.5,365.94 426.0,366.05 426.5,366.31 427.0,366.34 427.5,366.18 428.0,366.21 428.5,366.11 429.0,365.87 429.5,365.76 430.0,365.82 430.5,365.83 431.0,365.77 431.5,365.45 432.0,365.09 432.5,364.55 433.0,364.34 433.5,364.54 434.0,365.38 434.5,365.81 435.0,366.19 435.5,366.33 436.0,366.35 436.5,366.20 437.0,366.36 437.5,366.30 438.0,366.22 438.5,366.30 439.0,366.34 439.5,366.16 440.0,366.08 440.5,366.04 441.0,366.00 441.5,366.02 442.0,366.01 442.5,366.07 443.0,366.13 443.5,366.21 444.0,366.24 444.5,366.40 445.0,366.39 445.5,366.44 446.0,366.37 446.5,366.35 447.0,366.20 447.5,366.14 448.0,366.15 448.5,366.16 449.0,366.15 449.5,366.14 450.0,366.25 450.5,366.16 451.0,366.19 451.5,366.16 452.0,366.30 452.5,366.18 453.0,366.15 453.5,365.99 454.0,365.98 454.5,365.83 455.0,365.89 455.5,366.07 456.0,366.04 456.5,365.98 457.0,366.08 457.5,366.13 458.0,366.05 458.5,366.23 459.0,366.36 459.5,366.36 460.0,366.33 460.5,366.18 461.0,365.79 461.5,365.40 462.0,365.23 462.5,365.20 463.0,365.46 463.5,365.80 464.0,365.95 464.5,366.05 465.0,366.10 465.5,366.05 466.0,366.03 466.5,366.09 467.0,366.19 467.5,366.24 468.0,366.42 468.5,366.50 469.0,366.35 469.5,366.23 470.0,366.15 470.5,365.96 471.0,365.85 471.5,366.12 472.0,365.99 472.5,366.00 473.0,366.18 473.5,366.31 474.0,366.06 474.5,366.17 475.0,366.17 475.5,366.08 476.0,366.09 476.5,366.17 477.0,366.15 477.5,366.30 478.0,366.18 478.5,366.10 479.0,366.18 479.5,366.11 480.0,365.97 480.5,366.01 481.0,366.04 481.5,365.97 482.0,366.11 482.5,366.23 483.0,366.33 483.5,366.29 484.0,366.35 484.5,366.30 485.0,366.15 485.5,366.22 486.0,366.26 486.5,366.30 487.0,366.20 487.5,366.35 488.0,366.43 488.5,366.46 489.0,366.30 489.5,366.40 490.0,366.33 490.5,366.20 491.0,366.13 491.5,366.21 492.0,365.99 492.5,365.65 493.0,365.10 493.5,364.77 494.0,364.85 494.5,365.26 495.0,365.77 495.5,366.08 496.0,366.20 496.5,366.15 497.0,366.29 497.5,366.19 498.0,366.34 498.5,366.26 499.0,366.27 499.5,366.25 500.0,366.35 500.5,366.20 501.0,366.21 501.5,366.29 502.0,366.14 502.5,366.13 503.0,366.17 503.5,366.25 504.0,366.35 504.5,366.55 505.0,366.57 505.5,366.51 506.0,366.54 506.5,366.38 507.0,366.26 507.5,366.30 508.0,366.28 508.5,366.28 509.0,366.29 509.5,366.24 510.0,366.27 510.5,366.30 511.0,366.28 511.5,366.28 512.0,366.18 512.5,365.96 513.0,365.98 513.5,366.03 514.0,366.10 514.5,366.30 515.0,366.41 515.5,366.33 516.0,366.29 516.5,366.19 517.0,366.23 517.5,366.31 518.0,366.62 518.5,366.66 519.0,366.76 519.5,366.60 520.0,366.51 520.5,366.27 521.0,366.28 521.5,366.14 522.0,366.20 522.5,366.14 523.0,366.19 523.5,366.16 524.0,366.21 524.5,366.24 525.0,366.23 525.5,366.36 526.0,366.28 526.5,366.40 527.0,366.53 527.5,366.43 528.0,366.26 528.5,366.30 529.0,366.31 529.5,366.12 530.0,366.33 530.5,366.35 531.0,366.40 531.5,366.23 532.0,366.33 532.5,366.09 533.0,366.01 533.5,366.10 534.0,366.20 534.5,366.08 535.0,366.45 535.5,366.66 536.0,366.61 536.5,366.57 537.0,366.68 537.5,366.56 538.0,366.37 538.5,366.33 539.0,366.35 539.5,366.40 540.0,366.45 540.5,366.53 541.0,366.44 541.5,366.47 542.0,366.43 542.5,366.31 543.0,366.34 543.5,366.43 544.0,366.45 544.5,366.49 545.0,366.53 545.5,366.48 546.0,366.31 546.5,366.34 547.0,366.23 547.5,366.19 548.0,366.24 548.5,366.25 549.0,366.17 549.5,366.01 550.0,366.00 550.5,365.96 551.0,366.21 551.5,366.27 552.0,366.44 552.5,366.48 553.0,366.60 553.5,366.41 554.0,366.37 554.5,366.36 555.0,366.53 555.5,366.48 556.0,366.39 556.5,366.47 557.0,366.68 557.5,366.44 558.0,366.68 558.5,366.82 559.0,366.83 559.5,366.61 560.0,366.66 560.5,366.32 561.0,366.25 561.5,366.03 562.0,366.15 562.5,366.09 563.0,366.21 563.5,366.31 564.0,366.41 564.5,366.34 565.0,366.41 565.5,366.35 566.0,366.33 566.5,366.39 567.0,366.31 567.5,366.22 568.0,366.20 568.5,366.21 569.0,366.30 569.5,366.48 570.0,366.60 570.5,366.73 571.0,366.73 571.5,366.71 572.0,366.62 572.5,366.62 573.0,366.54 573.5,366.53 574.0,366.59 574.5,366.49 575.0,366.47 575.5,366.44 576.0,366.51 576.5,366.51 577.0,366.55 577.5,366.29 578.0,366.23 578.5,365.96 579.0,365.46 579.5,365.40 580.0,365.75 580.5,365.80 581.0,366.02 581.5,366.29 582.0,366.36 582.5,366.30 583.0,366.42 583.5,366.33 584.0,366.33 584.5,366.25 585.0,366.43 585.5,366.51 586.0,366.40 586.5,366.48 587.0,366.55 587.5,366.34 588.0,366.16 588.5,365.89 589.0,365.47 589.5,365.14 590.0,365.25 590.5,365.66 591.0,366.17 591.5,366.30 592.0,366.47 592.5,366.63 593.0,366.54 593.5,366.46 594.0,366.53 594.5,366.53 595.0,366.52 595.5,366.37 596.0,366.46 596.5,366.30 597.0,366.33 597.5,366.23 598.0,366.44 598.5,366.39 599.0,366.53 599.5,366.61 600.0,366.70 600.5,366.64 601.0,366.45 601.5,366.25 602.0,366.05 602.5,366.01 603.0,366.00 603.5,366.13 604.0,366.32 604.5,366.47 605.0,366.40 605.5,366.31 606.0,366.18 606.5,366.25 607.0,366.34 607.5,366.31 608.0,366.40 608.5,366.58 609.0,366.60 609.5,366.50 610.0,366.61 610.5,366.71 611.0,366.56 611.5,366.39 612.0,366.43 612.5,366.36 613.0,366.44 613.5,366.63 614.0,366.70 614.5,366.63 615.0,366.75 615.5,366.64 616.0,366.54 616.5,366.49 617.0,366.46 617.5,366.39 618.0,366.41 618.5,366.52 619.0,366.60 619.5,366.77 620.0,366.73 620.5,366.63 621.0,366.65 621.5,366.64 622.0,366.52 622.5,366.60 623.0,366.70 623.5,366.66 624.0,366.64 624.5,366.66 625.0,366.66 625.5,366.72 626.0,366.68 626.5,366.62 627.0,366.69 627.5,366.57 628.0,366.46 628.5,366.43 629.0,366.55 629.5,366.54 630.0,366.70 630.5,366.86 631.0,366.86 631.5,366.73 632.0,366.76 632.5,366.68 633.0,366.52 633.5,366.50 634.0,366.60 634.5,366.57 635.0,366.42 635.5,366.39 636.0,366.46 636.5,366.51 637.0,366.46 637.5,366.56 638.0,366.67 638.5,366.60 639.0,366.52 639.5,366.60 640.0,366.71 640.5,366.63 641.0,366.59 641.5,366.66 642.0,366.60 642.5,366.51 643.0,366.65 643.5,366.80 644.0,366.65 644.5,366.65 645.0,366.67 645.5,366.47 646.0,366.27 646.5,366.40 647.0,366.50 647.5,366.53 648.0,366.56 648.5,366.72 649.0,366.70 649.5,366.57 650.0,366.53 650.5,366.52 651.0,366.56 651.5,366.53 652.0,366.52 652.5,366.50 653.0,366.67 653.5,366.54 654.0,366.54"/>
<polyline fill="none" stroke="#505050" stroke-width="1.6" stroke-linejoin="round" points="28.0,385.42 28.5,385.63 29.0,385.64 29.5,385.52 30.0,385.49 30.5,385.56 31.0,385.42 31.5,385.40 32.0,385.49 32.5,385.46 33.0,385.39 33.5,385.48 34.0,385.51 34.5,385.61 35.0,385.70 35.5,385.89 36.0,385.88 36.5,386.02 37.0,385.92 37.5,385.83 38.0,385.82 38.5,385.63 39.0,385.52 39.5,385.57 40.0,385.63 40.5,385.71 41.0,385.97 41.5,386.02 42.0,385.99 42.5,386.11 43.0,385.99 43.5,385.92 44.0,385.98 44.5,386.06 45.0,386.15 45.5,386.19 46.0,386.10 46.5,386.11 47.0,386.17 47.5,386.03 48.0,386.17 48.5,386.45 49.0,386.37 49.5,386.25 50.0,386.19 50.5,386.13 51.0,386.07 51.5,386.17 52.0,386.13 52.5,386.18 53.0,386.05 53.5,385.90 54.0,385.77 54.5,385.75 55.0,385.76 55.5,385.75 56.0,385.68 56.5,385.65 57.0,385.86 57.5,386.14 58.0,386.32 58.5,386.32 59.0,386.35 59.5,386.39 60.0,386.36 60.5,386.33 61.0,386.27 61.5,386.34 62.0,386.25 62.5,386.32 63.0,386.22 63.5,386.41 64.0,386.39 64.5,386.45 65.0,386.38 65.5,386.40 66.0,386.29 66.5,386.25 67.0,386.50 67.5,386.43 68.0,386.60 68.5,386.56 69.0,386.55 69.5,386.43 70.0,386.57 70.5,386.51 71.0,386.54 71.5,386.52 72.0,386.47 72.5,386.51 73.0,386.38 73.5,386.36 74.0,386.27 74.5,386.19 75.0,386.04 75.5,386.23 76.0,386.42 76.5,386.60 77.0,386.59 77.5,386.65 78.0,386.49 78.5,386.37 79.0,386.36 79.5,386.49 80.0,386.55 80.5,386.62 81.0,386.44 81.5,386.21 82.0,386.16 82.5,386.14 83.0,386.24 83.5,386.36 84.0,386.51 84.5,386.53 85.0,386.57 85.5,386.47 86.0,386.42 86.5,386.49 87.0,386.50 87.5,386.45 88.0,386.36 88.5,386.44 89.0,386.24 89.5,386.07 90.0,386.02 90.5,386.08 91.0,386.12 91.5,386.35 92.0,386.49 92.5,386.64 93.0,386.63 93.5,386.64 94.0,386.45 94.5,386.46 95.0,386.31 95.5,386.33 96.0,386.32 96.5,386.28 97.0,386.28 97.5,386.24 98.0,386.27 98.5,386.25 99.0,386.36 99.5,386.32 100.0,386.30 100.5,386.32 101.0,386.23 101.5,386.27 102.0,386.18 102.5,386.35 103.0,386.23 103.5,386.34 104.0,386.27 104.5,386.39 105.0,386.27 105.5,386.38 106.0,386.29 106.5,386.40 107.0,386.39 107.5,386.44 108.0,386.50 108.5,386.43 109.0,386.42 109.5,386.36 110.0,386.19 110.5,386.06 111.0,385.98 111.5,385.74 112.0,385.32 112.5,385.18 113.0,385.26 113.5,385.48 114.0,385.70 114.5,385.80 115.0,385.94 115.5,386.03 116.0,386.16 116.5,385.99 117.0,386.07 117.5,385.96 118.0,385.88 118.5,385.85 119.0,385.86 119.5,385.83 120.0,385.73 120.5,385.80 121.0,385.75 121.5,385.78 122.0,385.77 122.5,385.74 123.0,385.56 123.5,385.59 124.0,385.59 124.5,385.56 125.0,385.73 125.5,385.78 126.0,385.68 126.5,385.67 127.0,385.73 127.5,385.58 128.0,385.54 128.5,385.62 129.0,385.68 129.5,385.60 130.0,385.62 130.5,385.54 131.0,385.55 131.5,385.44 132.0,385.56 132.5,385.56 133.0,385.59 133.5,385.61 134.0,385.66 134.5,385.53 135.0,385.51 135.5,385.47 136.0,385.33 136.5,385.28 137.0,385.34 137.5,385.28 138.0,385.30 138.5,385.32 139.0,385.40 139.5,385.45 140.0,385.42 140.5,385.48 141.0,385.50 141.5,385.42 142.0,385.30 142.5,385.25 143.0,385.21 143.5,384.98 144.0,384.30 144.5,383.19 145.0,381.89 145.5,381.05 146.0,381.31 146.5,382.66 147.0,383.86 147.5,384.67 148.0,385.02 148.5,385.07 149.0,385.10 149.5,385.12 150.0,385.14 150.5,385.02 151.0,385.06 151.5,385.03 152.0,384.95 152.5,384.81 153.0,384.81 153.5,384.85 154.0,384.87 154.5,384.83 155.0,385.03 155.5,385.11 156.0,385.18 156.5,385.06 157.0,385.00 157.5,384.76 158.0,384.64 158.5,384.74 159.0,384.91 159.5,385.02 160.0,385.15 160.5,385.24 161.0,385.07 161.5,385.05 162.0,385.10 162.5,384.96 163.0,384.77 163.5,384.75 164.0,384.72 164.5,384.59 165.0,384.51 165.5,384.62 166.0,384.42 166.5,384.47 167.0,384.52 167.5,384.68 168.0,384.76 168.5,384.84 169.0,384.62 169.5,384.80 170.0,384.72 170.5,384.56 171.0,384.67 171.5,384.81 172.0,384.73 172.5,384.75 173.0,384.72 173.5,384.69 174.0,384.62 174.5,384.61 175.0,384.60 175.5,384.76 176.0,384.71 176.5,384.74 177.0,384.78 177.5,384.87 178.0,384.77 178.5,384.78 179.0,384.70 179.5,384.57 180.0,384.51 180.5,384.47 181.0,384.44 181.5,384.44 182.0,384.48 182.5,384.48 183.0,384.32 183.5,384.23 184.0,383.88 184.5,383.41 185.0,383.12 185.5,382.68 186.0,381.99 186.5,380.76 187.0,378.09 187.5,374.03 188.0,371.44 188.5,372.34 189.0,376.41 189.5,380.58 190.0,383.34 190.5,384.49 191.0,384.65 191.5,384.54 192.0,384.03 192.5,382.59 193.0,380.01 193.5,377.47 194.0,376.64 194.5,378.48 195.0,381.33 195.5,383.37 196.0,383.81 196.5,382.38 197.0,379.17 197.5,375.28 198.0,373.25 198.5,375.12 199.0,379.04 199.5,382.42 200.0,384.16 200.5,384.88 201.0,385.11 201.5,385.12 202.0,385.06 202.5,384.93 203.0,384.92 203.5,384.84 204.0,384.90 204.5,384.86 205.0,384.93 205.5,384.89 206.0,384.90 206.5,384.74 207.0,384.51 207.5,383.81 208.0,382.93 208.5,382.52 209.0,382.80 209.5,383.59 210.0,384.41 210.5,384.97 211.0,385.18 211.5,385.23 212.0,385.01 212.5,384.88 213.0,384.87 213.5,384.74 214.0,384.86 214.5,385.05 215.0,385.15 215.5,385.29 216.0,385.46 216.5,385.43 217.0,385.42 217.5,385.43 218.0,385.25 218.5,385.29 219.0,385.39 219.5,385.38 220.0,385.29 220.5,385.65 221.0,385.62 221.5,385.63 222.0,385.78 222.5,385.91 223.0,385.65 223.5,385.65 224.0,385.53 224.5,385.46 225.0,385.28 225.5,385.30 226.0,385.30 226.5,385.26 227.0,385.36 227.5,385.39 228.0,385.44 228.5,385.37 229.0,385.51 229.5,385.34 230.0,385.60 230.5,385.61 231.0,385.78 231.5,385.83 232.0,385.93 232.5,385.77 233.0,385.69 233.5,385.61 234.0,385.57 234.5,385.51 235.0,385.36 235.5,385.21 236.0,384.87 236.5,384.40 237.0,384.23 237.5,384.54 238.0,384.93 238.5,385.17 239.0,385.31 239.5,385.32 240.0,385.32 240.5,385.49 241.0,385.48 241.5,385.39 242.0,385.47 242.5,385.47 243.0,385.38 243.5,385.65 244.0,385.91 244.5,385.91 245.0,386.02 245.5,386.04 246.0,385.94 246.5,385.79 247.0,385.71 247.5,385.61 248.0,385.72 248.5,385.77 249.0,385.77 249.5,385.84 250.0,385.69 250.5,385.32 251.0,384.86 251.5,384.95 252.0,385.15 252.5,385.51 253.0,385.65 253.5,385.78 254.0,385.69 254.5,385.61 255.0,385.76 255.5,385.74 256.0,385.61 256.5,385.49 257.0,385.40 257.5,385.24 258.0,385.37 258.5,385.37 259.0,385.44 259.5,385.29 260.0,385.06 260.5,384.71 261.0,384.90 261.5,385.35 262.0,385.95 262.5,386.14 263.0,386.14 263.5,386.04 264.0,385.88 264.5,385.64 265.0,385.71 265.5,385.74 266.0,385.85 266.5,385.95 267.0,386.23 267.5,386.06 268.0,386.17 268.5,386.19 269.0,386.17 269.5,385.89 270.0,386.01 270.5,385.88 271.0,385.83 271.5,385.86 272.0,386.02 272.5,386.04 273.0,386.05 273.5,386.10 274.0,386.11 274.5,386.11 275.0,386.09 275.5,386.13 276.0,386.21 276.5,386.14 277.0,386.05 277.5,386.00 278.0,386.11 278.5,385.99 279.0,386.01 279.5,386.09 280.0,386.10 280.5,385.96 281.0,385.87 281.5,385.49 282.0,385.28 282.5,385.20 283.0,385.40 283.5,385.85 284.0,386.26 284.5,386.37 285.0,386.28 285.5,386.47 286.0,386.39 286.5,386.21 287.0,386.17 287.5,386.24 288.0,386.05 288.5,386.04 289.0,386.05 289.5,386.05 290.0,386.05 290.5,386.06 291.0,386.03 291.5,385.87 292.0,385.43 292.5,385.28 293.0,385.54 293.5,385.88 294.0,386.10 294.5,386.18 295.0,386.35 295.5,386.37 296.0,386.30 296.5,386.50 297.0,386.49 297.5,386.45 298.0,386.32 298.5,386.31 299.0,386.21 299.5,386.39 300.0,386.29 300.5,386.48 301.0,386.57 301.5,386.52 302.0,386.61 302.5,386.63 303.0,386.31 303.5,385.85 304.0,385.14 304.5,384.66 305.0,384.79 305.5,385.32 306.0,385.92 306.5,386.49 307.0,386.70 307.5,386.64 308.0,386.60 308.5,386.42 309.0,386.36 309.5,386.12 310.0,386.16 310.5,386.29 311.0,386.41 311.5,386.37 312.0,386.58 312.5,386.58 313.0,386.57 313.5,386.68 314.0,386.66 314.5,386.52 315.0,386.72 315.5,386.69 316.0,386.55 316.5,386.62 317.0,386.64 317.5,386.37 318.0,386.35 318.5,386.43 319.0,386.44 319.5,386.52 320.0,386.48 320.5,386.41 321.0,386.46 321.5,386.43 322.0,386.48 322.5,386.62 323.0,386.63 323.5,386.61 324.0,386.57 324.5,386.50 325.0,386.56 325.5,386.81 326.0,386.77 326.5,386.89 327.0,386.89 327.5,386.86 328.0,386.52 328.5,386.50 329.0,386.47 329.5,386.48 330.0,386.37 330.5,386.61 331.0,386.72 331.5,386.70 332.0,386.65 332.5,386.68 333.0,386.62 333.5,386.63 334.0,386.73 334.5,386.71 335.0,386.67 335.5,386.60 336.0,386.59 336.5,386.49 337.0,386.55 337.5,386.65 338.0,386.73 338.5,386.65 339.0,386.56 339.5,386.49 340.0,386.46 340.5,386.46 341.0,386.44 341.5,386.49 342.0,386.63 342.5,386.59 343.0,386.57 343.5,386.58 344.0,386.54 344.5,386.33 345.0,386.33 345.5,386.25 346.0,386.33 346.5,386.31 347.0,386.39 347.5,386.48 348.0,386.52 348.5,386.50 349.0,386.64 349.5,386.55 350.0,386.47 350.5,386.41 351.0,386.47 351.5,386.40 352.0,386.55 352.5,386.70 353.0,386.75 353.5,386.65 354.0,386.69 354.5,386.63 355.0,386.60 355.5,386.68 356.0,386.75 356.5,386.72 357.0,386.71 357.5,386.60 358.0,386.51 358.5,386.28 359.0,386.19 359.5,385.98 360.0,385.48 360.5,384.90 361.0,384.76 361.5,385.00 362.0,385.54 362.5,386.19 363.0,386.46 363.5,386.59 364.0,386.66 364.5,386.64 365.0,386.50 365.5,386.49 366.0,386.42 366.5,386.42 367.0,386.51 367.5,386.48 368.0,386.59 368.5,386.67 369.0,386.69 369.5,386.60 370.0,386.68 370.5,386.70 371.0,386.58 371.5,386.51 372.0,386.37 372.5,386.20 373.0,386.07 373.5,386.05 374.0,386.08 374.5,386.27 375.0,386.39 375.5,386.44 376.0,386.53 376.5,386.47 377.0,386.41 377.5,386.46 378.0,386.43 378.5,386.39 379.0,386.37 379.5,386.42 380.0,386.36 380.5,386.50 381.0,386.53 381.5,386.67 382.0,386.52 382.5,386.50 383.0,386.43 383.5,386.48 384.0,386.37 384.5,386.60 385.0,386.65 385.5,386.64 386.0,386.56 386.5,386.69 387.0,386.61 387.5,386.63 388.0,386.49 388.5,386.56 389.0,386.40 389.5,386.37 390.0,386.40 390.5,386.47 391.0,386.45 391.5,386.55 392.0,386.53 392.5,386.44 393.0,386.41 393.5,386.30 394.0,386.02 394.5,385.84 395.0,385.64 395.5,385.60 396.0,385.85 396.5,386.09 397.0,385.95 397.5,386.08 398.0,386.26 398.5,386.16 399.0,386.20 399.5,386.44 400.0,386.33 400.5,386.19 401.0,386.26 401.5,386.29 402.0,386.24 402.5,386.28 403.0,386.33 403.5,386.31 404.0,386.33 404.5,386.26 405.0,386.35 405.5,386.24 406.0,386.29 406.5,386.32 407.0,386.46 407.5,386.38 408.0,386.60 408.5,386.52 409.0,386.50 409.5,386.48 410.0,386.43 410.5,386.30 411.0,386.47 411.5,386.43 412.0,386.39 412.5,386.41 413.0,386.43 413.5,386.36 414.0,386.39 414.5,386.46 415.0,386.49 415.5,386.54 416.0,386.62 416.5,386.58 417.0,386.67 417.5,386.63 418.0,386.65 418.5,386.56 419.0,386.61 419.5,386.35 420.0,386.50 420.5,386.40 421.0,386.34 421.5,386.44 422.0,386.58 422.5,386.60 423.0,386.77 423.5,386.88 424.0,386.83 424.5,386.88 425.0,386.65 425.5,386.55 426.0,386.51 426.5,386.46 427.0,386.43 427.5,386.42 428.0,386.47 428.5,386.56 429.0,386.50 429.5,386.50 430.0,386.71 430.5,386.67 431.0,386.47 431.5,386.37 432.0,386.13 432.5,385.79 433.0,385.51 433.5,385.76 434.0,386.14 434.5,386.35 435.0,386.38 435.5,386.49 436.0,386.45 436.5,386.65 437.0,386.66 437.5,386.63 438.0,386.71 438.5,386.76 439.0,386.60 439.5,386.68 440.0,386.62 440.5,386.60 441.0,386.67 441.5,386.73 442.0,386.66 442.5,386.73 443.0,386.56 443.5,386.48 444.0,386.46 444.5,386.53 445.0,386.55 445.5,386.64 446.0,386.59 446.5,386.57 447.0,386.52 447.5,386.60 448.0,386.63 448.5,386.65 449.0,386.65 449.5,386.61 450.0,386.51 450.5,386.36 451.0,386.29 451.5,386.21 452.0,386.28 452.5,386.29 453.0,386.46 453.5,386.65 454.0,386.67 454.5,386.71 455.0,386.75 455.5,386.69 456.0,386.71 456.5,386.69 457.0,386.54 457.5,386.50 458.0,386.58 458.5,386.46 459.0,386.41 459.5,386.46 460.0,386.42 460.5,386.43 461.0,386.31 461.5,386.22 462.0,386.05 462.5,386.20 463.0,386.19 463.5,386.35 464.0,386.50 464.5,386.60 465.0,386.61 465.5,386.67 466.0,386.62 466.5,386.70 467.0,386.77 467.5,386.74 468.0,386.71 468.5,386.76 469.0,386.70 469.5,386.72 470.0,386.84 470.5,386.93 471.0,386.84 471.5,386.94 472.0,386.97 472.5,386.92 473.0,386.99 473.5,386.96 474.0,386.80 474.5,386.69 475.0,386.71 475.5,386.54 476.0,386.62 476.5,386.76 477.0,386.84 477.5,386.73 478.0,386.94 478.5,386.88 479.0,386.80 479.5,386.75 480.0,386.81 480.5,386.66 481.0,386.70 481.5,386.68 482.0,386.61 482.5,386.61 483.0,386.61 483.5,386.74 484.0,386.69 484.5,386.74 485.0,386.73 485.5,386.84 486.0,386.64 486.5,386.68 487.0,386.77 487.5,386.65 488.0,386.50 488.5,386.69 489.0,386.63 489.5,386.54 490.0,386.76 490.5,386.76 491.0,386.65 491.5,386.53 492.0,386.42 492.5,386.00 493.0,385.83 493.5,385.69 494.0,385.80 494.5,386.34 495.0,386.82 495.5,386.87 496.0,386.91 496.5,387.04 497.0,386.86 497.5,386.68 498.0,386.64 498.5,386.58 499.0,386.53 499.5,386.54 500.0,386.73 500.5,386.72 501.0,386.78 501.5,386.78 502.0,386.84 502.5,386.69 503.0,386.77 503.5,386.65 504.0,386.57 504.5,386.56 505.0,386.64 505.5,386.70 506.0,386.77 506.5,386.83 507.0,386.79 507.5,386.62 508.0,386.49 508.5,386.56 509.0,386.74 509.5,386.83 510.0,387.03 510.5,387.15 511.0,387.09 511.5,386.87 512.0,386.76 512.5,386.82 513.0,386.87 513.5,386.85 514.0,386.95 514.5,386.99 515.0,386.87 515.5,386.73 516.0,386.58 516.5,386.61 517.0,386.61 517.5,386.63 518.0,386.82 518.5,386.99 519.0,386.94 519.5,387.01 520.0,386.92 520.5,386.88 521.0,386.86 521.5,386.90 522.0,386.90 522.5,387.10 523.0,387.00 523.5,386.92 524.0,387.08 524.5,387.04 525.0,387.05 525.5,387.03 526.0,387.13 526.5,386.94 527.0,386.99 527.5,386.87 528.0,386.87 528.5,386.95 529.0,387.02 529.5,386.84 530.0,386.84 530.5,386.83 531.0,386.64 531.5,386.58 532.0,386.69 532.5,386.71 533.0,386.72 533.5,386.67 534.0,386.68 534.5,386.77 535.0,386.68 535.5,386.78 536.0,386.94 536.5,386.95 537.0,386.91 537.5,386.96 538.0,386.89 538.5,386.79 539.0,386.85 539.5,386.93 540.0,386.94 540.5,387.05 541.0,386.97 541.5,386.88 542.0,386.72 542.5,386.89 543.0,386.76 543.5,386.97 544.0,386.89 544.5,386.97 545.0,386.89 545.5,386.93 546.0,386.69 546.5,386.85 547.0,386.90 547.5,386.95 548.0,386.98 548.5,387.06 549.0,387.03 549.5,387.04 550.0,386.89 550.5,386.91 551.0,386.99 551.5,387.02 552.0,387.01 552.5,387.02 553.0,387.18 553.5,387.23 554.0,387.25 554.5,387.14 555.0,387.20 555.5,386.98 556.0,386.87 556.5,386.74 557.0,386.82 557.5,386.81 558.0,386.65 558.5,386.60 559.0,386.69 559.5,386.66 560.0,386.71 560.5,386.79 561.0,386.92 561.5,386.76 562.0,386.44 562.5,386.07 563.0,386.09 563.5,386.23 564.0,386.63 564.5,386.91 565.0,387.07 565.5,386.98 566.0,386.93 566.5,386.84 567.0,386.86 567.5,386.93 568.0,387.04 568.5,387.14 569.0,387.18 569.5,387.29 570.0,387.25 570.5,387.29 571.0,387.27 571.5,387.32 572.0,387.24 572.5,387.14 573.0,386.98 573.5,387.08 574.0,387.06 574.5,387.10 575.0,387.17 575.5,387.25 576.0,387.31 576.5,387.21 577.0,387.17 577.5,387.18 578.0,387.14 578.5,386.85 579.0,386.88 579.5,386.86 580.0,386.84 580.5,386.97 581.0,386.98 581.5,387.06 582.0,387.19 582.5,387.29 583.0,387.15 583.5,387.03 584.0,387.07 584.5,387.00 585.0,386.90 585.5,387.07 586.0,387.25 586.5,387.20 587.0,387.09 587.5,387.13 588.0,386.94 588.5,386.74 589.0,386.46 589.5,386.17 590.0,385.87 590.5,386.12 591.0,386.60 591.5,386.82 592.0,386.97 592.5,387.16 593.0,387.12 593.5,387.07 594.0,387.18 594.5,387.17 595.0,387.32 595.5,387.29 596.0,387.24 596.5,387.34 597.0,387.54 597.5,387.40 598.0,387.44 598.5,387.40 599.0,387.35 599.5,387.20 600.0,387.14 600.5,387.18 601.0,387.35 601.5,387.32 602.0,387.47 602.5,387.61 603.0,387.61 603.5,387.52 604.0,387.51 604.5,387.44 605.0,387.42 605.5,387.47 606.0,387.49 606.5,387.50 607.0,387.51 607.5,387.44 608.0,387.27 608.5,387.38 609.0,387.37 609.5,387.26 610.0,387.29 610.5,387.36 611.0,387.12 611.5,387.07 612.0,387.01 612.5,387.00 613.0,387.02 613.5,387.22 614.0,387.22 614.5,387.35 615.0,387.32 615.5,387.30 616.0,387.13 616.5,387.21 617.0,387.19 617.5,387.18 618.0,387.22 618.5,387.29 619.0,387.17 619.5,387.18 620.0,387.31 620.5,387.28 621.0,387.21 621.5,387.22 622.0,387.33 622.5,387.19 623.0,387.29 623.5,387.38 624.0,387.47 624.5,387.34 625.0,387.29 625.5,387.18 626.0,387.35 626.5,387.29 627.0,387.34 627.5,387.43 628.0,387.45 628.5,387.32 629.0,387.37 629.5,387.49 630.0,387.51 630.5,387.51 631.0,387.44 631.5,387.32 632.0,387.05 632.5,387.10 633.0,386.99 633.5,387.13 634.0,387.29 634.5,387.38 635.0,387.26 635.5,387.39 636.0,387.30 636.5,387.32 637.0,387.29 637.5,387.34 638.0,387.34 638.5,387.32 639.0,387.20 639.5,387.13 640.0,387.05 640.5,387.01 641.0,387.01 641.5,387.13 642.0,387.41 642.5,387.65 643.0,387.73 643.5,387.87 644.0,387.80 644.5,387.60 645.0,387.65 645.5,387.55 646.0,387.39 646.5,387.38 647.0,387.52 647.5,387.32 648.0,387.45 648.5,387.45 649.0,387.39 649.5,387.30 650.0,387.36 650.5,387.22 651.0,387.19 651.5,387.23 652.0,387.28 652.5,387.30 653.0,387.40 653.5,387.50 654.0,387.52"/>
<path d="M21.9 1.6H683.3" stroke="#1a1a1a" stroke-width="1.3" fill="none"/>
<path d="M22.6 1V407.8" stroke="#111" stroke-width="1.4" fill="none"/>
<path d="M682.6 1V407.8" stroke="#333" stroke-width="1.4" fill="none"/>
<path d="M21.9 407.0H683.3" stroke="#606060" stroke-width="1.7" fill="none"/>
<path d="M28.70 407.6V410.8 M65.40 407.6V413.6 M102.10 407.6V410.8 M138.80 407.6V413.6 M175.50 407.6V410.8 M212.20 407.6V413.6 M248.90 407.6V410.8 M285.60 407.6V413.6 M322.30 407.6V410.8 M359.00 407.6V413.6 M395.70 407.6V410.8 M432.40 407.6V413.6 M469.10 407.6V410.8 M505.80 407.6V413.6 M542.50 407.6V410.8 M579.20 407.6V413.6 M615.90 407.6V410.8 M652.60 407.6V413.6" stroke="#222" stroke-width="1.6" fill="none"/>
<g font-family="Liberation Serif" font-weight="bold" font-size="15" text-anchor="middle" fill="#111">
<text x="65.40" y="434.9">10</text>
<text x="138.80" y="434.9">20</text>
<text x="212.20" y="434.9">30</text>
<text x="285.60" y="434.9">40</text>
<text x="359.00" y="434.9">50</text>
<text x="432.40" y="434.9">60</text>
<text x="505.80" y="434.9">70</text>
<text x="579.20" y="434.9">80</text>
<text x="652.60" y="434.9">90</text>
</g>
<text x="352.3" y="462" font-family="Liberation Serif" font-weight="bold" font-size="17" text-anchor="middle" fill="#111">2-Theta (Degree)</text>
<text transform="translate(12.9,199.5) rotate(-90)" font-family="Liberation Serif" font-weight="bold" font-size="17" text-anchor="middle" fill="#111">Intensity (cps)</text>
<g font-family="Liberation Serif" font-weight="bold" font-size="12.2" fill="#111">
<text x="656" y="152.7">T9</text>
<text x="656" y="169.7">T8</text>
<text x="656" y="216.8">T7</text>
<text x="657" y="251.5">T6</text>
<text x="656.5" y="267.4">T5</text>
<text x="656.5" y="286.7">T4</text>
<text x="657.5" y="329.3">T3</text>
<text x="656" y="370.6">T2</text>
<text x="656" y="392.8">T1</text>
</g>
<g font-family="Liberation Serif" font-weight="bold" font-size="9.3" fill="#111">
<text x="147.3" y="119.2" text-anchor="middle">Q</text>
<text x="188.2" y="120.5" text-anchor="middle">Q</text>
<text x="282.7" y="120.9" text-anchor="middle">M</text>
<text x="362.3" y="119.4" text-anchor="middle">Q</text>
<text x="434.6" y="119.4" text-anchor="middle">Q</text>
<text x="496.3" y="121" text-anchor="middle">K</text>
<text x="295" y="123.2" text-anchor="middle" font-size="8.9">Ar</text>
<text transform="translate(175.0,121.75) rotate(-90)">CSH</text>
<text transform="translate(201.8,120.7) rotate(-90)">CSH</text>
<text transform="translate(212.5,121.3) rotate(-90)">CSH</text>
<text transform="translate(242.8,120.5) rotate(-90)">NCASH</text>
<text transform="translate(254.6,121.3) rotate(-90)">NCASH</text>
<text transform="translate(265.7,121.3) rotate(-90)">CSH</text>
<text transform="translate(310.1,121.4) rotate(-90)">NCASH</text>
</g>
<rect x="436" y="1.6" width="246.5" height="87.3" fill="#fff" stroke="#111" stroke-width="1.6"/>
<g font-family="Liberation Serif" font-weight="bold" font-size="11.1" fill="#111">
<text x="437.8" y="13.2">Q - Quartz</text>
<text x="437.8" y="27.9">CSH - Calcium silicate hydrate</text>
<text x="437.8" y="42.0">NCASH - Sodium-calcium-alumino silicate hydrate</text>
<text x="437.8" y="56.3">M - Mullite</text>
<text x="437.8" y="70.5">Ar - Arogonite</text>
<text x="437.8" y="84.8">K - Kyanite</text>
</g>
</svg>
</body></html>
